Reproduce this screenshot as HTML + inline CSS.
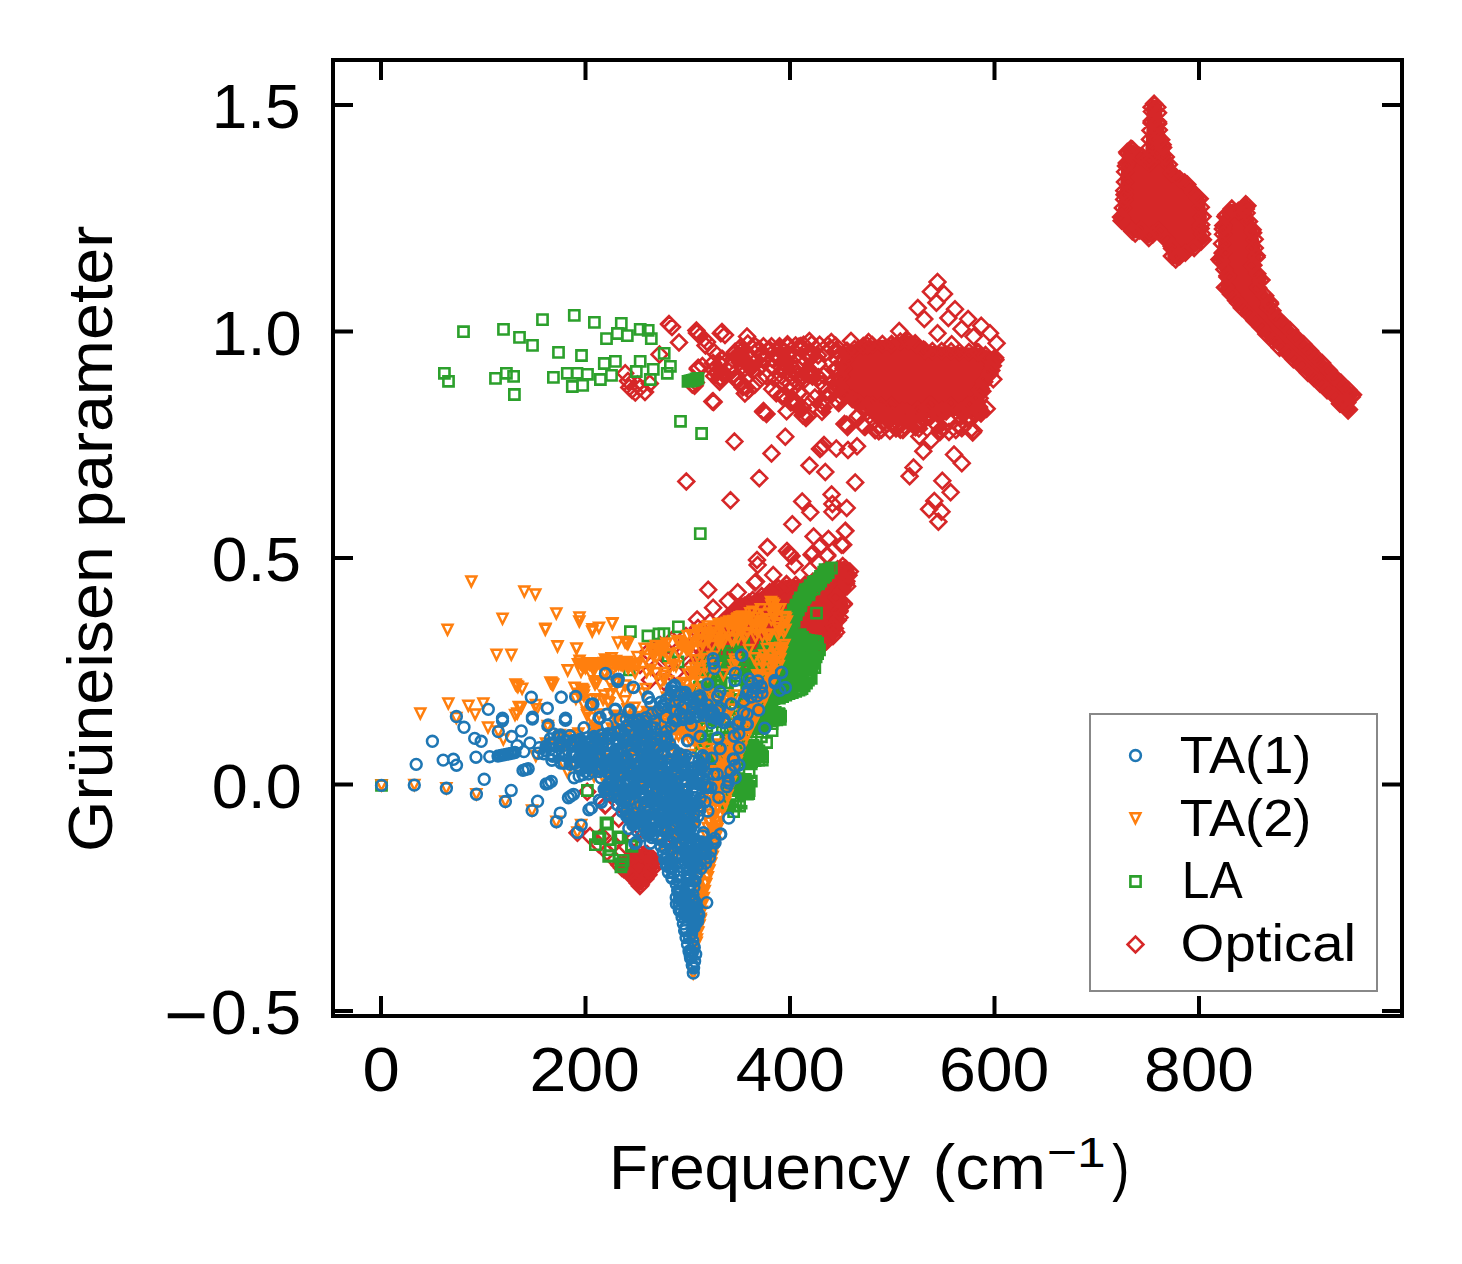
<!DOCTYPE html>
<html lang="en"><head><meta charset="utf-8"><title>Grüneisen parameter vs Frequency</title>
<style>html,body{margin:0;padding:0;background:#fff;width:1462px;height:1264px;overflow:hidden}svg text{font-family:"Liberation Sans",sans-serif}</style></head>
<body>
<svg width="1462" height="1264" viewBox="0 0 1462 1264" style="position:absolute;left:0;top:0;font-family:'Liberation Sans',sans-serif">
<rect width="1462" height="1264" fill="#fff"/>
<clipPath id="ax"><rect x="333" y="60" width="1069" height="956"/></clipPath>
<g clip-path="url(#ax)">
<polygon points="1157.9,101 1157.5,100.7 1157.2,100.4 1156.8,100.1 1156.4,99.9 1156,99.8 1155.5,99.6 1155.1,99.5 1154.6,99.5 1154.2,99.5 1153.7,99.5 1153.2,99.6 1152.8,99.8 1152.4,99.9 1152,100.1 1151.6,100.4 1151.2,100.7 1150.9,101 1148.1,103.9 1147.8,104.2 1147.6,104.6 1147.3,105 1147.1,105.4 1147,105.9 1146.9,106.3 1146.8,106.7 1146.8,107.2 1146.8,122.8 1145.1,153.7 1133.9,144.9 1133.5,144.7 1133.1,144.4 1132.7,144.2 1132.2,144.1 1131.8,144 1131.3,143.9 1130.8,143.9 1130.4,144 1129.9,144 1129.4,144.2 1129,144.3 1128.6,144.6 1128.2,144.8 1127.8,145.1 1124,148.4 1123.6,148.8 1123.3,149.1 1123.1,149.5 1122.8,149.9 1122.7,150.3 1122.5,150.8 1122.4,151.2 1122.3,151.7 1121.2,165.6 1121.2,165.8 1119.8,194.2 1116.9,216.7 1116.9,217.3 1116.9,220.7 1116.9,221.2 1117,221.7 1117.1,222.1 1117.3,222.6 1117.5,223 1117.8,223.4 1118.1,223.8 1118.4,224.2 1131.9,237.1 1132.3,237.4 1132.6,237.7 1133.1,237.9 1133.5,238.1 1134,238.2 1134.5,238.3 1134.9,238.4 1135.4,238.4 1135.9,238.3 1136.4,238.2 1136.8,238.1 1137.3,237.9 1137.7,237.7 1140.3,236.1 1145.3,241.3 1145.7,241.6 1146,241.9 1146.4,242.1 1146.9,242.4 1147.3,242.5 1147.8,242.6 1148.2,242.7 1148.7,242.8 1149.2,242.7 1149.6,242.7 1150.1,242.6 1150.6,242.4 1151,242.2 1151.4,242 1151.8,241.7 1157.5,237.2 1167.3,250 1167.3,256.2 1167.3,256.7 1167.4,257.2 1167.5,257.7 1167.7,258.1 1167.9,258.6 1168.2,259 1168.5,259.4 1168.9,259.7 1172.5,263 1172.8,263.3 1173.2,263.6 1173.6,263.8 1174,264 1174.5,264.1 1174.9,264.2 1175.4,264.3 1175.8,264.3 1176.3,264.3 1176.8,264.2 1177.2,264.1 1177.6,263.9 1178,263.7 1178.4,263.4 1178.8,263.2 1182.4,260.1 1196.3,251.8 1196.7,251.6 1197,251.3 1206.1,243.3 1206.4,242.9 1206.7,242.6 1207,242.2 1207.2,241.8 1207.4,241.4 1207.5,241 1207.6,240.5 1207.7,240.1 1207.7,239.6 1207.7,239.2 1207.6,238.7 1205.5,228.2 1206.9,217.4 1206.9,217 1206.9,216.6 1206.9,216.2 1204.4,198.1 1204.4,197.6 1204.2,197.2 1204,196.7 1203.8,196.3 1203.5,195.9 1203.2,195.5 1188.2,179.2 1187.9,178.9 1187.5,178.7 1176,169.9 1167.2,143.4 1162.8,123.1 1162,107.1 1162,106.6 1161.9,106.1 1161.7,105.7 1161.6,105.2 1161.3,104.8 1161,104.4 1160.7,104 1157.9,101" fill="#d62728"/><polygon points="1249.2,200.8 1248.8,200.6 1248.4,200.3 1248,200.1 1247.6,199.9 1247.2,199.8 1246.7,199.7 1246.3,199.6 1245.8,199.6 1245.4,199.7 1244.9,199.8 1244.5,199.9 1244,200 1243.6,200.3 1243.3,200.5 1242.9,200.8 1237.2,205.6 1233.5,204.1 1233.1,204 1232.6,203.9 1232.1,203.8 1231.6,203.8 1231.1,203.9 1230.6,203.9 1230.2,204.1 1229.7,204.3 1229.3,204.5 1228.9,204.8 1228.5,205.1 1228.1,205.4 1222.8,211.5 1222.5,211.9 1222.3,212.3 1222.1,212.7 1221.9,213.1 1221.8,213.5 1218.2,227.9 1218.1,228.4 1218.1,229 1218.1,251.5 1215.2,257.4 1215,257.8 1214.8,258.3 1214.7,258.8 1214.7,259.3 1214.7,259.8 1214.7,260.2 1214.8,260.7 1215,261.2 1215.2,261.6 1222.4,276.2 1220.2,286.4 1220.2,286.8 1220.1,287.3 1220.1,287.8 1220.2,288.3 1220.3,288.8 1220.5,289.2 1220.7,289.7 1221,290.1 1221.3,290.5 1234.5,306 1234.6,306.2 1265.6,340 1265.9,340.3 1339.8,408.6 1344.5,413.7 1344.8,414 1345.2,414.3 1345.6,414.6 1346.1,414.8 1346.5,415 1347,415.1 1347.4,415.2 1347.9,415.3 1348.4,415.2 1348.9,415.2 1349.4,415.1 1349.8,414.9 1350.3,414.7 1350.7,414.5 1351.1,414.2 1351.4,413.9 1352.3,413 1352.6,412.7 1352.8,412.3 1353.1,411.9 1353.3,411.5 1353.4,411.1 1353.6,410.7 1353.6,410.2 1353.7,409.8 1353.7,409.3 1353.6,408.9 1353.5,408.4 1352,402.6 1356.4,398.2 1356.7,397.8 1357,397.4 1357.2,397 1357.4,396.6 1357.6,396.2 1357.7,395.7 1357.7,395.3 1357.8,394.8 1357.8,394.3 1357.7,393.9 1357.6,393.4 1357.4,393 1357.2,392.5 1357,392.1 1356.7,391.8 1356.4,391.4 1287.4,321.2 1273.5,305.7 1274.2,303.8 1274.3,303.4 1274.4,302.9 1274.4,302.4 1274.4,301.9 1274.3,301.5 1274.2,301 1274.1,300.6 1273.9,300.1 1273.6,299.7 1273.4,299.3 1263.4,287 1265.8,282 1266,281.6 1266.2,281.1 1266.3,280.6 1266.3,280.1 1266.3,279.6 1266.2,279.1 1266.1,278.7 1266,278.2 1265.8,277.7 1265.5,277.3 1257.9,265.5 1261.1,257.5 1261.3,257.1 1261.4,256.7 1261.4,256.3 1261.5,255.8 1261.5,255.4 1261.4,255 1257.8,232 1257.7,231.3 1250.9,209.4 1251.7,207.8 1251.9,207.4 1252,206.9 1252.1,206.5 1252.2,206 1252.2,205.5 1252.1,205 1252.1,204.5 1251.9,204.1 1251.7,203.6 1251.5,203.2 1251.2,202.8 1250.9,202.4 1250.6,202.1 1249.2,200.8" fill="#d62728"/><polygon points="845.3,346.4 844.8,346.5 844.3,346.7 843.9,347 843.5,347.3 843.1,347.6 842.8,347.9 842.5,348.3 842.3,348.8 842.1,349.2 841.9,349.7 841.8,350.1 834.7,387.9 834.6,388.4 834.6,388.8 834.6,389.3 834.7,389.8 834.8,390.2 835,390.7 835.2,391.1 835.4,391.5 835.7,391.8 836,392.2 841.4,397.6 841.7,397.9 842.1,398.2 853.9,406 854.2,406.2 854.6,406.4 855,406.6 867.5,410.8 879.1,418.5 879.5,418.7 879.9,418.9 880.4,419.1 880.8,419.2 881.3,419.3 881.8,419.3 918.5,419.3 919,419.3 940.4,417.1 962.8,414.9 973.7,418 974.2,418.1 974.7,418.1 975.1,418.1 975.6,418.1 976.1,418 976.6,417.9 977,417.7 977.5,417.5 977.9,417.2 978.3,416.9 978.6,416.6 978.9,416.2 982.6,411.1 982.9,410.6 983.1,410.2 983.3,409.7 983.4,409.2 983.5,408.7 985.4,390.1 995.4,373 995.5,372.6 995.7,372.3 999.8,361.4 1000,361 1000.1,360.6 1000.1,360.1 1000.1,359.6 1000.1,359.2 999.9,357.1 999.8,356.7 999.7,356.2 999.5,355.8 999.3,355.4 999.1,355 998.8,354.6 998.5,354.3 998.2,354 997.8,353.7 997.4,353.5 997,353.3 996.6,353.1 980.2,347.9 979.7,347.8 979.3,347.7 978.9,347.7 926.7,345.7 918,339.3 917.5,339 917,338.7 909.3,335.5 908.9,335.3 908.4,335.2 908,335.1 907.6,335.1 907.1,335.1 906.7,335.2 906.2,335.3 890.8,339.3 866.9,340.7 866.4,340.7 866,340.8 845.3,346.4" fill="#d62728"/><polygon points="694.2,657.7 694,658.1 693.9,658.5 693.7,659 693.7,659.5 693.7,659.9 693.7,660.4 693.8,660.8 693.9,661.3 694.1,661.7 694.3,662.1 699.8,672.1 700.1,672.6 700.4,672.9 700.7,673.3 701.1,673.6 701.5,673.9 701.9,674.1 702.4,674.3 702.8,674.5 703.3,674.6 703.8,674.6 704.3,674.6 704.7,674.6 719.5,672.3 719.6,672.3 759.6,665.3 798.9,659.4 799.3,659.3 799.8,659.2 822.6,651 823.1,650.8 823.5,650.6 823.9,650.3 824.3,650 839.4,635.6 839.7,635.3 840,634.9 840.2,634.5 840.5,634.1 840.6,633.6 840.8,633.1 840.8,632.6 840.9,632.2 840.8,631.7 840.8,631.2 840.6,630.7 840.5,630.3 838.9,626.7 843.4,620.4 843.7,620 843.9,619.5 844.1,619.1 844.2,618.6 844.3,618.1 844.3,617.6 844.3,612.2 847.6,607.2 847.8,606.8 848.1,606.4 848.2,605.9 848.3,605.5 848.4,605 848.4,604.5 848.4,604 848.3,603.6 848.2,603.1 848,602.7 847.8,602.2 847.5,601.8 847.3,601.4 843.3,596.9 850.4,589.7 850.8,589.4 851.1,589 851.3,588.5 851.5,588.1 851.7,587.6 851.8,587.1 851.8,586.7 851.8,586.2 851.8,585.7 851.2,581.7 854.3,573.2 854.4,572.8 854.5,572.3 854.6,571.8 854.6,571.4 854.6,570.9 854.5,570.5 854.3,570 854.2,569.6 854,569.2 853.7,568.8 853.4,568.4 853.1,568.1 852.7,567.8 845.6,562.2 845.2,561.9 844.8,561.7 844.4,561.5 843.9,561.4 843.5,561.3 843,561.2 842.6,561.2 842.1,561.2 841.6,561.3 841.2,561.4 840.8,561.6 840.3,561.8 839.9,562 839.6,562.3 839.2,562.6 836.6,565.2 806.6,579.7 786.7,579.7 786.1,579.7 785.6,579.8 785.1,580 784.6,580.2 771.2,586.4 771.1,586.5 746.8,598.2 746.4,598.3 746,598.6 739.5,603.2 724.2,613.8 723.8,614.1 723.4,614.4 707.7,631 707.4,631.4 707.1,631.8 706.9,632.2 694.2,657.7" fill="#d62728"/><polygon points="617.5,861.3 617.1,861.6 616.8,861.9 616.5,862.2 616.2,862.6 615.9,863 615.7,863.4 615.6,863.9 615.4,864.3 615.4,864.8 615.3,865.2 615.3,865.7 615.4,866.2 615.5,866.6 615.7,867.1 615.9,867.5 616.1,867.9 616.4,868.3 616.7,868.6 636.4,889.3 636.7,889.6 637.1,889.9 637.5,890.1 637.9,890.3 638.3,890.5 638.8,890.6 639.2,890.7 639.7,890.7 640.1,890.7 640.6,890.7 641.1,890.6 641.5,890.4 641.9,890.2 642.3,890 642.7,889.8 643.1,889.5 643.4,889.1 643.7,888.8 656.4,871.4 656.6,871 656.8,870.6 657,870.2 657.1,869.8 657.2,869.4 657.3,869 658.1,859.7 658.1,859.2 658.1,858.8 658.1,858.3 657.9,857.9 657.8,857.4 657.6,857 657.4,856.6 657.1,856.3 656.8,855.9 656.5,855.6 656.1,855.3 648,849.6 647.6,849.3 647.2,849.1 646.7,849 646.3,848.8 645.8,848.7 645.3,848.7 644.9,848.7 644.4,848.8 634.8,850.4 634.3,850.5 633.8,850.7 633.4,850.9 633,851.1 617.5,861.3" fill="#d62728"/>
<path d="M661.4,324.5l7.9,-7.9l7.9,7.9l-7.9,7.9zM671.1,342.5l7.9,-7.9l7.9,7.9l-7.9,7.9zM688.5,330.4l7.9,-7.9l7.9,7.9l-7.9,7.9zM651.6,354.4l7.9,-7.9l7.9,7.9l-7.9,7.9zM617.3,373.3l7.9,-7.9l7.9,7.9l-7.9,7.9zM621.4,387.5l7.9,-7.9l7.9,7.9l-7.9,7.9zM627.4,392.6l7.9,-7.9l7.9,7.9l-7.9,7.9zM629.6,384.4l7.9,-7.9l7.9,7.9l-7.9,7.9zM641.9,383.4l7.9,-7.9l7.9,7.9l-7.9,7.9zM704.5,401.4l7.9,-7.9l7.9,7.9l-7.9,7.9zM624.1,390l7.9,-7.9l7.9,7.9l-7.9,7.9zM632.1,388l7.9,-7.9l7.9,7.9l-7.9,7.9zM637.1,392l7.9,-7.9l7.9,7.9l-7.9,7.9zM620.1,381l7.9,-7.9l7.9,7.9l-7.9,7.9zM705.7,402.1l7.9,-7.9l7.9,7.9l-7.9,7.9zM726.5,441.6l7.9,-7.9l7.9,7.9l-7.9,7.9zM678.4,481.4l7.9,-7.9l7.9,7.9l-7.9,7.9zM722.6,500.3l7.9,-7.9l7.9,7.9l-7.9,7.9zM751.4,478.2l7.9,-7.9l7.9,7.9l-7.9,7.9zM763.6,453.5l7.9,-7.9l7.9,7.9l-7.9,7.9zM777.4,436.7l7.9,-7.9l7.9,7.9l-7.9,7.9zM755.3,411.7l7.9,-7.9l7.9,7.9l-7.9,7.9zM801.6,465.5l7.9,-7.9l7.9,7.9l-7.9,7.9zM817.4,472l7.9,-7.9l7.9,7.9l-7.9,7.9zM814.1,447.3l7.9,-7.9l7.9,7.9l-7.9,7.9zM812.1,449l7.9,-7.9l7.9,7.9l-7.9,7.9zM816.1,445l7.9,-7.9l7.9,7.9l-7.9,7.9zM828.4,448.6l7.9,-7.9l7.9,7.9l-7.9,7.9zM840.1,449.9l7.9,-7.9l7.9,7.9l-7.9,7.9zM849.1,446.3l7.9,-7.9l7.9,7.9l-7.9,7.9zM847.3,482.4l7.9,-7.9l7.9,7.9l-7.9,7.9zM823.7,494.4l7.9,-7.9l7.9,7.9l-7.9,7.9zM824.5,504l7.9,-7.9l7.9,7.9l-7.9,7.9zM824.5,511.8l7.9,-7.9l7.9,7.9l-7.9,7.9zM838.8,507.9l7.9,-7.9l7.9,7.9l-7.9,7.9zM794.3,501.4l7.9,-7.9l7.9,7.9l-7.9,7.9zM802.4,512.3l7.9,-7.9l7.9,7.9l-7.9,7.9zM784.4,524.3l7.9,-7.9l7.9,7.9l-7.9,7.9zM837.5,530.8l7.9,-7.9l7.9,7.9l-7.9,7.9zM805.7,536.5l7.9,-7.9l7.9,7.9l-7.9,7.9zM820.6,539.1l7.9,-7.9l7.9,7.9l-7.9,7.9zM833.6,544.8l7.9,-7.9l7.9,7.9l-7.9,7.9zM811.5,546.9l7.9,-7.9l7.9,7.9l-7.9,7.9zM759.5,546.9l7.9,-7.9l7.9,7.9l-7.9,7.9zM781.6,553.4l7.9,-7.9l7.9,7.9l-7.9,7.9zM779.1,551l7.9,-7.9l7.9,7.9l-7.9,7.9zM803.7,554.7l7.9,-7.9l7.9,7.9l-7.9,7.9zM819.3,556l7.9,-7.9l7.9,7.9l-7.9,7.9zM749.1,559.9l7.9,-7.9l7.9,7.9l-7.9,7.9zM915.4,451.2l7.9,-7.9l7.9,7.9l-7.9,7.9zM911.5,436.4l7.9,-7.9l7.9,7.9l-7.9,7.9zM923.2,440.3l7.9,-7.9l7.9,7.9l-7.9,7.9zM905.6,467.6l7.9,-7.9l7.9,7.9l-7.9,7.9zM901.7,476.2l7.9,-7.9l7.9,7.9l-7.9,7.9zM946.1,454.6l7.9,-7.9l7.9,7.9l-7.9,7.9zM953.9,463.2l7.9,-7.9l7.9,7.9l-7.9,7.9zM934.4,480.8l7.9,-7.9l7.9,7.9l-7.9,7.9zM942.7,492.3l7.9,-7.9l7.9,7.9l-7.9,7.9zM926.4,500.9l7.9,-7.9l7.9,7.9l-7.9,7.9zM921.2,509.2l7.9,-7.9l7.9,7.9l-7.9,7.9zM933.6,511.8l7.9,-7.9l7.9,7.9l-7.9,7.9zM930.5,521.7l7.9,-7.9l7.9,7.9l-7.9,7.9zM964.8,432.5l7.9,-7.9l7.9,7.9l-7.9,7.9zM947.9,429.9l7.9,-7.9l7.9,7.9l-7.9,7.9zM934.9,428.6l7.9,-7.9l7.9,7.9l-7.9,7.9zM907.6,427.3l7.9,-7.9l7.9,7.9l-7.9,7.9zM888.1,428.6l7.9,-7.9l7.9,7.9l-7.9,7.9zM855.7,426l7.9,-7.9l7.9,7.9l-7.9,7.9zM838.8,424.7l7.9,-7.9l7.9,7.9l-7.9,7.9zM814.1,411.7l7.9,-7.9l7.9,7.9l-7.9,7.9zM795.9,415.6l7.9,-7.9l7.9,7.9l-7.9,7.9zM782.9,402.6l7.9,-7.9l7.9,7.9l-7.9,7.9zM929.6,281.9l7.9,-7.9l7.9,7.9l-7.9,7.9zM923,291.7l7.9,-7.9l7.9,7.9l-7.9,7.9zM936.1,293.9l7.9,-7.9l7.9,7.9l-7.9,7.9zM928.5,302.7l7.9,-7.9l7.9,7.9l-7.9,7.9zM909.9,308.1l7.9,-7.9l7.9,7.9l-7.9,7.9zM916.4,319.1l7.9,-7.9l7.9,7.9l-7.9,7.9zM947.1,309.2l7.9,-7.9l7.9,7.9l-7.9,7.9zM940.5,318l7.9,-7.9l7.9,7.9l-7.9,7.9zM929.6,333.3l7.9,-7.9l7.9,7.9l-7.9,7.9zM943.8,344.3l7.9,-7.9l7.9,7.9l-7.9,7.9zM960.2,319.1l7.9,-7.9l7.9,7.9l-7.9,7.9zM953.6,328.9l7.9,-7.9l7.9,7.9l-7.9,7.9zM973.3,325.7l7.9,-7.9l7.9,7.9l-7.9,7.9zM965.7,336.6l7.9,-7.9l7.9,7.9l-7.9,7.9zM982.1,333.3l7.9,-7.9l7.9,7.9l-7.9,7.9zM988.7,343.2l7.9,-7.9l7.9,7.9l-7.9,7.9zM891.3,331.1l7.9,-7.9l7.9,7.9l-7.9,7.9zM712.9,333.3l7.9,-7.9l7.9,7.9l-7.9,7.9zM739.1,336.6l7.9,-7.9l7.9,7.9l-7.9,7.9zM697.6,345.4l7.9,-7.9l7.9,7.9l-7.9,7.9zM705.2,362.9l7.9,-7.9l7.9,7.9l-7.9,7.9zM705.2,401.2l7.9,-7.9l7.9,7.9l-7.9,7.9zM737,393.5l7.9,-7.9l7.9,7.9l-7.9,7.9zM755.6,411l7.9,-7.9l7.9,7.9l-7.9,7.9zM784,401.2l7.9,-7.9l7.9,7.9l-7.9,7.9zM795,415.4l7.9,-7.9l7.9,7.9l-7.9,7.9zM812.5,404.5l7.9,-7.9l7.9,7.9l-7.9,7.9zM836.6,424.1l7.9,-7.9l7.9,7.9l-7.9,7.9zM764.3,389.1l7.9,-7.9l7.9,7.9l-7.9,7.9zM762.1,349.7l7.9,-7.9l7.9,7.9l-7.9,7.9zM779.6,344.3l7.9,-7.9l7.9,7.9l-7.9,7.9zM801.5,341l7.9,-7.9l7.9,7.9l-7.9,7.9zM823.4,342.1l7.9,-7.9l7.9,7.9l-7.9,7.9zM843.1,341l7.9,-7.9l7.9,7.9l-7.9,7.9zM860.6,342.1l7.9,-7.9l7.9,7.9l-7.9,7.9zM985.4,379.3l7.9,-7.9l7.9,7.9l-7.9,7.9zM974.4,391.3l7.9,-7.9l7.9,7.9l-7.9,7.9zM978.8,408.8l7.9,-7.9l7.9,7.9l-7.9,7.9zM965.7,430.7l7.9,-7.9l7.9,7.9l-7.9,7.9zM954.1,428l7.9,-7.9l7.9,7.9l-7.9,7.9zM932.1,432l7.9,-7.9l7.9,7.9l-7.9,7.9zM911,428.5l7.9,-7.9l7.9,7.9l-7.9,7.9zM886.9,426.3l7.9,-7.9l7.9,7.9l-7.9,7.9zM759.6,547.2l7.9,-7.9l7.9,7.9l-7.9,7.9zM749.7,565l7.9,-7.9l7.9,7.9l-7.9,7.9zM748.1,581.6l7.9,-7.9l7.9,7.9l-7.9,7.9zM782.5,554.9l7.9,-7.9l7.9,7.9l-7.9,7.9zM783.6,556l7.9,-7.9l7.9,7.9l-7.9,7.9zM781.1,553.5l7.9,-7.9l7.9,7.9l-7.9,7.9zM805.7,536.5l7.9,-7.9l7.9,7.9l-7.9,7.9zM820.5,538.9l7.9,-7.9l7.9,7.9l-7.9,7.9zM837.1,531.2l7.9,-7.9l7.9,7.9l-7.9,7.9zM835.3,544.8l7.9,-7.9l7.9,7.9l-7.9,7.9zM812.8,545.4l7.9,-7.9l7.9,7.9l-7.9,7.9zM819.3,554.9l7.9,-7.9l7.9,7.9l-7.9,7.9zM805.1,553.1l7.9,-7.9l7.9,7.9l-7.9,7.9zM809.8,562l7.9,-7.9l7.9,7.9l-7.9,7.9zM786.7,565.6l7.9,-7.9l7.9,7.9l-7.9,7.9zM802.1,570.3l7.9,-7.9l7.9,7.9l-7.9,7.9zM765.3,575.1l7.9,-7.9l7.9,7.9l-7.9,7.9zM700.3,589.8l7.9,-7.9l7.9,7.9l-7.9,7.9zM705.2,607.7l7.9,-7.9l7.9,7.9l-7.9,7.9zM689.2,619.4l7.9,-7.9l7.9,7.9l-7.9,7.9zM720,600.9l7.9,-7.9l7.9,7.9l-7.9,7.9zM729.8,592.3l7.9,-7.9l7.9,7.9l-7.9,7.9zM747.1,582.5l7.9,-7.9l7.9,7.9l-7.9,7.9zM597.5,804.9l7.9,-7.9l7.9,7.9l-7.9,7.9zM610.8,818.7l7.9,-7.9l7.9,7.9l-7.9,7.9zM569.8,832.6l7.9,-7.9l7.9,7.9l-7.9,7.9zM579.3,791.7l7.9,-7.9l7.9,7.9l-7.9,7.9zM597.2,805.4l7.9,-7.9l7.9,7.9l-7.9,7.9zM569.5,832.8l7.9,-7.9l7.9,7.9l-7.9,7.9zM1146.2,103.7l7.9,-7.9l7.9,7.9l-7.9,7.9zM1144,111.6l7.9,-7.9l7.9,7.9l-7.9,7.9zM1143.8,121.1l7.9,-7.9l7.9,7.9l-7.9,7.9zM1142.6,130.4l7.9,-7.9l7.9,7.9l-7.9,7.9zM1142.1,139.4l7.9,-7.9l7.9,7.9l-7.9,7.9zM1141.7,147.9l7.9,-7.9l7.9,7.9l-7.9,7.9zM1141.7,158.1l7.9,-7.9l7.9,7.9l-7.9,7.9zM1138.2,160.6l7.9,-7.9l7.9,7.9l-7.9,7.9zM1131.8,156.1l7.9,-7.9l7.9,7.9l-7.9,7.9zM1124.6,149.6l7.9,-7.9l7.9,7.9l-7.9,7.9zM1119.8,153.6l7.9,-7.9l7.9,7.9l-7.9,7.9zM1118.9,163l7.9,-7.9l7.9,7.9l-7.9,7.9zM1117.2,171.8l7.9,-7.9l7.9,7.9l-7.9,7.9zM1117.1,182l7.9,-7.9l7.9,7.9l-7.9,7.9zM1116.4,190.7l7.9,-7.9l7.9,7.9l-7.9,7.9zM1116.3,199.4l7.9,-7.9l7.9,7.9l-7.9,7.9zM1115,207.9l7.9,-7.9l7.9,7.9l-7.9,7.9zM1113.1,217.1l7.9,-7.9l7.9,7.9l-7.9,7.9zM1118.5,224.7l7.9,-7.9l7.9,7.9l-7.9,7.9zM1124.4,231.2l7.9,-7.9l7.9,7.9l-7.9,7.9zM1131.9,230.4l7.9,-7.9l7.9,7.9l-7.9,7.9zM1139,235.7l7.9,-7.9l7.9,7.9l-7.9,7.9zM1144.9,234.6l7.9,-7.9l7.9,7.9l-7.9,7.9zM1152,233l7.9,-7.9l7.9,7.9l-7.9,7.9zM1157.9,239.2l7.9,-7.9l7.9,7.9l-7.9,7.9zM1163.8,246.2l7.9,-7.9l7.9,7.9l-7.9,7.9zM1164.1,255.8l7.9,-7.9l7.9,7.9l-7.9,7.9zM1169.9,257.3l7.9,-7.9l7.9,7.9l-7.9,7.9zM1177.4,252.7l7.9,-7.9l7.9,7.9l-7.9,7.9zM1186.3,247.9l7.9,-7.9l7.9,7.9l-7.9,7.9zM1193.3,241.4l7.9,-7.9l7.9,7.9l-7.9,7.9zM1194.2,234l7.9,-7.9l7.9,7.9l-7.9,7.9zM1193.3,224.8l7.9,-7.9l7.9,7.9l-7.9,7.9zM1194.7,216.6l7.9,-7.9l7.9,7.9l-7.9,7.9zM1192.9,207.2l7.9,-7.9l7.9,7.9l-7.9,7.9zM1190.5,198.4l7.9,-7.9l7.9,7.9l-7.9,7.9zM1185.3,192.2l7.9,-7.9l7.9,7.9l-7.9,7.9zM1179.4,184.4l7.9,-7.9l7.9,7.9l-7.9,7.9zM1171.9,179.2l7.9,-7.9l7.9,7.9l-7.9,7.9zM1164,173.4l7.9,-7.9l7.9,7.9l-7.9,7.9zM1161,164.5l7.9,-7.9l7.9,7.9l-7.9,7.9zM1157.9,156.9l7.9,-7.9l7.9,7.9l-7.9,7.9zM1155.2,147.5l7.9,-7.9l7.9,7.9l-7.9,7.9zM1153.3,139.7l7.9,-7.9l7.9,7.9l-7.9,7.9zM1150.9,130.1l7.9,-7.9l7.9,7.9l-7.9,7.9zM1150.1,121.9l7.9,-7.9l7.9,7.9l-7.9,7.9zM1150.1,112.8l7.9,-7.9l7.9,7.9l-7.9,7.9zM1146.5,104.3l7.9,-7.9l7.9,7.9l-7.9,7.9zM1143.7,107.2l7.9,-7.9l7.9,7.9l-7.9,7.9zM1143.7,122.9l7.9,-7.9l7.9,7.9l-7.9,7.9zM1141.5,163.2l7.9,-7.9l7.9,7.9l-7.9,7.9zM1123.1,148.7l7.9,-7.9l7.9,7.9l-7.9,7.9zM1119.3,152.1l7.9,-7.9l7.9,7.9l-7.9,7.9zM1118.1,166l7.9,-7.9l7.9,7.9l-7.9,7.9zM1116.7,194.7l7.9,-7.9l7.9,7.9l-7.9,7.9zM1113.8,217.3l7.9,-7.9l7.9,7.9l-7.9,7.9zM1113.8,220.7l7.9,-7.9l7.9,7.9l-7.9,7.9zM1127.3,233.6l7.9,-7.9l7.9,7.9l-7.9,7.9zM1133.3,229.9l7.9,-7.9l7.9,7.9l-7.9,7.9zM1140.9,238l7.9,-7.9l7.9,7.9l-7.9,7.9zM1150.4,230.4l7.9,-7.9l7.9,7.9l-7.9,7.9zM1164.2,248.4l7.9,-7.9l7.9,7.9l-7.9,7.9zM1164.2,256.2l7.9,-7.9l7.9,7.9l-7.9,7.9zM1167.8,259.5l7.9,-7.9l7.9,7.9l-7.9,7.9zM1171.8,256.2l7.9,-7.9l7.9,7.9l-7.9,7.9zM1186,247.7l7.9,-7.9l7.9,7.9l-7.9,7.9zM1195,239.7l7.9,-7.9l7.9,7.9l-7.9,7.9zM1192.7,228.4l7.9,-7.9l7.9,7.9l-7.9,7.9zM1194.3,216.8l7.9,-7.9l7.9,7.9l-7.9,7.9zM1191.8,198.8l7.9,-7.9l7.9,7.9l-7.9,7.9zM1176.8,182.5l7.9,-7.9l7.9,7.9l-7.9,7.9zM1164.1,172.9l7.9,-7.9l7.9,7.9l-7.9,7.9zM1154.7,144.7l7.9,-7.9l7.9,7.9l-7.9,7.9zM1150.2,123.7l7.9,-7.9l7.9,7.9l-7.9,7.9zM1149.4,107.3l7.9,-7.9l7.9,7.9l-7.9,7.9zM1237.8,204.3l7.9,-7.9l7.9,7.9l-7.9,7.9zM1230.9,211l7.9,-7.9l7.9,7.9l-7.9,7.9zM1223.9,208.9l7.9,-7.9l7.9,7.9l-7.9,7.9zM1217.5,216.4l7.9,-7.9l7.9,7.9l-7.9,7.9zM1215.4,225.6l7.9,-7.9l7.9,7.9l-7.9,7.9zM1215.2,234.3l7.9,-7.9l7.9,7.9l-7.9,7.9zM1214.2,243.7l7.9,-7.9l7.9,7.9l-7.9,7.9zM1214.7,253.1l7.9,-7.9l7.9,7.9l-7.9,7.9zM1213.2,261.5l7.9,-7.9l7.9,7.9l-7.9,7.9zM1216.5,269.5l7.9,-7.9l7.9,7.9l-7.9,7.9zM1219.5,277l7.9,-7.9l7.9,7.9l-7.9,7.9zM1217.9,287.1l7.9,-7.9l7.9,7.9l-7.9,7.9zM1223.1,294.2l7.9,-7.9l7.9,7.9l-7.9,7.9zM1228.2,300.6l7.9,-7.9l7.9,7.9l-7.9,7.9zM1233.9,307.8l7.9,-7.9l7.9,7.9l-7.9,7.9zM1240,313.6l7.9,-7.9l7.9,7.9l-7.9,7.9zM1246.4,320.5l7.9,-7.9l7.9,7.9l-7.9,7.9zM1252.7,327.1l7.9,-7.9l7.9,7.9l-7.9,7.9zM1258.4,334l7.9,-7.9l7.9,7.9l-7.9,7.9zM1265.1,340.7l7.9,-7.9l7.9,7.9l-7.9,7.9zM1271.7,347.7l7.9,-7.9l7.9,7.9l-7.9,7.9zM1279.3,352.8l7.9,-7.9l7.9,7.9l-7.9,7.9zM1285.5,359.3l7.9,-7.9l7.9,7.9l-7.9,7.9zM1292.4,365.1l7.9,-7.9l7.9,7.9l-7.9,7.9zM1299.9,372.7l7.9,-7.9l7.9,7.9l-7.9,7.9zM1306,378.1l7.9,-7.9l7.9,7.9l-7.9,7.9zM1312.1,383.7l7.9,-7.9l7.9,7.9l-7.9,7.9zM1319.2,390.2l7.9,-7.9l7.9,7.9l-7.9,7.9zM1326.7,396.2l7.9,-7.9l7.9,7.9l-7.9,7.9zM1332.1,403.7l7.9,-7.9l7.9,7.9l-7.9,7.9zM1339.3,408.9l7.9,-7.9l7.9,7.9l-7.9,7.9zM1339.4,402.4l7.9,-7.9l7.9,7.9l-7.9,7.9zM1343.8,396.9l7.9,-7.9l7.9,7.9l-7.9,7.9zM1340.6,390l7.9,-7.9l7.9,7.9l-7.9,7.9zM1333.3,382.9l7.9,-7.9l7.9,7.9l-7.9,7.9zM1326.7,377l7.9,-7.9l7.9,7.9l-7.9,7.9zM1320.9,370.5l7.9,-7.9l7.9,7.9l-7.9,7.9zM1314.2,363.1l7.9,-7.9l7.9,7.9l-7.9,7.9zM1308.5,357.8l7.9,-7.9l7.9,7.9l-7.9,7.9zM1302.2,351l7.9,-7.9l7.9,7.9l-7.9,7.9zM1295.7,344.3l7.9,-7.9l7.9,7.9l-7.9,7.9zM1288.4,337.5l7.9,-7.9l7.9,7.9l-7.9,7.9zM1282.2,330.2l7.9,-7.9l7.9,7.9l-7.9,7.9zM1275.3,324l7.9,-7.9l7.9,7.9l-7.9,7.9zM1269.5,317.9l7.9,-7.9l7.9,7.9l-7.9,7.9zM1264.5,310.7l7.9,-7.9l7.9,7.9l-7.9,7.9zM1262.2,304l7.9,-7.9l7.9,7.9l-7.9,7.9zM1257.3,295.7l7.9,-7.9l7.9,7.9l-7.9,7.9zM1250.4,288.3l7.9,-7.9l7.9,7.9l-7.9,7.9zM1252.8,280.3l7.9,-7.9l7.9,7.9l-7.9,7.9zM1249.4,273.7l7.9,-7.9l7.9,7.9l-7.9,7.9zM1245.5,265.2l7.9,-7.9l7.9,7.9l-7.9,7.9zM1248.6,257.3l7.9,-7.9l7.9,7.9l-7.9,7.9zM1246.9,248.1l7.9,-7.9l7.9,7.9l-7.9,7.9zM1246.8,239.3l7.9,-7.9l7.9,7.9l-7.9,7.9zM1244.7,229.8l7.9,-7.9l7.9,7.9l-7.9,7.9zM1241.1,221.6l7.9,-7.9l7.9,7.9l-7.9,7.9zM1238.7,212.9l7.9,-7.9l7.9,7.9l-7.9,7.9zM1238.1,204.4l7.9,-7.9l7.9,7.9l-7.9,7.9zM1230.3,211.1l7.9,-7.9l7.9,7.9l-7.9,7.9zM1223.9,208.6l7.9,-7.9l7.9,7.9l-7.9,7.9zM1218.6,214.7l7.9,-7.9l7.9,7.9l-7.9,7.9zM1215,229l7.9,-7.9l7.9,7.9l-7.9,7.9zM1215,252.7l7.9,-7.9l7.9,7.9l-7.9,7.9zM1211.6,259.5l7.9,-7.9l7.9,7.9l-7.9,7.9zM1219.6,275.6l7.9,-7.9l7.9,7.9l-7.9,7.9zM1217.1,287.4l7.9,-7.9l7.9,7.9l-7.9,7.9zM1230.3,302.9l7.9,-7.9l7.9,7.9l-7.9,7.9zM1261.3,336.8l7.9,-7.9l7.9,7.9l-7.9,7.9zM1335.4,405.2l7.9,-7.9l7.9,7.9l-7.9,7.9zM1340.2,410.5l7.9,-7.9l7.9,7.9l-7.9,7.9zM1341,409.6l7.9,-7.9l7.9,7.9l-7.9,7.9zM1338.8,401.2l7.9,-7.9l7.9,7.9l-7.9,7.9zM1345.1,394.8l7.9,-7.9l7.9,7.9l-7.9,7.9zM1276.1,324.4l7.9,-7.9l7.9,7.9l-7.9,7.9zM1260.3,306.9l7.9,-7.9l7.9,7.9l-7.9,7.9zM1261.8,302.3l7.9,-7.9l7.9,7.9l-7.9,7.9zM1249.9,287.6l7.9,-7.9l7.9,7.9l-7.9,7.9zM1253.6,279.9l7.9,-7.9l7.9,7.9l-7.9,7.9zM1244.6,266l7.9,-7.9l7.9,7.9l-7.9,7.9zM1248.8,255.7l7.9,-7.9l7.9,7.9l-7.9,7.9zM1245.2,232.7l7.9,-7.9l7.9,7.9l-7.9,7.9zM1237.9,208.9l7.9,-7.9l7.9,7.9l-7.9,7.9zM1239.5,205.7l7.9,-7.9l7.9,7.9l-7.9,7.9zM839.4,350.9l7.9,-7.9l7.9,7.9l-7.9,7.9zM836.8,360.6l7.9,-7.9l7.9,7.9l-7.9,7.9zM835.7,368.2l7.9,-7.9l7.9,7.9l-7.9,7.9zM833,377.1l7.9,-7.9l7.9,7.9l-7.9,7.9zM832.6,387l7.9,-7.9l7.9,7.9l-7.9,7.9zM835.7,394l7.9,-7.9l7.9,7.9l-7.9,7.9zM844.4,398.9l7.9,-7.9l7.9,7.9l-7.9,7.9zM851.3,403l7.9,-7.9l7.9,7.9l-7.9,7.9zM859.5,405l7.9,-7.9l7.9,7.9l-7.9,7.9zM868.5,410.6l7.9,-7.9l7.9,7.9l-7.9,7.9zM875.6,415.2l7.9,-7.9l7.9,7.9l-7.9,7.9zM884.5,415.1l7.9,-7.9l7.9,7.9l-7.9,7.9zM894.1,414l7.9,-7.9l7.9,7.9l-7.9,7.9zM902.2,414.2l7.9,-7.9l7.9,7.9l-7.9,7.9zM911.2,414.5l7.9,-7.9l7.9,7.9l-7.9,7.9zM920.2,413.4l7.9,-7.9l7.9,7.9l-7.9,7.9zM929,413.2l7.9,-7.9l7.9,7.9l-7.9,7.9zM938.3,411.6l7.9,-7.9l7.9,7.9l-7.9,7.9zM947.7,411.4l7.9,-7.9l7.9,7.9l-7.9,7.9zM956.3,411l7.9,-7.9l7.9,7.9l-7.9,7.9zM965.1,412.8l7.9,-7.9l7.9,7.9l-7.9,7.9zM971,406.9l7.9,-7.9l7.9,7.9l-7.9,7.9zM971.7,398.2l7.9,-7.9l7.9,7.9l-7.9,7.9zM971.9,390.2l7.9,-7.9l7.9,7.9l-7.9,7.9zM976.3,381.7l7.9,-7.9l7.9,7.9l-7.9,7.9zM981.7,374.1l7.9,-7.9l7.9,7.9l-7.9,7.9zM984.9,365.8l7.9,-7.9l7.9,7.9l-7.9,7.9zM986.9,358l7.9,-7.9l7.9,7.9l-7.9,7.9zM977.6,354.9l7.9,-7.9l7.9,7.9l-7.9,7.9zM969.2,352.1l7.9,-7.9l7.9,7.9l-7.9,7.9zM961,352.1l7.9,-7.9l7.9,7.9l-7.9,7.9zM951.6,352.1l7.9,-7.9l7.9,7.9l-7.9,7.9zM943.2,351.3l7.9,-7.9l7.9,7.9l-7.9,7.9zM933.7,351l7.9,-7.9l7.9,7.9l-7.9,7.9zM924.5,351l7.9,-7.9l7.9,7.9l-7.9,7.9zM915.7,349.5l7.9,-7.9l7.9,7.9l-7.9,7.9zM908.5,344.8l7.9,-7.9l7.9,7.9l-7.9,7.9zM900.7,340.9l7.9,-7.9l7.9,7.9l-7.9,7.9zM892.4,341.6l7.9,-7.9l7.9,7.9l-7.9,7.9zM883.1,344.8l7.9,-7.9l7.9,7.9l-7.9,7.9zM874.5,344l7.9,-7.9l7.9,7.9l-7.9,7.9zM864.4,345l7.9,-7.9l7.9,7.9l-7.9,7.9zM855.4,345.9l7.9,-7.9l7.9,7.9l-7.9,7.9zM846.7,348.9l7.9,-7.9l7.9,7.9l-7.9,7.9zM838.6,351l7.9,-7.9l7.9,7.9l-7.9,7.9zM831.5,388.8l7.9,-7.9l7.9,7.9l-7.9,7.9zM836.9,394.2l7.9,-7.9l7.9,7.9l-7.9,7.9zM848.7,402l7.9,-7.9l7.9,7.9l-7.9,7.9zM861.8,406.4l7.9,-7.9l7.9,7.9l-7.9,7.9zM873.9,414.5l7.9,-7.9l7.9,7.9l-7.9,7.9zM910.7,414.5l7.9,-7.9l7.9,7.9l-7.9,7.9zM932.1,412.3l7.9,-7.9l7.9,7.9l-7.9,7.9zM955.4,410l7.9,-7.9l7.9,7.9l-7.9,7.9zM967.2,413.3l7.9,-7.9l7.9,7.9l-7.9,7.9zM970.9,408.2l7.9,-7.9l7.9,7.9l-7.9,7.9zM972.8,388.6l7.9,-7.9l7.9,7.9l-7.9,7.9zM983.4,370.6l7.9,-7.9l7.9,7.9l-7.9,7.9zM987.5,359.7l7.9,-7.9l7.9,7.9l-7.9,7.9zM987.2,357.7l7.9,-7.9l7.9,7.9l-7.9,7.9zM970.8,352.5l7.9,-7.9l7.9,7.9l-7.9,7.9zM917.2,350.4l7.9,-7.9l7.9,7.9l-7.9,7.9zM907.3,343.2l7.9,-7.9l7.9,7.9l-7.9,7.9zM899.6,339.9l7.9,-7.9l7.9,7.9l-7.9,7.9zM883.7,344l7.9,-7.9l7.9,7.9l-7.9,7.9zM859.3,345.4l7.9,-7.9l7.9,7.9l-7.9,7.9zM738.7,377.7l7.9,-7.9l7.9,7.9l-7.9,7.9zM793.1,349.8l7.9,-7.9l7.9,7.9l-7.9,7.9zM765,366.5l7.9,-7.9l7.9,7.9l-7.9,7.9zM828.6,383.3l7.9,-7.9l7.9,7.9l-7.9,7.9zM739.5,363.8l7.9,-7.9l7.9,7.9l-7.9,7.9zM777.6,359.3l7.9,-7.9l7.9,7.9l-7.9,7.9zM743.2,358.3l7.9,-7.9l7.9,7.9l-7.9,7.9zM781.7,364.3l7.9,-7.9l7.9,7.9l-7.9,7.9zM789.2,367.8l7.9,-7.9l7.9,7.9l-7.9,7.9zM733.4,355.8l7.9,-7.9l7.9,7.9l-7.9,7.9zM751.2,349.2l7.9,-7.9l7.9,7.9l-7.9,7.9zM810.2,355.4l7.9,-7.9l7.9,7.9l-7.9,7.9zM738.2,387.5l7.9,-7.9l7.9,7.9l-7.9,7.9zM783.5,376.9l7.9,-7.9l7.9,7.9l-7.9,7.9zM796.1,363.5l7.9,-7.9l7.9,7.9l-7.9,7.9zM770.9,359.3l7.9,-7.9l7.9,7.9l-7.9,7.9zM750.9,349.1l7.9,-7.9l7.9,7.9l-7.9,7.9zM778.8,354.4l7.9,-7.9l7.9,7.9l-7.9,7.9zM733.9,350.7l7.9,-7.9l7.9,7.9l-7.9,7.9zM727.6,352.7l7.9,-7.9l7.9,7.9l-7.9,7.9zM755.7,357.7l7.9,-7.9l7.9,7.9l-7.9,7.9zM803.8,356.9l7.9,-7.9l7.9,7.9l-7.9,7.9zM775.9,351.5l7.9,-7.9l7.9,7.9l-7.9,7.9zM800.9,369.6l7.9,-7.9l7.9,7.9l-7.9,7.9zM742.5,365.9l7.9,-7.9l7.9,7.9l-7.9,7.9zM822.6,348l7.9,-7.9l7.9,7.9l-7.9,7.9zM810.2,363.9l7.9,-7.9l7.9,7.9l-7.9,7.9zM764.4,367.5l7.9,-7.9l7.9,7.9l-7.9,7.9zM798.1,373.8l7.9,-7.9l7.9,7.9l-7.9,7.9zM765.6,359.7l7.9,-7.9l7.9,7.9l-7.9,7.9zM729.7,378.9l7.9,-7.9l7.9,7.9l-7.9,7.9zM749.6,350.8l7.9,-7.9l7.9,7.9l-7.9,7.9zM815.7,375.4l7.9,-7.9l7.9,7.9l-7.9,7.9zM752.5,354.6l7.9,-7.9l7.9,7.9l-7.9,7.9zM753.6,365.2l7.9,-7.9l7.9,7.9l-7.9,7.9zM739.1,364.5l7.9,-7.9l7.9,7.9l-7.9,7.9zM826.7,369.4l7.9,-7.9l7.9,7.9l-7.9,7.9zM755.4,360.2l7.9,-7.9l7.9,7.9l-7.9,7.9zM773.2,367.3l7.9,-7.9l7.9,7.9l-7.9,7.9zM743.7,367.4l7.9,-7.9l7.9,7.9l-7.9,7.9zM731.8,362.3l7.9,-7.9l7.9,7.9l-7.9,7.9zM754.8,354.2l7.9,-7.9l7.9,7.9l-7.9,7.9zM785.1,368.6l7.9,-7.9l7.9,7.9l-7.9,7.9zM802.8,374.8l7.9,-7.9l7.9,7.9l-7.9,7.9zM764,358.7l7.9,-7.9l7.9,7.9l-7.9,7.9zM828,350.1l7.9,-7.9l7.9,7.9l-7.9,7.9zM800,374.1l7.9,-7.9l7.9,7.9l-7.9,7.9zM818,373.3l7.9,-7.9l7.9,7.9l-7.9,7.9zM737.1,368.3l7.9,-7.9l7.9,7.9l-7.9,7.9zM795.6,376.6l7.9,-7.9l7.9,7.9l-7.9,7.9zM736.5,360.4l7.9,-7.9l7.9,7.9l-7.9,7.9zM733.4,383.5l7.9,-7.9l7.9,7.9l-7.9,7.9zM782.2,373.4l7.9,-7.9l7.9,7.9l-7.9,7.9zM789.5,375.9l7.9,-7.9l7.9,7.9l-7.9,7.9zM776.2,368.9l7.9,-7.9l7.9,7.9l-7.9,7.9zM793,346.1l7.9,-7.9l7.9,7.9l-7.9,7.9zM801.3,355.1l7.9,-7.9l7.9,7.9l-7.9,7.9zM730.1,355.8l7.9,-7.9l7.9,7.9l-7.9,7.9zM800.5,352.8l7.9,-7.9l7.9,7.9l-7.9,7.9zM775.2,361.4l7.9,-7.9l7.9,7.9l-7.9,7.9zM773.6,376.1l7.9,-7.9l7.9,7.9l-7.9,7.9zM804.6,372.8l7.9,-7.9l7.9,7.9l-7.9,7.9zM791.2,346.6l7.9,-7.9l7.9,7.9l-7.9,7.9zM738,355.2l7.9,-7.9l7.9,7.9l-7.9,7.9zM802,357.7l7.9,-7.9l7.9,7.9l-7.9,7.9zM728.7,355.9l7.9,-7.9l7.9,7.9l-7.9,7.9zM794.4,376.5l7.9,-7.9l7.9,7.9l-7.9,7.9zM794.8,357l7.9,-7.9l7.9,7.9l-7.9,7.9zM777.7,365.4l7.9,-7.9l7.9,7.9l-7.9,7.9zM772.3,348.6l7.9,-7.9l7.9,7.9l-7.9,7.9zM818.2,352.5l7.9,-7.9l7.9,7.9l-7.9,7.9zM827.3,388.4l7.9,-7.9l7.9,7.9l-7.9,7.9zM724,365.2l7.9,-7.9l7.9,7.9l-7.9,7.9zM770.5,355.9l7.9,-7.9l7.9,7.9l-7.9,7.9zM744.8,371.1l7.9,-7.9l7.9,7.9l-7.9,7.9zM727.2,351.8l7.9,-7.9l7.9,7.9l-7.9,7.9zM724.9,359.5l7.9,-7.9l7.9,7.9l-7.9,7.9zM722.5,367.2l7.9,-7.9l7.9,7.9l-7.9,7.9zM725.4,374.3l7.9,-7.9l7.9,7.9l-7.9,7.9zM729.5,381.2l7.9,-7.9l7.9,7.9l-7.9,7.9zM734.8,387.3l7.9,-7.9l7.9,7.9l-7.9,7.9zM740.9,390l7.9,-7.9l7.9,7.9l-7.9,7.9zM746.9,384.7l7.9,-7.9l7.9,7.9l-7.9,7.9zM752.4,378.9l7.9,-7.9l7.9,7.9l-7.9,7.9zM758.8,376.5l7.9,-7.9l7.9,7.9l-7.9,7.9zM766.5,378.8l7.9,-7.9l7.9,7.9l-7.9,7.9zM774.2,381.1l7.9,-7.9l7.9,7.9l-7.9,7.9zM781.9,383.5l7.9,-7.9l7.9,7.9l-7.9,7.9zM789.5,382l7.9,-7.9l7.9,7.9l-7.9,7.9zM797.1,379.3l7.9,-7.9l7.9,7.9l-7.9,7.9zM804.6,376.5l7.9,-7.9l7.9,7.9l-7.9,7.9zM810.8,377.3l7.9,-7.9l7.9,7.9l-7.9,7.9zM814.7,384.4l7.9,-7.9l7.9,7.9l-7.9,7.9zM818.6,391.4l7.9,-7.9l7.9,7.9l-7.9,7.9zM826.4,389.7l7.9,-7.9l7.9,7.9l-7.9,7.9zM829.6,384.2l7.9,-7.9l7.9,7.9l-7.9,7.9zM829.6,376.2l7.9,-7.9l7.9,7.9l-7.9,7.9zM829.6,368.2l7.9,-7.9l7.9,7.9l-7.9,7.9zM829.6,360.1l7.9,-7.9l7.9,7.9l-7.9,7.9zM829.6,352.1l7.9,-7.9l7.9,7.9l-7.9,7.9zM827.8,345.7l7.9,-7.9l7.9,7.9l-7.9,7.9zM819.8,345.2l7.9,-7.9l7.9,7.9l-7.9,7.9zM811.7,344.7l7.9,-7.9l7.9,7.9l-7.9,7.9zM803.7,344.2l7.9,-7.9l7.9,7.9l-7.9,7.9zM795.7,344.7l7.9,-7.9l7.9,7.9l-7.9,7.9zM787.7,345.5l7.9,-7.9l7.9,7.9l-7.9,7.9zM779.7,346.3l7.9,-7.9l7.9,7.9l-7.9,7.9zM771.6,346.3l7.9,-7.9l7.9,7.9l-7.9,7.9zM763.6,346.3l7.9,-7.9l7.9,7.9l-7.9,7.9zM755.5,346.3l7.9,-7.9l7.9,7.9l-7.9,7.9zM747.5,346.2l7.9,-7.9l7.9,7.9l-7.9,7.9zM739.9,343.6l7.9,-7.9l7.9,7.9l-7.9,7.9zM733.3,346.5l7.9,-7.9l7.9,7.9l-7.9,7.9zM755.6,411l7.9,-7.9l7.9,7.9l-7.9,7.9zM757.1,412.5l7.9,-7.9l7.9,7.9l-7.9,7.9zM758.6,414l7.9,-7.9l7.9,7.9l-7.9,7.9zM784.1,401l7.9,-7.9l7.9,7.9l-7.9,7.9zM785.6,402.5l7.9,-7.9l7.9,7.9l-7.9,7.9zM787.1,404l7.9,-7.9l7.9,7.9l-7.9,7.9zM795.1,415l7.9,-7.9l7.9,7.9l-7.9,7.9zM796.6,416.5l7.9,-7.9l7.9,7.9l-7.9,7.9zM798.1,418l7.9,-7.9l7.9,7.9l-7.9,7.9zM812.5,404.5l7.9,-7.9l7.9,7.9l-7.9,7.9zM814,406l7.9,-7.9l7.9,7.9l-7.9,7.9zM815.5,407.5l7.9,-7.9l7.9,7.9l-7.9,7.9zM827.8,400l7.9,-7.9l7.9,7.9l-7.9,7.9zM829.3,401.5l7.9,-7.9l7.9,7.9l-7.9,7.9zM830.8,403l7.9,-7.9l7.9,7.9l-7.9,7.9zM836.6,424l7.9,-7.9l7.9,7.9l-7.9,7.9zM838.1,425.5l7.9,-7.9l7.9,7.9l-7.9,7.9zM839.6,427l7.9,-7.9l7.9,7.9l-7.9,7.9zM854.1,424l7.9,-7.9l7.9,7.9l-7.9,7.9zM855.6,425.5l7.9,-7.9l7.9,7.9l-7.9,7.9zM857.1,427l7.9,-7.9l7.9,7.9l-7.9,7.9zM714.6,359.1l7.9,-7.9l7.9,7.9l-7.9,7.9zM709,371.6l7.9,-7.9l7.9,7.9l-7.9,7.9zM711.8,378.1l7.9,-7.9l7.9,7.9l-7.9,7.9zM684.4,384.5l7.9,-7.9l7.9,7.9l-7.9,7.9zM688,382.6l7.9,-7.9l7.9,7.9l-7.9,7.9zM713.5,378.4l7.9,-7.9l7.9,7.9l-7.9,7.9zM712.4,364.3l7.9,-7.9l7.9,7.9l-7.9,7.9zM690.3,367.7l7.9,-7.9l7.9,7.9l-7.9,7.9zM716.5,374.3l7.9,-7.9l7.9,7.9l-7.9,7.9zM689.8,368.9l7.9,-7.9l7.9,7.9l-7.9,7.9zM686.7,385.8l7.9,-7.9l7.9,7.9l-7.9,7.9zM711.7,381.7l7.9,-7.9l7.9,7.9l-7.9,7.9zM714.1,372.9l7.9,-7.9l7.9,7.9l-7.9,7.9zM705.4,369.7l7.9,-7.9l7.9,7.9l-7.9,7.9zM706.2,376.1l7.9,-7.9l7.9,7.9l-7.9,7.9zM713.5,358.9l7.9,-7.9l7.9,7.9l-7.9,7.9zM694.5,366.1l7.9,-7.9l7.9,7.9l-7.9,7.9zM778.7,411.3l7.9,-7.9l7.9,7.9l-7.9,7.9zM832.3,396.3l7.9,-7.9l7.9,7.9l-7.9,7.9zM807,397.5l7.9,-7.9l7.9,7.9l-7.9,7.9zM799.2,400.5l7.9,-7.9l7.9,7.9l-7.9,7.9zM768.4,393.2l7.9,-7.9l7.9,7.9l-7.9,7.9zM794.4,395l7.9,-7.9l7.9,7.9l-7.9,7.9zM790.7,392.5l7.9,-7.9l7.9,7.9l-7.9,7.9zM782.2,391l7.9,-7.9l7.9,7.9l-7.9,7.9zM774.1,396.2l7.9,-7.9l7.9,7.9l-7.9,7.9zM800.2,415.9l7.9,-7.9l7.9,7.9l-7.9,7.9zM814.4,401.1l7.9,-7.9l7.9,7.9l-7.9,7.9zM787.9,404.5l7.9,-7.9l7.9,7.9l-7.9,7.9zM784.9,398.7l7.9,-7.9l7.9,7.9l-7.9,7.9zM794.9,407.9l7.9,-7.9l7.9,7.9l-7.9,7.9zM823.3,394.9l7.9,-7.9l7.9,7.9l-7.9,7.9zM776.6,395.9l7.9,-7.9l7.9,7.9l-7.9,7.9zM661.1,324l7.9,-7.9l7.9,7.9l-7.9,7.9zM664.1,327l7.9,-7.9l7.9,7.9l-7.9,7.9zM689.1,333l7.9,-7.9l7.9,7.9l-7.9,7.9zM692.1,336l7.9,-7.9l7.9,7.9l-7.9,7.9zM696.1,339l7.9,-7.9l7.9,7.9l-7.9,7.9zM699.1,342l7.9,-7.9l7.9,7.9l-7.9,7.9zM714.1,332l7.9,-7.9l7.9,7.9l-7.9,7.9zM717.1,335l7.9,-7.9l7.9,7.9l-7.9,7.9zM706.1,352l7.9,-7.9l7.9,7.9l-7.9,7.9zM709.1,355l7.9,-7.9l7.9,7.9l-7.9,7.9zM896.1,417l7.9,-7.9l7.9,7.9l-7.9,7.9zM960,405.6l7.9,-7.9l7.9,7.9l-7.9,7.9zM963.1,417.8l7.9,-7.9l7.9,7.9l-7.9,7.9zM921.4,405l7.9,-7.9l7.9,7.9l-7.9,7.9zM895,430l7.9,-7.9l7.9,7.9l-7.9,7.9zM953.6,428.1l7.9,-7.9l7.9,7.9l-7.9,7.9zM973.4,411.7l7.9,-7.9l7.9,7.9l-7.9,7.9zM856.9,409.2l7.9,-7.9l7.9,7.9l-7.9,7.9zM912.7,423.4l7.9,-7.9l7.9,7.9l-7.9,7.9zM929.5,425.6l7.9,-7.9l7.9,7.9l-7.9,7.9zM903.9,419.9l7.9,-7.9l7.9,7.9l-7.9,7.9zM873.5,429.8l7.9,-7.9l7.9,7.9l-7.9,7.9zM929.3,413.2l7.9,-7.9l7.9,7.9l-7.9,7.9zM859.4,411.8l7.9,-7.9l7.9,7.9l-7.9,7.9zM928,423.9l7.9,-7.9l7.9,7.9l-7.9,7.9zM857.3,406.9l7.9,-7.9l7.9,7.9l-7.9,7.9zM912.9,420.7l7.9,-7.9l7.9,7.9l-7.9,7.9zM894.5,411l7.9,-7.9l7.9,7.9l-7.9,7.9zM923.3,405.3l7.9,-7.9l7.9,7.9l-7.9,7.9zM882.8,417.4l7.9,-7.9l7.9,7.9l-7.9,7.9zM961.4,417.8l7.9,-7.9l7.9,7.9l-7.9,7.9zM873.8,411.7l7.9,-7.9l7.9,7.9l-7.9,7.9zM883.6,405.6l7.9,-7.9l7.9,7.9l-7.9,7.9zM909.4,423.2l7.9,-7.9l7.9,7.9l-7.9,7.9zM898.8,411.9l7.9,-7.9l7.9,7.9l-7.9,7.9zM932.2,430l7.9,-7.9l7.9,7.9l-7.9,7.9zM872.8,405.9l7.9,-7.9l7.9,7.9l-7.9,7.9zM887.8,416.4l7.9,-7.9l7.9,7.9l-7.9,7.9zM934.3,410.3l7.9,-7.9l7.9,7.9l-7.9,7.9zM949.7,425l7.9,-7.9l7.9,7.9l-7.9,7.9zM910.3,410.5l7.9,-7.9l7.9,7.9l-7.9,7.9zM973.1,413.4l7.9,-7.9l7.9,7.9l-7.9,7.9zM952.8,411.2l7.9,-7.9l7.9,7.9l-7.9,7.9zM872,425.5l7.9,-7.9l7.9,7.9l-7.9,7.9zM882,430.7l7.9,-7.9l7.9,7.9l-7.9,7.9zM909.1,410.1l7.9,-7.9l7.9,7.9l-7.9,7.9zM872.3,416.3l7.9,-7.9l7.9,7.9l-7.9,7.9zM932,430.6l7.9,-7.9l7.9,7.9l-7.9,7.9zM861.9,415.6l7.9,-7.9l7.9,7.9l-7.9,7.9zM870.9,431.3l7.9,-7.9l7.9,7.9l-7.9,7.9zM861.3,406.4l7.9,-7.9l7.9,7.9l-7.9,7.9zM850.3,415.6l7.9,-7.9l7.9,7.9l-7.9,7.9zM963.4,428.9l7.9,-7.9l7.9,7.9l-7.9,7.9zM941.1,431.9l7.9,-7.9l7.9,7.9l-7.9,7.9zM967.9,413.9l7.9,-7.9l7.9,7.9l-7.9,7.9zM867.2,430.3l7.9,-7.9l7.9,7.9l-7.9,7.9zM942.9,405.9l7.9,-7.9l7.9,7.9l-7.9,7.9zM931.8,415.2l7.9,-7.9l7.9,7.9l-7.9,7.9zM892.6,414l7.9,-7.9l7.9,7.9l-7.9,7.9zM865,405.1l7.9,-7.9l7.9,7.9l-7.9,7.9zM879.9,414.5l7.9,-7.9l7.9,7.9l-7.9,7.9zM971.1,408.3l7.9,-7.9l7.9,7.9l-7.9,7.9zM972.3,410.6l7.9,-7.9l7.9,7.9l-7.9,7.9zM890.3,427.2l7.9,-7.9l7.9,7.9l-7.9,7.9zM953.1,416.7l7.9,-7.9l7.9,7.9l-7.9,7.9zM848.8,417.8l7.9,-7.9l7.9,7.9l-7.9,7.9zM892.5,429.8l7.9,-7.9l7.9,7.9l-7.9,7.9zM868.2,414.8l7.9,-7.9l7.9,7.9l-7.9,7.9zM963.2,405.8l7.9,-7.9l7.9,7.9l-7.9,7.9zM897.6,426.9l7.9,-7.9l7.9,7.9l-7.9,7.9zM640.1,652l7.9,-7.9l7.9,7.9l-7.9,7.9zM652.1,645l7.9,-7.9l7.9,7.9l-7.9,7.9zM647.1,668l7.9,-7.9l7.9,7.9l-7.9,7.9zM660.1,660l7.9,-7.9l7.9,7.9l-7.9,7.9zM668.1,672l7.9,-7.9l7.9,7.9l-7.9,7.9zM676.1,652l7.9,-7.9l7.9,7.9l-7.9,7.9zM682.1,668l7.9,-7.9l7.9,7.9l-7.9,7.9zM656.1,682l7.9,-7.9l7.9,7.9l-7.9,7.9zM642.1,680l7.9,-7.9l7.9,7.9l-7.9,7.9zM632.1,665l7.9,-7.9l7.9,7.9l-7.9,7.9zM664.1,640l7.9,-7.9l7.9,7.9l-7.9,7.9zM678.1,636l7.9,-7.9l7.9,7.9l-7.9,7.9zM690.1,628l7.9,-7.9l7.9,7.9l-7.9,7.9zM692.1,648l7.9,-7.9l7.9,7.9l-7.9,7.9zM702.1,622l7.9,-7.9l7.9,7.9l-7.9,7.9zM691,659.1l7.9,-7.9l7.9,7.9l-7.9,7.9zM694.3,667.1l7.9,-7.9l7.9,7.9l-7.9,7.9zM703.7,668.4l7.9,-7.9l7.9,7.9l-7.9,7.9zM712.5,668l7.9,-7.9l7.9,7.9l-7.9,7.9zM720.9,665.4l7.9,-7.9l7.9,7.9l-7.9,7.9zM730.9,664.4l7.9,-7.9l7.9,7.9l-7.9,7.9zM738.9,663l7.9,-7.9l7.9,7.9l-7.9,7.9zM748,660.7l7.9,-7.9l7.9,7.9l-7.9,7.9zM756.6,660l7.9,-7.9l7.9,7.9l-7.9,7.9zM767.1,658.5l7.9,-7.9l7.9,7.9l-7.9,7.9zM776.3,656.1l7.9,-7.9l7.9,7.9l-7.9,7.9zM784.2,655.5l7.9,-7.9l7.9,7.9l-7.9,7.9zM794.3,654.2l7.9,-7.9l7.9,7.9l-7.9,7.9zM802,650l7.9,-7.9l7.9,7.9l-7.9,7.9zM810.7,647.3l7.9,-7.9l7.9,7.9l-7.9,7.9zM818.7,641.3l7.9,-7.9l7.9,7.9l-7.9,7.9zM825.2,635.9l7.9,-7.9l7.9,7.9l-7.9,7.9zM827,628.6l7.9,-7.9l7.9,7.9l-7.9,7.9zM829.8,620.2l7.9,-7.9l7.9,7.9l-7.9,7.9zM831.4,611.7l7.9,-7.9l7.9,7.9l-7.9,7.9zM835.8,603.4l7.9,-7.9l7.9,7.9l-7.9,7.9zM828.9,597.5l7.9,-7.9l7.9,7.9l-7.9,7.9zM834.5,589.9l7.9,-7.9l7.9,7.9l-7.9,7.9zM838,583.3l7.9,-7.9l7.9,7.9l-7.9,7.9zM840.6,575.3l7.9,-7.9l7.9,7.9l-7.9,7.9zM837.7,568.6l7.9,-7.9l7.9,7.9l-7.9,7.9zM829.7,569.2l7.9,-7.9l7.9,7.9l-7.9,7.9zM821.2,573.9l7.9,-7.9l7.9,7.9l-7.9,7.9zM813.9,577.8l7.9,-7.9l7.9,7.9l-7.9,7.9zM804.8,581.8l7.9,-7.9l7.9,7.9l-7.9,7.9zM796.9,584.8l7.9,-7.9l7.9,7.9l-7.9,7.9zM787.9,585.1l7.9,-7.9l7.9,7.9l-7.9,7.9zM778.6,584.1l7.9,-7.9l7.9,7.9l-7.9,7.9zM770.6,588.3l7.9,-7.9l7.9,7.9l-7.9,7.9zM761.8,592.3l7.9,-7.9l7.9,7.9l-7.9,7.9zM753.8,596l7.9,-7.9l7.9,7.9l-7.9,7.9zM744.7,600.1l7.9,-7.9l7.9,7.9l-7.9,7.9zM736.7,605.7l7.9,-7.9l7.9,7.9l-7.9,7.9zM729.9,610.1l7.9,-7.9l7.9,7.9l-7.9,7.9zM722,616.4l7.9,-7.9l7.9,7.9l-7.9,7.9zM715.3,621.2l7.9,-7.9l7.9,7.9l-7.9,7.9zM709.5,628.6l7.9,-7.9l7.9,7.9l-7.9,7.9zM703.7,634.5l7.9,-7.9l7.9,7.9l-7.9,7.9zM698.8,643.9l7.9,-7.9l7.9,7.9l-7.9,7.9zM695.3,652.3l7.9,-7.9l7.9,7.9l-7.9,7.9zM690.6,659.8l7.9,-7.9l7.9,7.9l-7.9,7.9zM696.2,669.8l7.9,-7.9l7.9,7.9l-7.9,7.9zM710.9,667.6l7.9,-7.9l7.9,7.9l-7.9,7.9zM750.9,660.6l7.9,-7.9l7.9,7.9l-7.9,7.9zM790.3,654.7l7.9,-7.9l7.9,7.9l-7.9,7.9zM813.1,646.5l7.9,-7.9l7.9,7.9l-7.9,7.9zM828.2,632.2l7.9,-7.9l7.9,7.9l-7.9,7.9zM825.6,626.1l7.9,-7.9l7.9,7.9l-7.9,7.9zM831.6,617.6l7.9,-7.9l7.9,7.9l-7.9,7.9zM831.6,610.7l7.9,-7.9l7.9,7.9l-7.9,7.9zM835.7,604.6l7.9,-7.9l7.9,7.9l-7.9,7.9zM828.9,596.6l7.9,-7.9l7.9,7.9l-7.9,7.9zM839.2,586.3l7.9,-7.9l7.9,7.9l-7.9,7.9zM838.5,581.2l7.9,-7.9l7.9,7.9l-7.9,7.9zM841.9,571.6l7.9,-7.9l7.9,7.9l-7.9,7.9zM834.8,566l7.9,-7.9l7.9,7.9l-7.9,7.9zM831.5,569.2l7.9,-7.9l7.9,7.9l-7.9,7.9zM799.9,584.5l7.9,-7.9l7.9,7.9l-7.9,7.9zM778.8,584.5l7.9,-7.9l7.9,7.9l-7.9,7.9zM765.3,590.8l7.9,-7.9l7.9,7.9l-7.9,7.9zM741,602.5l7.9,-7.9l7.9,7.9l-7.9,7.9zM734.4,607.1l7.9,-7.9l7.9,7.9l-7.9,7.9zM719,617.7l7.9,-7.9l7.9,7.9l-7.9,7.9zM703.4,634.3l7.9,-7.9l7.9,7.9l-7.9,7.9zM611.5,865l7.9,-7.9l7.9,7.9l-7.9,7.9zM615.9,869.2l7.9,-7.9l7.9,7.9l-7.9,7.9zM621.5,874.3l7.9,-7.9l7.9,7.9l-7.9,7.9zM625.6,878.3l7.9,-7.9l7.9,7.9l-7.9,7.9zM629.7,882.9l7.9,-7.9l7.9,7.9l-7.9,7.9zM632.8,884.8l7.9,-7.9l7.9,7.9l-7.9,7.9zM637.5,878.8l7.9,-7.9l7.9,7.9l-7.9,7.9zM640.5,874.7l7.9,-7.9l7.9,7.9l-7.9,7.9zM643.5,869.3l7.9,-7.9l7.9,7.9l-7.9,7.9zM644.5,863.2l7.9,-7.9l7.9,7.9l-7.9,7.9zM643.8,858.5l7.9,-7.9l7.9,7.9l-7.9,7.9zM639.4,854.3l7.9,-7.9l7.9,7.9l-7.9,7.9zM632.8,853.9l7.9,-7.9l7.9,7.9l-7.9,7.9zM627.8,854.8l7.9,-7.9l7.9,7.9l-7.9,7.9zM622.2,858.1l7.9,-7.9l7.9,7.9l-7.9,7.9zM617.8,862l7.9,-7.9l7.9,7.9l-7.9,7.9zM612.3,865.3l7.9,-7.9l7.9,7.9l-7.9,7.9zM632,885.9l7.9,-7.9l7.9,7.9l-7.9,7.9zM644.7,868.6l7.9,-7.9l7.9,7.9l-7.9,7.9zM645.5,859.2l7.9,-7.9l7.9,7.9l-7.9,7.9zM637.3,853.5l7.9,-7.9l7.9,7.9l-7.9,7.9zM627.7,855.1l7.9,-7.9l7.9,7.9l-7.9,7.9zM582.1,836l7.9,-7.9l7.9,7.9l-7.9,7.9zM590.6,844l7.9,-7.9l7.9,7.9l-7.9,7.9zM599.1,852l7.9,-7.9l7.9,7.9l-7.9,7.9zM607.1,860l7.9,-7.9l7.9,7.9l-7.9,7.9zM614.1,868l7.9,-7.9l7.9,7.9l-7.9,7.9zM594.1,836l7.9,-7.9l7.9,7.9l-7.9,7.9zM606.1,844l7.9,-7.9l7.9,7.9l-7.9,7.9zM618.1,846l7.9,-7.9l7.9,7.9l-7.9,7.9zM626.1,838l7.9,-7.9l7.9,7.9l-7.9,7.9zM664.1,836l7.9,-7.9l7.9,7.9l-7.9,7.9zM662.1,842l7.9,-7.9l7.9,7.9l-7.9,7.9z" fill="none" stroke="#d62728" stroke-width="2.6" stroke-linejoin="miter"/>
<polygon points="817.4,573.6 817.4,573.6 808.9,581.6 808.8,581.7 808.6,581.9 808.5,582 808.3,582.2 808.3,582.3 800.3,592.8 800.2,592.8 800.2,593 800.1,593 792.6,604 792.6,604.1 792.4,604.3 792.3,604.5 792.2,604.7 792.2,604.8 786.2,617.8 786.1,617.9 786.1,618.1 786,618.2 785.9,618.5 785.9,618.5 782,632.3 776,648.1 776,648.4 775.9,648.6 775.9,648.9 775.9,649.1 775.9,649.3 775.9,649.6 776,649.8 776.1,650.1 776.2,650.3 776.3,650.5 776.5,650.7 776.7,650.8 776.9,651 777.1,651.1 777.3,651.3 777.5,651.4 782.7,653.3 783,653.4 783.2,653.5 783.5,653.5 783.7,653.5 784,653.5 784.2,653.4 784.4,653.3 784.7,653.3 784.9,653.1 785.1,653 785.3,652.9 785.4,652.7 785.6,652.5 785.7,652.3 785.9,652.1 786,651.9 792,635.9 792,635.8 792.1,635.6 792.1,635.5 796,621.8 801.6,609.6 808.8,599.1 816.5,589.1 824.6,581.4 832.6,573.9 832.8,573.7 832.9,573.5 833.1,573.3 833.2,573.1 833.3,572.8 833.3,572.6 833.4,572.4 833.4,572.1 833.4,571.9 833.4,571.6 833.3,571.4 833.3,571.2 833.2,570.9 833,570.7 832.9,570.5 832.7,570.3 828.9,566.2 828.7,566.1 828.5,565.9 828.3,565.8 828.1,565.7 827.9,565.6 827.7,565.5 827.4,565.5 827.2,565.5 826.9,565.5 826.7,565.5 826.4,565.5 826.2,565.6 826,565.7 825.8,565.8 825.6,566 825.4,566.1 817.4,573.6" fill="#2ca02c"/><polygon points="800.4,634.2 781.8,635.9 766.5,644.3 757.5,662.3 751,681 751,694 760,694 760.7,694 761.5,694.2 779.3,698.6 787.3,694.6 788.1,694.3 801.5,689.9 808.5,681.2 812.2,666.5 812.3,666 812.6,665.5 818,653.7 818,641.3 807.3,640 806.7,639.9 806.2,639.7 805.6,639.5 805.1,639.3 804.6,639 804.2,638.6 803.8,638.3 803.4,637.8 800.4,634.2" fill="#2ca02c"/><polygon points="759.6,701.7 753.5,702.9 753.5,731.5 760.6,731.5 767.5,724.5 767.8,724.3 768,724.1 768.3,723.9 768.6,723.8 768.9,723.7 769.3,723.6 769.6,723.5 783.5,721.9 783.5,713.2 773.5,708.2 759.6,701.7" fill="#2ca02c"/><polygon points="746,741.7 743.3,742.6 741.7,765.2 747.6,766.4 753.6,763.8 754,763.6 754.4,763.6 754.8,763.5 765.5,762.7 765.5,753.4 758.1,746 746,741.7" fill="#2ca02c"/><polygon points="738.2,776.4 733.9,789.4 738,794.9 745.4,796.5 752,796.5 752,785.4 746.1,779 738.2,776.4" fill="#2ca02c"/><polygon points="736.5,803.9 736.5,809.5 747.5,809.5 747.5,805.1 736.5,803.9" fill="#2ca02c"/>
<path d="M458.4,326.6h10.2v10.2h-10.2zM498.4,324.3h10.2v10.2h-10.2zM514.4,332.3h10.2v10.2h-10.2zM527.4,340.3h10.2v10.2h-10.2zM537.4,314.5h10.2v10.2h-10.2zM569.2,310.3h10.2v10.2h-10.2zM589.3,317.3h10.2v10.2h-10.2zM616.2,318.3h10.2v10.2h-10.2zM612.3,328.4h10.2v10.2h-10.2zM601.4,333.5h10.2v10.2h-10.2zM622.2,330.5h10.2v10.2h-10.2zM635.1,324.3h10.2v10.2h-10.2zM643.1,325.3h10.2v10.2h-10.2zM646.2,333.5h10.2v10.2h-10.2zM553.4,347.3h10.2v10.2h-10.2zM576.4,350.4h10.2v10.2h-10.2zM599.2,358.4h10.2v10.2h-10.2zM610.3,356.3h10.2v10.2h-10.2zM635.1,356.3h10.2v10.2h-10.2zM659.1,348.3h10.2v10.2h-10.2zM665.3,361.2h10.2v10.2h-10.2zM662.2,368.2h10.2v10.2h-10.2zM648.2,364.3h10.2v10.2h-10.2zM631.2,366.4h10.2v10.2h-10.2zM645.2,374.4h10.2v10.2h-10.2zM439.3,368.2h10.2v10.2h-10.2zM443.4,376.2h10.2v10.2h-10.2zM490.4,373.3h10.2v10.2h-10.2zM501.3,368.2h10.2v10.2h-10.2zM508.5,371.3h10.2v10.2h-10.2zM509.3,389.4h10.2v10.2h-10.2zM548.3,372.3h10.2v10.2h-10.2zM562.2,368.2h10.2v10.2h-10.2zM571.9,368.2h10.2v10.2h-10.2zM582.4,369.2h10.2v10.2h-10.2zM567.2,381.4h10.2v10.2h-10.2zM577.6,380.3h10.2v10.2h-10.2zM595.3,374.4h10.2v10.2h-10.2zM606.4,370.3h10.2v10.2h-10.2zM682.9,376.2h10.2v10.2h-10.2zM684.9,375.9h10.2v10.2h-10.2zM686.9,375.4h10.2v10.2h-10.2zM688.9,374.9h10.2v10.2h-10.2zM690.9,373.9h10.2v10.2h-10.2zM692.9,373.3h10.2v10.2h-10.2zM675.4,416.2h10.2v10.2h-10.2zM696.5,428.4h10.2v10.2h-10.2zM695.2,528.5h10.2v10.2h-10.2zM625.3,626.6h10.2v10.2h-10.2zM642.8,630.9h10.2v10.2h-10.2zM653.9,628.9h10.2v10.2h-10.2zM658.8,628.5h10.2v10.2h-10.2zM673.3,621.7h10.2v10.2h-10.2zM663.1,651.2h10.2v10.2h-10.2zM672.9,656.8h10.2v10.2h-10.2zM624.3,664.8h10.2v10.2h-10.2zM811.4,608h10.2v10.2h-10.2zM826.3,562.9h10.2v10.2h-10.2zM814.4,644.8h10.2v10.2h-10.2zM809.7,662.6h10.2v10.2h-10.2zM806.1,673.2h10.2v10.2h-10.2zM805.9,662.3h10.2v10.2h-10.2zM802.5,673.2h10.2v10.2h-10.2zM791.5,684.2h10.2v10.2h-10.2zM582.3,785.4h10.2v10.2h-10.2zM601.7,818.4h10.2v10.2h-10.2zM602.4,819.1h10.2v10.2h-10.2zM600.9,817.7h10.2v10.2h-10.2zM615.2,831.9h10.2v10.2h-10.2zM615.9,832.7h10.2v10.2h-10.2zM593.3,831.9h10.2v10.2h-10.2zM590.3,839.6h10.2v10.2h-10.2zM626.3,840.2h10.2v10.2h-10.2zM605.3,844.6h10.2v10.2h-10.2zM603.6,851.3h10.2v10.2h-10.2zM618,855.2h10.2v10.2h-10.2zM615.8,861.8h10.2v10.2h-10.2zM376.4,780.3h10.2v10.2h-10.2zM601.9,818.5h10.2v10.2h-10.2zM626.9,841.2h10.2v10.2h-10.2zM604.2,850.5h10.2v10.2h-10.2zM616.9,858.9h10.2v10.2h-10.2zM594.9,833.4h10.2v10.2h-10.2zM612.9,831.9h10.2v10.2h-10.2zM819.9,564.6h10.2v10.2h-10.2zM823.1,565.5h10.2v10.2h-10.2zM818.6,567h10.2v10.2h-10.2zM820.1,568.2h10.2v10.2h-10.2zM823.1,567.4h10.2v10.2h-10.2zM815.4,571.3h10.2v10.2h-10.2zM817.9,570.5h10.2v10.2h-10.2zM820.5,570.2h10.2v10.2h-10.2zM814,573.9h10.2v10.2h-10.2zM815.5,572.3h10.2v10.2h-10.2zM818.7,572.3h10.2v10.2h-10.2zM809.8,576.2h10.2v10.2h-10.2zM813.1,576h10.2v10.2h-10.2zM815.6,576.1h10.2v10.2h-10.2zM808.2,577.2h10.2v10.2h-10.2zM809.8,578h10.2v10.2h-10.2zM813.6,578.7h10.2v10.2h-10.2zM805,580.6h10.2v10.2h-10.2zM808,580.4h10.2v10.2h-10.2zM810.1,579.9h10.2v10.2h-10.2zM803.3,583.7h10.2v10.2h-10.2zM805,582.8h10.2v10.2h-10.2zM808.9,583.8h10.2v10.2h-10.2zM800.2,584.6h10.2v10.2h-10.2zM804.2,586.3h10.2v10.2h-10.2zM805.7,584.5h10.2v10.2h-10.2zM799.1,587.6h10.2v10.2h-10.2zM801.6,588.1h10.2v10.2h-10.2zM803.9,587.2h10.2v10.2h-10.2zM798.8,589.8h10.2v10.2h-10.2zM800.6,591h10.2v10.2h-10.2zM803.9,589.7h10.2v10.2h-10.2zM795.2,592.7h10.2v10.2h-10.2zM798.3,592.6h10.2v10.2h-10.2zM800,592.4h10.2v10.2h-10.2zM793.7,596.2h10.2v10.2h-10.2zM794.9,595.5h10.2v10.2h-10.2zM798.8,594.4h10.2v10.2h-10.2zM794,597.1h10.2v10.2h-10.2zM796,598h10.2v10.2h-10.2zM791,600h10.2v10.2h-10.2zM793.1,600.5h10.2v10.2h-10.2zM795.6,600.7h10.2v10.2h-10.2zM790.7,602.7h10.2v10.2h-10.2zM792.3,603.1h10.2v10.2h-10.2zM788.3,604.8h10.2v10.2h-10.2zM791.3,605.9h10.2v10.2h-10.2zM793.2,604.7h10.2v10.2h-10.2zM788.2,607.1h10.2v10.2h-10.2zM790,607.7h10.2v10.2h-10.2zM785,610.2h10.2v10.2h-10.2zM788.3,609.4h10.2v10.2h-10.2zM791.1,609.5h10.2v10.2h-10.2zM786.2,613.4h10.2v10.2h-10.2zM788.3,612h10.2v10.2h-10.2zM783.3,615.1h10.2v10.2h-10.2zM786.7,614.6h10.2v10.2h-10.2zM789,616.3h10.2v10.2h-10.2zM783.7,618.5h10.2v10.2h-10.2zM785.2,618.8h10.2v10.2h-10.2zM783.3,621.3h10.2v10.2h-10.2zM786.6,619.7h10.2v10.2h-10.2zM781.4,623.7h10.2v10.2h-10.2zM782.4,622.6h10.2v10.2h-10.2zM786.3,622.2h10.2v10.2h-10.2zM781.6,624.9h10.2v10.2h-10.2zM783.9,624.6h10.2v10.2h-10.2zM785.8,626.2h10.2v10.2h-10.2zM780.2,627.4h10.2v10.2h-10.2zM783.3,627.5h10.2v10.2h-10.2zM779.9,629.7h10.2v10.2h-10.2zM782.6,631.2h10.2v10.2h-10.2zM778.6,633.6h10.2v10.2h-10.2zM780.1,633.4h10.2v10.2h-10.2zM782.5,632.9h10.2v10.2h-10.2zM778.6,635.1h10.2v10.2h-10.2zM781.5,635.5h10.2v10.2h-10.2zM775.9,638.6h10.2v10.2h-10.2zM777.5,638.8h10.2v10.2h-10.2zM781,637.6h10.2v10.2h-10.2zM776.4,639.9h10.2v10.2h-10.2zM779.3,640.5h10.2v10.2h-10.2zM775.5,643.4h10.2v10.2h-10.2zM778.2,642.2h10.2v10.2h-10.2zM778.8,644.5h10.2v10.2h-10.2zM795.1,629.6h10.2v10.2h-10.2zM791.6,629.9h10.2v10.2h-10.2zM788.1,630.2h10.2v10.2h-10.2zM784.6,630.5h10.2v10.2h-10.2zM781.1,630.8h10.2v10.2h-10.2zM777.5,631.1h10.2v10.2h-10.2zM774.4,632.5h10.2v10.2h-10.2zM771.3,634.2h10.2v10.2h-10.2zM768.2,635.9h10.2v10.2h-10.2zM765.1,637.7h10.2v10.2h-10.2zM762,639.4h10.2v10.2h-10.2zM760.3,642.4h10.2v10.2h-10.2zM758.7,645.5h10.2v10.2h-10.2zM757.2,648.7h10.2v10.2h-10.2zM755.6,651.9h10.2v10.2h-10.2zM754,655h10.2v10.2h-10.2zM752.5,658.2h10.2v10.2h-10.2zM751.4,661.5h10.2v10.2h-10.2zM750.2,664.9h10.2v10.2h-10.2zM749,668.2h10.2v10.2h-10.2zM747.9,671.5h10.2v10.2h-10.2zM746.7,674.9h10.2v10.2h-10.2zM746.3,678.3h10.2v10.2h-10.2zM746.3,681.8h10.2v10.2h-10.2zM746.3,685.4h10.2v10.2h-10.2zM746.7,688.5h10.2v10.2h-10.2zM750.2,688.5h10.2v10.2h-10.2zM753.8,688.5h10.2v10.2h-10.2zM757.2,688.9h10.2v10.2h-10.2zM760.7,689.7h10.2v10.2h-10.2zM764.1,690.6h10.2v10.2h-10.2zM767.5,691.5h10.2v10.2h-10.2zM770.9,692.3h10.2v10.2h-10.2zM774.3,693h10.2v10.2h-10.2zM777.5,691.4h10.2v10.2h-10.2zM780.7,689.9h10.2v10.2h-10.2zM783.9,688.5h10.2v10.2h-10.2zM787.2,687.4h10.2v10.2h-10.2zM790.6,686.3h10.2v10.2h-10.2zM793.9,685.1h10.2v10.2h-10.2zM796.9,683.5h10.2v10.2h-10.2zM799.1,680.7h10.2v10.2h-10.2zM801.4,678h10.2v10.2h-10.2zM803.3,675.1h10.2v10.2h-10.2zM804.1,671.7h10.2v10.2h-10.2zM805,668.3h10.2v10.2h-10.2zM805.8,664.8h10.2v10.2h-10.2zM806.7,661.4h10.2v10.2h-10.2zM808,658.2h10.2v10.2h-10.2zM809.5,655h10.2v10.2h-10.2zM811,651.8h10.2v10.2h-10.2zM812.5,648.5h10.2v10.2h-10.2zM812.5,645h10.2v10.2h-10.2zM812.5,641.5h10.2v10.2h-10.2zM812.5,638h10.2v10.2h-10.2zM810.4,636.3h10.2v10.2h-10.2zM806.9,635.9h10.2v10.2h-10.2zM803.4,635.4h10.2v10.2h-10.2zM800,634.6h10.2v10.2h-10.2zM797.4,632.3h10.2v10.2h-10.2zM795,629.8h10.2v10.2h-10.2zM776,633.9h10.2v10.2h-10.2zM781.4,634.8h10.2v10.2h-10.2zM783.8,635.3h10.2v10.2h-10.2zM787.7,634.2h10.2v10.2h-10.2zM793.3,633.3h10.2v10.2h-10.2zM796.7,634.9h10.2v10.2h-10.2zM765.1,639.2h10.2v10.2h-10.2zM767.3,639.6h10.2v10.2h-10.2zM774,638.5h10.2v10.2h-10.2zM778.5,638.4h10.2v10.2h-10.2zM781.5,637.4h10.2v10.2h-10.2zM786,637.2h10.2v10.2h-10.2zM790.8,639.3h10.2v10.2h-10.2zM796.4,639.6h10.2v10.2h-10.2zM800.9,637.9h10.2v10.2h-10.2zM805,638.4h10.2v10.2h-10.2zM810.2,638.6h10.2v10.2h-10.2zM761.3,642.3h10.2v10.2h-10.2zM767.3,644.4h10.2v10.2h-10.2zM771.8,642.5h10.2v10.2h-10.2zM776.7,642.6h10.2v10.2h-10.2zM779.3,644.3h10.2v10.2h-10.2zM784.9,643.6h10.2v10.2h-10.2zM789.5,644.5h10.2v10.2h-10.2zM793.5,644.1h10.2v10.2h-10.2zM798.6,644.1h10.2v10.2h-10.2zM802.4,643.7h10.2v10.2h-10.2zM807.3,642.5h10.2v10.2h-10.2zM810.7,643.4h10.2v10.2h-10.2zM759.3,646.5h10.2v10.2h-10.2zM762.9,646.2h10.2v10.2h-10.2zM769.4,648h10.2v10.2h-10.2zM773.9,648.3h10.2v10.2h-10.2zM776.5,647.8h10.2v10.2h-10.2zM781.9,648.5h10.2v10.2h-10.2zM787.8,648.7h10.2v10.2h-10.2zM790,648.7h10.2v10.2h-10.2zM797,648.9h10.2v10.2h-10.2zM799.1,646.7h10.2v10.2h-10.2zM803.6,646.2h10.2v10.2h-10.2zM810.3,648.5h10.2v10.2h-10.2zM756.3,650.9h10.2v10.2h-10.2zM762.8,651.2h10.2v10.2h-10.2zM766,651.8h10.2v10.2h-10.2zM769.6,651.3h10.2v10.2h-10.2zM774.9,652.7h10.2v10.2h-10.2zM779.7,651.5h10.2v10.2h-10.2zM785.9,652.1h10.2v10.2h-10.2zM790.1,652.4h10.2v10.2h-10.2zM792.1,651.8h10.2v10.2h-10.2zM797.9,652.9h10.2v10.2h-10.2zM802.1,652.7h10.2v10.2h-10.2zM807.2,651.2h10.2v10.2h-10.2zM756.1,658h10.2v10.2h-10.2zM758.3,656.5h10.2v10.2h-10.2zM764.3,657.5h10.2v10.2h-10.2zM767.9,656.5h10.2v10.2h-10.2zM772.8,657.6h10.2v10.2h-10.2zM777.1,657.9h10.2v10.2h-10.2zM781.7,655.7h10.2v10.2h-10.2zM787.4,656.6h10.2v10.2h-10.2zM790.1,657h10.2v10.2h-10.2zM794.5,657.4h10.2v10.2h-10.2zM800.9,657.4h10.2v10.2h-10.2zM805.2,656.1h10.2v10.2h-10.2zM754.2,659.6h10.2v10.2h-10.2zM756.7,660.4h10.2v10.2h-10.2zM763.3,661.1h10.2v10.2h-10.2zM766.2,662.2h10.2v10.2h-10.2zM770.3,660.9h10.2v10.2h-10.2zM775.6,661.8h10.2v10.2h-10.2zM780.8,661.5h10.2v10.2h-10.2zM784.1,660.5h10.2v10.2h-10.2zM788,662.1h10.2v10.2h-10.2zM794,661.8h10.2v10.2h-10.2zM797.1,660.9h10.2v10.2h-10.2zM803.4,661.3h10.2v10.2h-10.2zM805.9,661h10.2v10.2h-10.2zM751.4,666.6h10.2v10.2h-10.2zM754.3,664.5h10.2v10.2h-10.2zM759,665h10.2v10.2h-10.2zM764.4,664.5h10.2v10.2h-10.2zM768.3,664.6h10.2v10.2h-10.2zM774.7,666.3h10.2v10.2h-10.2zM776.6,667h10.2v10.2h-10.2zM781.1,665.2h10.2v10.2h-10.2zM788.3,666.5h10.2v10.2h-10.2zM792,665.4h10.2v10.2h-10.2zM794.9,666h10.2v10.2h-10.2zM799.1,664.7h10.2v10.2h-10.2zM804.5,664.2h10.2v10.2h-10.2zM749.1,670.1h10.2v10.2h-10.2zM753.4,670h10.2v10.2h-10.2zM756.5,670.4h10.2v10.2h-10.2zM761.8,670.8h10.2v10.2h-10.2zM767.8,669.9h10.2v10.2h-10.2zM771.3,670.8h10.2v10.2h-10.2zM775.3,669.3h10.2v10.2h-10.2zM780.7,671.2h10.2v10.2h-10.2zM785.4,670.7h10.2v10.2h-10.2zM790.1,670.6h10.2v10.2h-10.2zM794,669.9h10.2v10.2h-10.2zM797.5,670.5h10.2v10.2h-10.2zM801.3,669.8h10.2v10.2h-10.2zM751.2,674.3h10.2v10.2h-10.2zM755.8,675.9h10.2v10.2h-10.2zM758.8,675h10.2v10.2h-10.2zM765.1,674.2h10.2v10.2h-10.2zM768.8,676h10.2v10.2h-10.2zM771.9,674.7h10.2v10.2h-10.2zM776.8,675.4h10.2v10.2h-10.2zM783.6,674.6h10.2v10.2h-10.2zM785.6,674.8h10.2v10.2h-10.2zM791.4,675.2h10.2v10.2h-10.2zM795.8,675h10.2v10.2h-10.2zM801.3,674.6h10.2v10.2h-10.2zM748.2,679.9h10.2v10.2h-10.2zM751.9,680.5h10.2v10.2h-10.2zM757.1,677.7h10.2v10.2h-10.2zM761.4,678.8h10.2v10.2h-10.2zM765.1,678.8h10.2v10.2h-10.2zM770.8,679.7h10.2v10.2h-10.2zM775.1,678.4h10.2v10.2h-10.2zM779.2,679.8h10.2v10.2h-10.2zM785.9,679.1h10.2v10.2h-10.2zM788.2,680h10.2v10.2h-10.2zM793.2,678.2h10.2v10.2h-10.2zM796.9,679.9h10.2v10.2h-10.2zM751.8,684.5h10.2v10.2h-10.2zM755.2,682.9h10.2v10.2h-10.2zM759.9,682.4h10.2v10.2h-10.2zM765.3,683.1h10.2v10.2h-10.2zM769.9,682.9h10.2v10.2h-10.2zM772.9,682.8h10.2v10.2h-10.2zM777.6,682.6h10.2v10.2h-10.2zM780.8,684.2h10.2v10.2h-10.2zM786.1,682.8h10.2v10.2h-10.2zM790.7,683.5h10.2v10.2h-10.2zM795.6,684h10.2v10.2h-10.2zM757.9,686.6h10.2v10.2h-10.2zM760.6,689.4h10.2v10.2h-10.2zM767,687.3h10.2v10.2h-10.2zM769.9,687h10.2v10.2h-10.2zM774.8,688.9h10.2v10.2h-10.2zM779.6,687h10.2v10.2h-10.2zM754.1,699.6h10.2v10.2h-10.2zM751.3,700.8h10.2v10.2h-10.2zM751.3,704.4h10.2v10.2h-10.2zM751.3,707.9h10.2v10.2h-10.2zM751.3,711.5h10.2v10.2h-10.2zM751.3,715h10.2v10.2h-10.2zM751.3,718.6h10.2v10.2h-10.2zM751.3,722.1h10.2v10.2h-10.2zM753.5,723.5h10.2v10.2h-10.2zM756.2,721.5h10.2v10.2h-10.2zM758.7,719h10.2v10.2h-10.2zM761.3,716.6h10.2v10.2h-10.2zM764.6,715.5h10.2v10.2h-10.2zM768.2,715.1h10.2v10.2h-10.2zM771.7,714.7h10.2v10.2h-10.2zM775.2,714.2h10.2v10.2h-10.2zM775.5,711h10.2v10.2h-10.2zM773.3,708.8h10.2v10.2h-10.2zM770.1,707.2h10.2v10.2h-10.2zM767,705.6h10.2v10.2h-10.2zM763.7,704.1h10.2v10.2h-10.2zM760.5,702.6h10.2v10.2h-10.2zM757.3,701.1h10.2v10.2h-10.2zM753.6,704.9h10.2v10.2h-10.2zM757.2,703.9h10.2v10.2h-10.2zM762.3,704.2h10.2v10.2h-10.2zM751.3,707.9h10.2v10.2h-10.2zM755.8,710h10.2v10.2h-10.2zM760.8,709.5h10.2v10.2h-10.2zM764.3,708h10.2v10.2h-10.2zM768.7,708.8h10.2v10.2h-10.2zM774.2,709.4h10.2v10.2h-10.2zM752.2,713.8h10.2v10.2h-10.2zM759.2,713.2h10.2v10.2h-10.2zM761.2,712.5h10.2v10.2h-10.2zM765.6,712.2h10.2v10.2h-10.2zM772.8,713.4h10.2v10.2h-10.2zM751.8,718.5h10.2v10.2h-10.2zM757,717.9h10.2v10.2h-10.2zM754.3,720.9h10.2v10.2h-10.2zM741,739.7h10.2v10.2h-10.2zM740.7,743.3h10.2v10.2h-10.2zM740.5,746.9h10.2v10.2h-10.2zM740.2,750.6h10.2v10.2h-10.2zM739.9,754.2h10.2v10.2h-10.2zM739.7,757.7h10.2v10.2h-10.2zM743.2,757.8h10.2v10.2h-10.2zM746.5,756.4h10.2v10.2h-10.2zM750,755.5h10.2v10.2h-10.2zM753.6,755.2h10.2v10.2h-10.2zM757.2,755h10.2v10.2h-10.2zM757.5,751.6h10.2v10.2h-10.2zM756.4,748.4h10.2v10.2h-10.2zM753.8,745.9h10.2v10.2h-10.2zM751.2,743.4h10.2v10.2h-10.2zM747.8,742.2h10.2v10.2h-10.2zM744.4,740.9h10.2v10.2h-10.2zM745.1,743.1h10.2v10.2h-10.2zM751.9,744.4h10.2v10.2h-10.2zM744.5,750h10.2v10.2h-10.2zM750.1,748.6h10.2v10.2h-10.2zM752.9,747.5h10.2v10.2h-10.2zM742.4,752.4h10.2v10.2h-10.2zM745.4,751.8h10.2v10.2h-10.2zM749.4,753.8h10.2v10.2h-10.2zM754.3,754.6h10.2v10.2h-10.2zM743.1,756.3h10.2v10.2h-10.2zM734.9,775h10.2v10.2h-10.2zM733.8,778.6h10.2v10.2h-10.2zM732.6,782.2h10.2v10.2h-10.2zM733.3,785.4h10.2v10.2h-10.2zM736.2,787.5h10.2v10.2h-10.2zM739.9,788.3h10.2v10.2h-10.2zM743.6,788.5h10.2v10.2h-10.2zM744,785.1h10.2v10.2h-10.2zM743.9,781.4h10.2v10.2h-10.2zM741.3,778.6h10.2v10.2h-10.2zM738.5,776.2h10.2v10.2h-10.2zM737.2,776.1h10.2v10.2h-10.2zM734.7,780.1h10.2v10.2h-10.2zM738.7,780.8h10.2v10.2h-10.2zM742.5,780.9h10.2v10.2h-10.2zM732.7,782.5h10.2v10.2h-10.2zM735.1,784.4h10.2v10.2h-10.2zM742,782.7h10.2v10.2h-10.2zM743.2,787.2h10.2v10.2h-10.2zM721.7,735.5h10.2v10.2h-10.2zM728.8,753.4h10.2v10.2h-10.2zM721.2,747.8h10.2v10.2h-10.2zM747.9,708h10.2v10.2h-10.2zM723.5,772.5h10.2v10.2h-10.2zM741.6,686.1h10.2v10.2h-10.2zM718.1,740.9h10.2v10.2h-10.2zM745,688.9h10.2v10.2h-10.2zM727.8,790.3h10.2v10.2h-10.2zM722.6,754.7h10.2v10.2h-10.2zM765.6,684.5h10.2v10.2h-10.2zM727.2,737.6h10.2v10.2h-10.2zM742.1,682.8h10.2v10.2h-10.2zM719.6,649.8h10.2v10.2h-10.2zM740.3,774.4h10.2v10.2h-10.2zM704.9,766.2h10.2v10.2h-10.2zM745.6,753.5h10.2v10.2h-10.2zM731.4,671.1h10.2v10.2h-10.2zM710.4,766.3h10.2v10.2h-10.2zM764.1,715.4h10.2v10.2h-10.2zM762.1,675.7h10.2v10.2h-10.2zM732.6,738h10.2v10.2h-10.2zM703.8,668.6h10.2v10.2h-10.2zM703,757.6h10.2v10.2h-10.2zM721.2,733.7h10.2v10.2h-10.2zM725.1,725.4h10.2v10.2h-10.2zM695.5,745.6h10.2v10.2h-10.2zM763.6,662.2h10.2v10.2h-10.2zM744.6,695.3h10.2v10.2h-10.2zM736.8,638.5h10.2v10.2h-10.2zM741.6,680.7h10.2v10.2h-10.2zM762.8,709.4h10.2v10.2h-10.2zM705,666.5h10.2v10.2h-10.2zM740.6,787.3h10.2v10.2h-10.2zM730.7,800.7h10.2v10.2h-10.2zM744.7,704.4h10.2v10.2h-10.2zM710.6,733.7h10.2v10.2h-10.2zM751.9,703.7h10.2v10.2h-10.2zM729.7,662.9h10.2v10.2h-10.2zM710.5,696.5h10.2v10.2h-10.2zM752.6,687.2h10.2v10.2h-10.2zM744,767.5h10.2v10.2h-10.2zM695.4,691.6h10.2v10.2h-10.2zM710.6,656.6h10.2v10.2h-10.2zM733,664.4h10.2v10.2h-10.2zM708.7,660h10.2v10.2h-10.2zM756.6,669h10.2v10.2h-10.2zM698.9,713.2h10.2v10.2h-10.2zM730.1,694.4h10.2v10.2h-10.2zM767.2,718.5h10.2v10.2h-10.2zM747.7,659.9h10.2v10.2h-10.2zM756.3,731.7h10.2v10.2h-10.2zM711.5,707h10.2v10.2h-10.2zM700.5,682.3h10.2v10.2h-10.2zM768.9,693.4h10.2v10.2h-10.2zM701.7,720.8h10.2v10.2h-10.2zM716.7,793h10.2v10.2h-10.2zM751.7,671.9h10.2v10.2h-10.2zM732.6,685h10.2v10.2h-10.2zM710.7,670.2h10.2v10.2h-10.2zM694.7,685.6h10.2v10.2h-10.2zM757.5,686.3h10.2v10.2h-10.2zM765.6,694.6h10.2v10.2h-10.2zM703.5,711.1h10.2v10.2h-10.2zM742,659.1h10.2v10.2h-10.2zM702.9,769.7h10.2v10.2h-10.2zM756.1,669.3h10.2v10.2h-10.2zM745.8,721.6h10.2v10.2h-10.2zM712.3,671h10.2v10.2h-10.2zM746.1,758.8h10.2v10.2h-10.2zM758.2,706.3h10.2v10.2h-10.2zM766,693.6h10.2v10.2h-10.2zM734.2,637.6h10.2v10.2h-10.2zM772.1,681.5h10.2v10.2h-10.2zM721.6,663.5h10.2v10.2h-10.2zM722,739h10.2v10.2h-10.2zM729.5,725.1h10.2v10.2h-10.2zM697,760h10.2v10.2h-10.2zM717,759.4h10.2v10.2h-10.2zM723,766.4h10.2v10.2h-10.2zM736.2,727.7h10.2v10.2h-10.2zM738.6,638.5h10.2v10.2h-10.2zM703.1,652.9h10.2v10.2h-10.2zM709.9,777.9h10.2v10.2h-10.2zM754.8,669h10.2v10.2h-10.2zM742.5,726.4h10.2v10.2h-10.2zM755.2,652.9h10.2v10.2h-10.2zM734.3,722.5h10.2v10.2h-10.2zM712.9,656.3h10.2v10.2h-10.2zM725.5,658.9h10.2v10.2h-10.2zM744.1,785.6h10.2v10.2h-10.2zM699.6,735.1h10.2v10.2h-10.2zM759.6,663.7h10.2v10.2h-10.2zM723.8,708.5h10.2v10.2h-10.2zM724.5,799.6h10.2v10.2h-10.2zM762.6,694.1h10.2v10.2h-10.2zM708.9,693.5h10.2v10.2h-10.2zM728.5,806.6h10.2v10.2h-10.2zM709.8,708.8h10.2v10.2h-10.2zM748.2,698.7h10.2v10.2h-10.2zM738,647h10.2v10.2h-10.2zM728.2,723.2h10.2v10.2h-10.2zM749.1,681.4h10.2v10.2h-10.2zM752.7,682.8h10.2v10.2h-10.2zM747,678.8h10.2v10.2h-10.2zM736.9,710.8h10.2v10.2h-10.2zM780,685.2h10.2v10.2h-10.2zM715.4,748.2h10.2v10.2h-10.2zM696.9,738.9h10.2v10.2h-10.2zM711.7,716.5h10.2v10.2h-10.2zM738.3,660.9h10.2v10.2h-10.2zM697.3,657.9h10.2v10.2h-10.2zM714.3,706h10.2v10.2h-10.2zM713.7,677.5h10.2v10.2h-10.2zM693.7,730.5h10.2v10.2h-10.2zM741.9,748.7h10.2v10.2h-10.2zM705,759.2h10.2v10.2h-10.2zM731,730.8h10.2v10.2h-10.2zM746.2,717h10.2v10.2h-10.2zM716,677.3h10.2v10.2h-10.2zM707.1,724.6h10.2v10.2h-10.2zM723.2,737.4h10.2v10.2h-10.2zM771.1,676.6h10.2v10.2h-10.2zM740.6,720.9h10.2v10.2h-10.2zM714.5,770h10.2v10.2h-10.2zM772,711.9h10.2v10.2h-10.2zM691.1,702.8h10.2v10.2h-10.2zM728.9,763.6h10.2v10.2h-10.2zM695.8,674.3h10.2v10.2h-10.2zM700.4,693.9h10.2v10.2h-10.2zM720.1,753.1h10.2v10.2h-10.2zM767,725.5h10.2v10.2h-10.2zM760.9,718.1h10.2v10.2h-10.2zM761.5,737.4h10.2v10.2h-10.2zM742.1,708h10.2v10.2h-10.2zM745.6,701.3h10.2v10.2h-10.2zM730.1,715h10.2v10.2h-10.2zM757.2,686.2h10.2v10.2h-10.2zM724,732.1h10.2v10.2h-10.2zM723.4,691.2h10.2v10.2h-10.2zM734.9,712.6h10.2v10.2h-10.2zM703.3,688.1h10.2v10.2h-10.2zM699.4,735.6h10.2v10.2h-10.2zM743.1,650.3h10.2v10.2h-10.2zM776.9,691.6h10.2v10.2h-10.2zM727.5,794.3h10.2v10.2h-10.2zM741.4,721.9h10.2v10.2h-10.2zM736.6,725.4h10.2v10.2h-10.2zM753.4,703.1h10.2v10.2h-10.2zM720.7,739h10.2v10.2h-10.2zM720,800.8h10.2v10.2h-10.2zM752.5,726.8h10.2v10.2h-10.2zM694.8,700.4h10.2v10.2h-10.2zM725,733.1h10.2v10.2h-10.2zM742.3,788.9h10.2v10.2h-10.2zM728.9,744.2h10.2v10.2h-10.2zM737.9,777.7h10.2v10.2h-10.2zM702,690.6h10.2v10.2h-10.2zM736.2,654.2h10.2v10.2h-10.2zM773.7,708.6h10.2v10.2h-10.2zM700.5,685.6h10.2v10.2h-10.2zM736.1,723.3h10.2v10.2h-10.2zM703.7,666.8h10.2v10.2h-10.2zM747.9,740.4h10.2v10.2h-10.2zM726,772.7h10.2v10.2h-10.2zM715.6,755.8h10.2v10.2h-10.2zM751.7,669.3h10.2v10.2h-10.2zM734.7,731.7h10.2v10.2h-10.2zM711.5,748.1h10.2v10.2h-10.2zM742.3,706.8h10.2v10.2h-10.2zM697.1,662.3h10.2v10.2h-10.2zM694.9,664.7h10.2v10.2h-10.2zM737.1,778.9h10.2v10.2h-10.2zM746.2,776.1h10.2v10.2h-10.2zM762,691.4h10.2v10.2h-10.2zM756.4,696.8h10.2v10.2h-10.2zM701.8,681.6h10.2v10.2h-10.2zM743.1,696h10.2v10.2h-10.2zM729.9,702.4h10.2v10.2h-10.2zM728.9,743.4h10.2v10.2h-10.2zM716.4,792.2h10.2v10.2h-10.2zM766.5,688h10.2v10.2h-10.2zM734.5,801.1h10.2v10.2h-10.2zM709.2,703.1h10.2v10.2h-10.2zM756.7,673.6h10.2v10.2h-10.2zM715.8,788.1h10.2v10.2h-10.2zM733.3,773.6h10.2v10.2h-10.2zM709.2,665.3h10.2v10.2h-10.2zM720.7,667.5h10.2v10.2h-10.2zM782.1,685.8h10.2v10.2h-10.2zM741.1,655h10.2v10.2h-10.2zM738.3,702.4h10.2v10.2h-10.2zM725.2,646.4h10.2v10.2h-10.2zM720,677.8h10.2v10.2h-10.2zM704,684.5h10.2v10.2h-10.2zM751.3,694.6h10.2v10.2h-10.2zM700.5,758.4h10.2v10.2h-10.2zM694.2,682.1h10.2v10.2h-10.2zM729.2,781.3h10.2v10.2h-10.2zM720.2,761.3h10.2v10.2h-10.2zM722.6,802.6h10.2v10.2h-10.2zM735.4,674.7h10.2v10.2h-10.2zM730.2,657.8h10.2v10.2h-10.2zM755.5,680.5h10.2v10.2h-10.2zM721.7,678h10.2v10.2h-10.2zM745.7,672.1h10.2v10.2h-10.2zM736.2,729.9h10.2v10.2h-10.2zM711.9,770h10.2v10.2h-10.2zM723.4,750h10.2v10.2h-10.2zM741.7,689.3h10.2v10.2h-10.2zM723.9,650h10.2v10.2h-10.2zM717,750.9h10.2v10.2h-10.2zM695.8,733.2h10.2v10.2h-10.2zM721,722.5h10.2v10.2h-10.2zM714.6,646.4h10.2v10.2h-10.2zM716,674.5h10.2v10.2h-10.2zM697.5,760.3h10.2v10.2h-10.2zM713.1,705.5h10.2v10.2h-10.2zM698.1,683.3h10.2v10.2h-10.2zM751.3,696.4h10.2v10.2h-10.2z" fill="none" stroke="#2ca02c" stroke-width="2.6" stroke-linejoin="miter"/>

<path d="M466.4,576.5h9.9l-5,9.9zM519.4,586.6h9.9l-5,9.9zM530.4,589.4h9.9l-5,9.9zM551.4,608.5h9.9l-5,9.9zM574.5,612.5h9.9l-5,9.9zM497.6,613.8h9.9l-5,9.9zM442.6,624.8h9.9l-5,9.9zM540.4,624.8h9.9l-5,9.9zM587.3,626.5h9.9l-5,9.9zM594.1,622.8h9.9l-5,9.9zM607.5,618.8h9.9l-5,9.9zM552.6,641.5h9.9l-5,9.9zM571.4,643.6h9.9l-5,9.9zM491.6,649.8h9.9l-5,9.9zM506.4,649.8h9.9l-5,9.9zM562.8,665.5h9.9l-5,9.9zM578.8,661.9h9.9l-5,9.9zM577,660.5h9.9l-5,9.9zM580.5,663h9.9l-5,9.9zM589,665.8h9.9l-5,9.9zM591.6,676.9h9.9l-5,9.9zM601,659h9.9l-5,9.9zM599,658h9.9l-5,9.9zM603,660h9.9l-5,9.9zM611.2,659.8h9.9l-5,9.9zM511.8,680.9h9.9l-5,9.9zM510.6,679.5h9.9l-5,9.9zM513,682h9.9l-5,9.9zM517.2,683.8h9.9l-5,9.9zM546.8,678.8h9.9l-5,9.9zM545.5,677.5h9.9l-5,9.9zM548,680h9.9l-5,9.9zM577.9,686h9.9l-5,9.9zM576.5,685h9.9l-5,9.9zM579,687h9.9l-5,9.9zM573.6,688.9h9.9l-5,9.9zM443.4,698.6h9.9l-5,9.9zM463.4,700.8h9.9l-5,9.9zM478.4,698.6h9.9l-5,9.9zM470.2,709.4h9.9l-5,9.9zM415.4,708.6h9.9l-5,9.9zM516.3,702.6h9.9l-5,9.9zM512.4,708.6h9.9l-5,9.9zM531.8,704.3h9.9l-5,9.9zM587.3,694.9h9.9l-5,9.9zM604.4,698.3h9.9l-5,9.9zM582.2,710.3h9.9l-5,9.9zM613,637.6h9.9l-5,9.9zM451.4,713h9.9l-5,9.9zM562.5,767h9.9l-5,9.9zM376.6,780.4h9.9l-5,9.9zM409.4,780.1h9.9l-5,9.9zM441.4,783.3h9.9l-5,9.9zM471.4,789.3h9.9l-5,9.9zM500.4,796.5h9.9l-5,9.9zM527.1,805.6h9.9l-5,9.9zM551.4,816.8h9.9l-5,9.9zM572.4,827.4h9.9l-5,9.9zM576.2,820.1h9.9l-5,9.9zM493.4,726.6h9.9l-5,9.9zM542.8,720.9h9.9l-5,9.9zM767.6,598.6h9.9l-5,9.9zM766,597h9.9l-5,9.9zM769,600h9.9l-5,9.9zM781.9,616.4h9.9l-5,9.9zM765.3,629.4h9.9l-5,9.9zM779.5,640.1h9.9l-5,9.9zM749.2,653.2h9.9l-5,9.9zM693.6,636.4h9.9l-5,9.9zM736.5,613.1h9.9l-5,9.9zM758.5,619h9.9l-5,9.9zM649.1,650.8h9.9l-5,9.9zM757.5,631.4h9.9l-5,9.9zM739.1,613.5h9.9l-5,9.9zM696.9,637.8h9.9l-5,9.9zM648.5,643.9h9.9l-5,9.9zM735.8,621.4h9.9l-5,9.9zM773.4,623.1h9.9l-5,9.9zM725.8,624.7h9.9l-5,9.9zM696,628.1h9.9l-5,9.9zM770.7,606.3h9.9l-5,9.9zM709,624.3h9.9l-5,9.9zM771.9,619h9.9l-5,9.9zM681.8,645.2h9.9l-5,9.9zM721.4,625.2h9.9l-5,9.9zM661.4,638.8h9.9l-5,9.9zM757.5,615.8h9.9l-5,9.9zM657.1,643.5h9.9l-5,9.9zM755.3,617.2h9.9l-5,9.9zM687,630.3h9.9l-5,9.9zM716.7,634.6h9.9l-5,9.9zM705.8,627.4h9.9l-5,9.9zM749.6,623.2h9.9l-5,9.9zM674.3,636.5h9.9l-5,9.9zM708.9,622.9h9.9l-5,9.9zM767.1,608.4h9.9l-5,9.9zM716.2,618.8h9.9l-5,9.9zM733.1,633.6h9.9l-5,9.9zM774.4,626.3h9.9l-5,9.9zM728.7,616h9.9l-5,9.9zM733.4,624.4h9.9l-5,9.9zM687.5,632h9.9l-5,9.9zM694.2,629.1h9.9l-5,9.9zM716.4,621.5h9.9l-5,9.9zM765,630.1h9.9l-5,9.9zM648.7,647.9h9.9l-5,9.9zM705.1,630.4h9.9l-5,9.9zM714.2,639.5h9.9l-5,9.9zM647.2,646.1h9.9l-5,9.9zM747.8,606.8h9.9l-5,9.9zM737.7,623.2h9.9l-5,9.9zM762.3,631h9.9l-5,9.9zM657,641.3h9.9l-5,9.9zM683,642.3h9.9l-5,9.9zM648.8,651.5h9.9l-5,9.9zM732.9,613.5h9.9l-5,9.9zM648.4,644.4h9.9l-5,9.9zM675.3,638h9.9l-5,9.9zM762.8,629.6h9.9l-5,9.9zM659.2,645.4h9.9l-5,9.9zM733.5,621.3h9.9l-5,9.9zM758.3,621.3h9.9l-5,9.9zM664.2,649.7h9.9l-5,9.9zM701.9,631.7h9.9l-5,9.9zM732.2,614.5h9.9l-5,9.9zM726.6,635h9.9l-5,9.9zM677.4,642.3h9.9l-5,9.9zM742.5,627.9h9.9l-5,9.9zM726.9,618.9h9.9l-5,9.9zM714.3,622.1h9.9l-5,9.9zM699.7,624.3h9.9l-5,9.9zM740.6,630.3h9.9l-5,9.9zM772.1,618.3h9.9l-5,9.9zM685.3,642.9h9.9l-5,9.9zM766.4,614.7h9.9l-5,9.9zM737.2,611.4h9.9l-5,9.9zM769.9,611.1h9.9l-5,9.9zM680.8,641.5h9.9l-5,9.9zM729,622h9.9l-5,9.9zM733.4,618.2h9.9l-5,9.9zM753.6,623h9.9l-5,9.9zM712.5,632.4h9.9l-5,9.9zM714.9,636.3h9.9l-5,9.9zM721.9,617.8h9.9l-5,9.9zM742.7,613.7h9.9l-5,9.9zM748,616.6h9.9l-5,9.9zM703.1,636.2h9.9l-5,9.9zM747.7,619.6h9.9l-5,9.9zM779.9,612h9.9l-5,9.9zM772.5,619.8h9.9l-5,9.9zM748.3,612.8h9.9l-5,9.9zM778.8,627.3h9.9l-5,9.9zM727,618.6h9.9l-5,9.9zM751.6,625.1h9.9l-5,9.9zM655.3,648h9.9l-5,9.9zM761.9,614.2h9.9l-5,9.9zM721.3,624.7h9.9l-5,9.9zM663.3,649.1h9.9l-5,9.9zM685.8,643.2h9.9l-5,9.9zM761,609.4h9.9l-5,9.9zM632.4,651.9h9.9l-5,9.9zM640.7,654h9.9l-5,9.9zM651.9,652.4h9.9l-5,9.9zM662.9,650.3h9.9l-5,9.9zM673.9,648.1h9.9l-5,9.9zM684.9,645.9h9.9l-5,9.9zM695.9,643.6h9.9l-5,9.9zM706.8,640.9h9.9l-5,9.9zM717.7,638.2h9.9l-5,9.9zM728.5,635.5h9.9l-5,9.9zM739.6,633.4h9.9l-5,9.9zM750.7,632h9.9l-5,9.9zM761.8,630.6h9.9l-5,9.9zM773,629.4h9.9l-5,9.9zM780.5,624.8h9.9l-5,9.9zM780.9,613.6h9.9l-5,9.9zM775.2,604.2h9.9l-5,9.9zM766.4,600.5h9.9l-5,9.9zM755.9,604.3h9.9l-5,9.9zM745.3,608.2h9.9l-5,9.9zM734.9,612.3h9.9l-5,9.9zM724.5,616.5h9.9l-5,9.9zM713.6,619.2h9.9l-5,9.9zM702.6,621.5h9.9l-5,9.9zM692.3,625.6h9.9l-5,9.9zM682.4,630.9h9.9l-5,9.9zM672.4,635.9h9.9l-5,9.9zM661.5,638.5h9.9l-5,9.9zM650.6,641.1h9.9l-5,9.9zM639.7,643.7h9.9l-5,9.9zM692,914.6h9.9l-5,9.9zM704.4,862.2h9.9l-5,9.9zM706.9,847h9.9l-5,9.9zM704.2,862.8h9.9l-5,9.9zM722.2,790.5h9.9l-5,9.9zM726.2,737.3h9.9l-5,9.9zM725.1,757.3h9.9l-5,9.9zM770.7,656.9h9.9l-5,9.9zM711.7,830.3h9.9l-5,9.9zM710.8,825.2h9.9l-5,9.9zM767.2,655.1h9.9l-5,9.9zM762.8,678.9h9.9l-5,9.9zM757.6,686.9h9.9l-5,9.9zM736.8,713.2h9.9l-5,9.9zM723.7,743.8h9.9l-5,9.9zM708.8,812.7h9.9l-5,9.9zM764.2,669.4h9.9l-5,9.9zM729.9,751.9h9.9l-5,9.9zM698,886.5h9.9l-5,9.9zM720.5,797h9.9l-5,9.9zM691.7,937.7h9.9l-5,9.9zM766.7,663.6h9.9l-5,9.9zM743.4,696h9.9l-5,9.9zM751.2,688.4h9.9l-5,9.9zM694.9,892.1h9.9l-5,9.9zM710.8,805.3h9.9l-5,9.9zM750.6,676.3h9.9l-5,9.9zM763.7,678.6h9.9l-5,9.9zM772.1,651.8h9.9l-5,9.9zM720.4,776.5h9.9l-5,9.9zM722.1,754.1h9.9l-5,9.9zM749.2,691.1h9.9l-5,9.9zM692.5,924.1h9.9l-5,9.9zM736.6,729.4h9.9l-5,9.9zM769.1,667.3h9.9l-5,9.9zM741.8,712.1h9.9l-5,9.9zM712.7,821.2h9.9l-5,9.9zM771.8,645.3h9.9l-5,9.9zM750.6,687.3h9.9l-5,9.9zM708.6,829h9.9l-5,9.9zM699.3,856.6h9.9l-5,9.9zM756.5,682.5h9.9l-5,9.9zM701.8,846.3h9.9l-5,9.9zM694.8,888.1h9.9l-5,9.9zM696.2,891.7h9.9l-5,9.9zM703.9,817.8h9.9l-5,9.9zM755.8,693.1h9.9l-5,9.9zM719.3,773.2h9.9l-5,9.9zM725.7,757.4h9.9l-5,9.9zM737.5,728.3h9.9l-5,9.9zM746.4,719.8h9.9l-5,9.9zM758.7,654.5h9.9l-5,9.9zM721.1,759.5h9.9l-5,9.9zM704.4,842.9h9.9l-5,9.9zM702.7,852.6h9.9l-5,9.9zM694.7,889.5h9.9l-5,9.9zM692.4,900.3h9.9l-5,9.9zM705.5,831.1h9.9l-5,9.9zM693.1,913.8h9.9l-5,9.9zM709.9,817.1h9.9l-5,9.9zM757.5,673.2h9.9l-5,9.9zM700.5,877.4h9.9l-5,9.9zM739,729.1h9.9l-5,9.9zM748.1,704h9.9l-5,9.9zM765.5,672.4h9.9l-5,9.9zM757.9,686.3h9.9l-5,9.9zM717.7,764.4h9.9l-5,9.9zM755,670.5h9.9l-5,9.9zM764,651.3h9.9l-5,9.9zM749.1,696.1h9.9l-5,9.9zM692.5,897h9.9l-5,9.9zM724.8,751.3h9.9l-5,9.9zM767.3,657.2h9.9l-5,9.9zM722.8,782.4h9.9l-5,9.9zM766.3,675h9.9l-5,9.9zM755.2,664.4h9.9l-5,9.9zM730.9,737.1h9.9l-5,9.9zM709.2,840.3h9.9l-5,9.9zM711.7,791.3h9.9l-5,9.9zM711.1,820.9h9.9l-5,9.9zM770.1,666.6h9.9l-5,9.9zM692.3,925.6h9.9l-5,9.9zM711.6,784.7h9.9l-5,9.9zM745.6,706.8h9.9l-5,9.9zM719.4,763.8h9.9l-5,9.9zM713.8,777.9h9.9l-5,9.9zM768.8,659.1h9.9l-5,9.9zM695.7,915.6h9.9l-5,9.9zM697.6,863.7h9.9l-5,9.9zM747.9,696h9.9l-5,9.9zM726.8,767.9h9.9l-5,9.9zM750.4,690.2h9.9l-5,9.9zM742.7,701.4h9.9l-5,9.9zM706.4,850.2h9.9l-5,9.9zM719.2,766.9h9.9l-5,9.9zM733.1,719.4h9.9l-5,9.9zM746.7,714.1h9.9l-5,9.9zM759.1,673.9h9.9l-5,9.9zM749.7,708.5h9.9l-5,9.9zM719.1,784.7h9.9l-5,9.9zM723.7,775.7h9.9l-5,9.9zM697.2,866.5h9.9l-5,9.9zM758.4,682.5h9.9l-5,9.9zM728.5,743.2h9.9l-5,9.9zM755.4,680.9h9.9l-5,9.9zM713.5,782.4h9.9l-5,9.9zM724,747.6h9.9l-5,9.9zM764.7,682.1h9.9l-5,9.9zM695.4,902.3h9.9l-5,9.9zM756.1,701.4h9.9l-5,9.9zM749.5,704.3h9.9l-5,9.9zM722.9,750.7h9.9l-5,9.9zM692,934.4h9.9l-5,9.9zM693.4,927.5h9.9l-5,9.9zM694.6,920.6h9.9l-5,9.9zM695.7,913.7h9.9l-5,9.9zM696.7,906.7h9.9l-5,9.9zM697.8,899.8h9.9l-5,9.9zM698.8,892.9h9.9l-5,9.9zM699.8,885.9h9.9l-5,9.9zM701.3,879.1h9.9l-5,9.9zM702.9,872.3h9.9l-5,9.9zM704.5,865.4h9.9l-5,9.9zM706.2,858.6h9.9l-5,9.9zM707.8,851.8h9.9l-5,9.9zM709.3,845h9.9l-5,9.9zM710.7,838.1h9.9l-5,9.9zM711.6,831.1h9.9l-5,9.9zM712.4,824.2h9.9l-5,9.9zM713.3,817.2h9.9l-5,9.9zM715.2,810.5h9.9l-5,9.9zM717.7,804h9.9l-5,9.9zM720.1,797.4h9.9l-5,9.9zM722.5,790.8h9.9l-5,9.9zM724.3,784.1h9.9l-5,9.9zM726,777.3h9.9l-5,9.9zM727.7,770.5h9.9l-5,9.9zM729.6,763.7h9.9l-5,9.9zM731.8,757.1h9.9l-5,9.9zM734.1,750.4h9.9l-5,9.9zM736.3,743.8h9.9l-5,9.9zM738.7,737.2h9.9l-5,9.9zM741.8,730.9h9.9l-5,9.9zM744.9,724.6h9.9l-5,9.9zM748.1,718.4h9.9l-5,9.9zM751,712h9.9l-5,9.9zM754,705.7h9.9l-5,9.9zM756.9,699.3h9.9l-5,9.9zM759.9,692.9h9.9l-5,9.9zM762.8,686.6h9.9l-5,9.9zM765.7,680.2h9.9l-5,9.9zM768.6,673.8h9.9l-5,9.9zM771.4,667.4h9.9l-5,9.9zM773.8,660.9h9.9l-5,9.9zM775.4,654h9.9l-5,9.9zM777,647.2h9.9l-5,9.9zM775.7,642.8h9.9l-5,9.9zM768.8,643.3h9.9l-5,9.9zM761.9,643.9h9.9l-5,9.9zM759.3,650.5h9.9l-5,9.9zM756.8,657h9.9l-5,9.9zM754.6,663.6h9.9l-5,9.9zM752.4,670.3h9.9l-5,9.9zM750.1,676.9h9.9l-5,9.9zM747.9,683.6h9.9l-5,9.9zM745.5,690.2h9.9l-5,9.9zM742.9,696.7h9.9l-5,9.9zM740.3,703.1h9.9l-5,9.9zM737.6,709.6h9.9l-5,9.9zM735,716.1h9.9l-5,9.9zM732.3,722.6h9.9l-5,9.9zM729.5,729h9.9l-5,9.9zM726.7,735.5h9.9l-5,9.9zM723.9,741.9h9.9l-5,9.9zM721.5,748.5h9.9l-5,9.9zM719.1,755h9.9l-5,9.9zM716.7,761.6h9.9l-5,9.9zM714.6,768.3h9.9l-5,9.9zM713.5,775.2h9.9l-5,9.9zM712.3,782.1h9.9l-5,9.9zM711.1,789h9.9l-5,9.9zM710,796h9.9l-5,9.9zM708.2,802.7h9.9l-5,9.9zM706.4,809.5h9.9l-5,9.9zM704.6,816.3h9.9l-5,9.9zM702.8,823.1h9.9l-5,9.9zM701.3,829.9h9.9l-5,9.9zM700.2,836.8h9.9l-5,9.9zM699,843.7h9.9l-5,9.9zM697.9,850.6h9.9l-5,9.9zM696.8,857.6h9.9l-5,9.9zM695.9,864.5h9.9l-5,9.9zM695.1,871.5h9.9l-5,9.9zM694.2,878.4h9.9l-5,9.9zM693.3,885.4h9.9l-5,9.9zM692.4,892.3h9.9l-5,9.9zM692,899.3h9.9l-5,9.9zM692,906.3h9.9l-5,9.9zM692,913.3h9.9l-5,9.9zM692,920.3h9.9l-5,9.9zM692,927.3h9.9l-5,9.9zM690.1,693.5h9.9l-5,9.9zM700.1,701h9.9l-5,9.9zM729.1,667.2h9.9l-5,9.9zM730.5,657.2h9.9l-5,9.9zM690.2,668.9h9.9l-5,9.9zM720.5,708.9h9.9l-5,9.9zM664.9,663.2h9.9l-5,9.9zM697.5,689.9h9.9l-5,9.9zM729.8,654.6h9.9l-5,9.9zM725.9,704.5h9.9l-5,9.9zM697.8,706.7h9.9l-5,9.9zM698.7,709.1h9.9l-5,9.9zM711.8,699.7h9.9l-5,9.9zM689.2,685.1h9.9l-5,9.9zM671.1,661.3h9.9l-5,9.9zM688.8,678.6h9.9l-5,9.9zM721.2,695.7h9.9l-5,9.9zM668.7,659.8h9.9l-5,9.9zM699.3,654h9.9l-5,9.9zM708.8,707.1h9.9l-5,9.9zM721.7,695.8h9.9l-5,9.9zM720.7,693h9.9l-5,9.9zM744,645h9.9l-5,9.9zM730,690.6h9.9l-5,9.9zM712.7,713.9h9.9l-5,9.9zM660.4,671.1h9.9l-5,9.9zM710.4,663.3h9.9l-5,9.9zM677.3,678h9.9l-5,9.9zM662.9,676.2h9.9l-5,9.9zM696,710h9.9l-5,9.9zM694.4,655.6h9.9l-5,9.9zM707.6,651.8h9.9l-5,9.9zM719.5,711.6h9.9l-5,9.9zM686.9,667h9.9l-5,9.9zM689.3,666.9h9.9l-5,9.9zM718.4,669.8h9.9l-5,9.9zM681.6,687.1h9.9l-5,9.9zM690.1,662.9h9.9l-5,9.9zM703.4,689.5h9.9l-5,9.9zM723.2,710.4h9.9l-5,9.9zM658.7,667.9h9.9l-5,9.9zM707.3,690.5h9.9l-5,9.9zM702.9,670.5h9.9l-5,9.9zM645.7,664.8h9.9l-5,9.9zM695.3,677.3h9.9l-5,9.9zM681.1,680h9.9l-5,9.9zM695,665.4h9.9l-5,9.9zM685.1,685.6h9.9l-5,9.9zM728.8,660.2h9.9l-5,9.9zM683.3,669.5h9.9l-5,9.9zM701.8,661.3h9.9l-5,9.9zM723,693.7h9.9l-5,9.9zM703.1,708.4h9.9l-5,9.9zM690.3,655.3h9.9l-5,9.9zM681.3,831.3h9.9l-5,9.9zM629.8,702.7h9.9l-5,9.9zM675.6,792.9h9.9l-5,9.9zM670.5,849.9h9.9l-5,9.9zM636.7,752.7h9.9l-5,9.9zM611,726.1h9.9l-5,9.9zM675.3,716.5h9.9l-5,9.9zM624.9,810.9h9.9l-5,9.9zM671.7,692.7h9.9l-5,9.9zM637.5,819.9h9.9l-5,9.9zM656.8,762.9h9.9l-5,9.9zM700.2,788h9.9l-5,9.9zM622.9,753.6h9.9l-5,9.9zM705,781.3h9.9l-5,9.9zM629.5,803.1h9.9l-5,9.9zM686.7,773.5h9.9l-5,9.9zM633.9,799.5h9.9l-5,9.9zM656,809.4h9.9l-5,9.9zM662.4,740.2h9.9l-5,9.9zM628.5,732.2h9.9l-5,9.9zM687,825h9.9l-5,9.9zM612.3,789.7h9.9l-5,9.9zM644.5,733.3h9.9l-5,9.9zM656.5,839.5h9.9l-5,9.9zM658.3,758.8h9.9l-5,9.9zM685.4,704.3h9.9l-5,9.9zM698.8,761.3h9.9l-5,9.9zM678.2,730.2h9.9l-5,9.9zM678.8,796h9.9l-5,9.9zM588.9,770h9.9l-5,9.9zM677.5,723.1h9.9l-5,9.9zM668,733.7h9.9l-5,9.9zM635.6,783.1h9.9l-5,9.9zM689.9,814.5h9.9l-5,9.9zM642.2,707h9.9l-5,9.9zM681.4,711.4h9.9l-5,9.9zM671.5,696h9.9l-5,9.9zM680.2,709.1h9.9l-5,9.9zM665.5,750.3h9.9l-5,9.9zM641,765.8h9.9l-5,9.9zM677.1,809.5h9.9l-5,9.9zM601.5,771.1h9.9l-5,9.9zM622.8,714.6h9.9l-5,9.9zM707.1,766.7h9.9l-5,9.9zM686.6,729.1h9.9l-5,9.9zM703.8,790h9.9l-5,9.9zM664.6,776.6h9.9l-5,9.9zM696.4,761.6h9.9l-5,9.9zM689.4,801.6h9.9l-5,9.9zM680.8,726h9.9l-5,9.9zM640.8,825.3h9.9l-5,9.9zM653.7,755.1h9.9l-5,9.9zM641.8,769.9h9.9l-5,9.9zM613.1,748.8h9.9l-5,9.9zM653.7,815h9.9l-5,9.9zM658.7,714.3h9.9l-5,9.9zM700.9,748.8h9.9l-5,9.9zM712.3,751.7h9.9l-5,9.9zM652.8,739.8h9.9l-5,9.9zM592.7,734.8h9.9l-5,9.9zM664.4,781.6h9.9l-5,9.9zM665.1,778.3h9.9l-5,9.9zM697.5,799.6h9.9l-5,9.9zM626.2,788.7h9.9l-5,9.9zM653.6,721.6h9.9l-5,9.9zM647.1,706.9h9.9l-5,9.9zM693.9,799.5h9.9l-5,9.9zM672.2,842.7h9.9l-5,9.9zM582,758.7h9.9l-5,9.9zM712.7,739.6h9.9l-5,9.9zM658.8,825.5h9.9l-5,9.9zM648.3,741.4h9.9l-5,9.9zM674.1,698.4h9.9l-5,9.9zM613.4,711.9h9.9l-5,9.9zM626.8,798.2h9.9l-5,9.9zM667.8,714.1h9.9l-5,9.9zM678.2,779.7h9.9l-5,9.9zM611.3,710.8h9.9l-5,9.9zM658.6,821.6h9.9l-5,9.9zM597.8,771.5h9.9l-5,9.9zM656.6,781.2h9.9l-5,9.9zM633.7,778.4h9.9l-5,9.9zM635.1,726.8h9.9l-5,9.9zM682.5,727.7h9.9l-5,9.9zM692.1,727.6h9.9l-5,9.9zM588.2,767.3h9.9l-5,9.9zM630.1,743.4h9.9l-5,9.9zM683.7,724.4h9.9l-5,9.9zM670.2,827.3h9.9l-5,9.9zM639.3,771.6h9.9l-5,9.9zM586.7,742.8h9.9l-5,9.9zM635.2,738.9h9.9l-5,9.9zM609.8,713h9.9l-5,9.9zM618.4,741.5h9.9l-5,9.9zM635.9,714.9h9.9l-5,9.9zM695.4,795.9h9.9l-5,9.9zM622.7,704.3h9.9l-5,9.9zM680.5,807.5h9.9l-5,9.9zM647.6,715.3h9.9l-5,9.9zM670.1,759.8h9.9l-5,9.9zM668.9,702.4h9.9l-5,9.9zM606.7,754h9.9l-5,9.9zM672.7,854h9.9l-5,9.9zM622.6,731.8h9.9l-5,9.9zM670.3,724.4h9.9l-5,9.9zM632,802.7h9.9l-5,9.9zM636.2,713.2h9.9l-5,9.9zM589.2,771.4h9.9l-5,9.9zM644.4,719.6h9.9l-5,9.9zM670.2,770.3h9.9l-5,9.9zM689.9,736.1h9.9l-5,9.9zM642.3,710.8h9.9l-5,9.9zM643.7,708.4h9.9l-5,9.9zM672.4,804.2h9.9l-5,9.9zM657.8,808.5h9.9l-5,9.9zM624.5,803.9h9.9l-5,9.9zM627.1,806.7h9.9l-5,9.9zM697.8,794h9.9l-5,9.9zM676.8,706.4h9.9l-5,9.9zM629.1,799.9h9.9l-5,9.9zM716.5,740.5h9.9l-5,9.9zM697.9,785.9h9.9l-5,9.9zM603,774.2h9.9l-5,9.9zM643.6,743.7h9.9l-5,9.9zM628.1,772.8h9.9l-5,9.9zM658.6,724.4h9.9l-5,9.9zM614.4,771.5h9.9l-5,9.9zM646.6,757.4h9.9l-5,9.9zM669.4,718.2h9.9l-5,9.9zM650.6,733.4h9.9l-5,9.9zM684.4,805.3h9.9l-5,9.9zM686,774h9.9l-5,9.9zM647.6,750.1h9.9l-5,9.9zM616.3,754.6h9.9l-5,9.9zM675.7,824.6h9.9l-5,9.9zM643.6,809.9h9.9l-5,9.9zM605.3,763h9.9l-5,9.9zM625.9,738.5h9.9l-5,9.9zM626.1,813.8h9.9l-5,9.9zM679.2,721.9h9.9l-5,9.9zM668,800.6h9.9l-5,9.9zM665.3,803.6h9.9l-5,9.9zM670.2,849.4h9.9l-5,9.9zM689.3,725.6h9.9l-5,9.9zM622.9,705.3h9.9l-5,9.9zM688,810.9h9.9l-5,9.9zM644.3,749.1h9.9l-5,9.9zM613.4,768.9h9.9l-5,9.9zM676.2,837.5h9.9l-5,9.9zM637.4,757.8h9.9l-5,9.9zM696.1,742.7h9.9l-5,9.9zM635.7,719.4h9.9l-5,9.9zM684.8,750h9.9l-5,9.9zM637.5,753.8h9.9l-5,9.9zM659.6,729.9h9.9l-5,9.9zM577.9,752.6h9.9l-5,9.9zM627.8,814.9h9.9l-5,9.9zM622.3,801.2h9.9l-5,9.9zM663.7,718.7h9.9l-5,9.9zM661.8,736.4h9.9l-5,9.9zM658.3,783.6h9.9l-5,9.9zM621.2,795.3h9.9l-5,9.9zM660.5,772.7h9.9l-5,9.9zM592.4,722.8h9.9l-5,9.9zM619.3,757h9.9l-5,9.9zM609.6,785.7h9.9l-5,9.9zM688.1,823.2h9.9l-5,9.9zM582.8,750.9h9.9l-5,9.9zM607.4,792h9.9l-5,9.9zM685.5,828.5h9.9l-5,9.9zM652.9,752.1h9.9l-5,9.9zM588,764.6h9.9l-5,9.9zM627.4,759.7h9.9l-5,9.9zM647.2,735.7h9.9l-5,9.9zM674.7,773.8h9.9l-5,9.9zM647.6,770h9.9l-5,9.9zM625.9,743.4h9.9l-5,9.9zM662.4,781.7h9.9l-5,9.9zM710.7,749.1h9.9l-5,9.9zM650.6,742.1h9.9l-5,9.9zM623.1,757.2h9.9l-5,9.9zM710.9,747.7h9.9l-5,9.9zM632.1,714.3h9.9l-5,9.9zM669.1,798.7h9.9l-5,9.9zM638.4,755.2h9.9l-5,9.9zM640,826.8h9.9l-5,9.9zM628.3,810.3h9.9l-5,9.9zM671,770.5h9.9l-5,9.9zM642.1,720.2h9.9l-5,9.9zM673.6,730.5h9.9l-5,9.9zM666.6,709.9h9.9l-5,9.9zM662.1,715.9h9.9l-5,9.9zM647.4,739.8h9.9l-5,9.9zM653.2,709.6h9.9l-5,9.9zM643.7,790.6h9.9l-5,9.9zM594.2,738.9h9.9l-5,9.9zM671.4,778.8h9.9l-5,9.9zM662.6,818.1h9.9l-5,9.9zM656.2,724.4h9.9l-5,9.9zM637.9,826.5h9.9l-5,9.9zM655.5,813.6h9.9l-5,9.9zM626.7,762.4h9.9l-5,9.9zM667.8,704.9h9.9l-5,9.9zM661.9,692.6h9.9l-5,9.9zM678.4,732h9.9l-5,9.9zM692.6,774.5h9.9l-5,9.9zM637.5,826.5h9.9l-5,9.9zM672.8,776.5h9.9l-5,9.9zM697.5,721.2h9.9l-5,9.9zM702.6,744h9.9l-5,9.9zM578.7,743.6h9.9l-5,9.9zM663.7,707.3h9.9l-5,9.9zM597.7,736.2h9.9l-5,9.9zM688.1,734.2h9.9l-5,9.9zM679,725.3h9.9l-5,9.9zM653.5,789.9h9.9l-5,9.9zM674.4,765h9.9l-5,9.9zM686.7,763.6h9.9l-5,9.9zM693.1,728.7h9.9l-5,9.9zM673.7,753.6h9.9l-5,9.9zM606.9,723.6h9.9l-5,9.9zM710.5,748.9h9.9l-5,9.9zM647.4,771.3h9.9l-5,9.9zM680.9,834.2h9.9l-5,9.9zM625.7,722.3h9.9l-5,9.9zM624.4,810.1h9.9l-5,9.9zM668.5,755.3h9.9l-5,9.9zM649.6,712.9h9.9l-5,9.9zM705.5,766.3h9.9l-5,9.9zM647,819.3h9.9l-5,9.9zM588.4,733.4h9.9l-5,9.9zM665.3,768.1h9.9l-5,9.9zM628.6,784.3h9.9l-5,9.9zM606,760.5h9.9l-5,9.9zM653.5,788.1h9.9l-5,9.9zM663.9,708.1h9.9l-5,9.9zM685.4,736.1h9.9l-5,9.9zM671.3,824h9.9l-5,9.9zM637.1,800.2h9.9l-5,9.9zM589.4,756.3h9.9l-5,9.9zM647.4,712.1h9.9l-5,9.9zM630.1,712.1h9.9l-5,9.9zM601,784.1h9.9l-5,9.9zM542.1,742.2h9.9l-5,9.9zM573.4,740.4h9.9l-5,9.9zM570.4,761.4h9.9l-5,9.9zM594.1,747.3h9.9l-5,9.9zM573.5,728.6h9.9l-5,9.9zM595.3,733.3h9.9l-5,9.9zM590.5,729.1h9.9l-5,9.9zM576.6,751.4h9.9l-5,9.9zM558.5,742.5h9.9l-5,9.9zM530.9,751.1h9.9l-5,9.9zM587.3,725.2h9.9l-5,9.9zM574.6,755.9h9.9l-5,9.9zM569.1,730.3h9.9l-5,9.9zM552.1,741.5h9.9l-5,9.9zM558.5,758.8h9.9l-5,9.9zM590.1,723.1h9.9l-5,9.9zM587.8,758.4h9.9l-5,9.9zM560.4,733.6h9.9l-5,9.9zM571.1,740.4h9.9l-5,9.9zM564.4,757.8h9.9l-5,9.9zM599.8,742.3h9.9l-5,9.9zM541.1,738.6h9.9l-5,9.9zM659.1,674.6h9.9l-5,9.9zM641,684.1h9.9l-5,9.9zM625.4,685h9.9l-5,9.9zM608.4,683.9h9.9l-5,9.9zM638.4,688.6h9.9l-5,9.9zM655.4,678.5h9.9l-5,9.9zM599.4,667.9h9.9l-5,9.9zM605.2,689.2h9.9l-5,9.9zM614.7,686.4h9.9l-5,9.9zM615.6,657.2h9.9l-5,9.9zM641.8,667.1h9.9l-5,9.9zM651.2,668.3h9.9l-5,9.9zM598.2,694.7h9.9l-5,9.9zM591.1,694.3h9.9l-5,9.9zM618.1,660.5h9.9l-5,9.9zM620.2,680.5h9.9l-5,9.9zM621.7,656.9h9.9l-5,9.9zM630.2,667.9h9.9l-5,9.9zM623.3,663.5h9.9l-5,9.9zM620,696.2h9.9l-5,9.9zM611,656.1h9.9l-5,9.9zM592.5,677.2h9.9l-5,9.9zM608.5,664.1h9.9l-5,9.9zM586,702.7h9.9l-5,9.9zM577.4,660.6h9.9l-5,9.9zM590.1,679.4h9.9l-5,9.9zM611.9,712h9.9l-5,9.9zM575.4,688.7h9.9l-5,9.9zM586.2,713.2h9.9l-5,9.9zM578.8,690.5h9.9l-5,9.9zM600,654.4h9.9l-5,9.9zM611.1,657.6h9.9l-5,9.9zM578.7,699.4h9.9l-5,9.9zM569.6,682.7h9.9l-5,9.9zM574.6,655.7h9.9l-5,9.9zM590,659.5h9.9l-5,9.9zM605.7,678.8h9.9l-5,9.9zM576.1,666.7h9.9l-5,9.9zM606.7,653.3h9.9l-5,9.9zM601.6,656.8h9.9l-5,9.9zM612.2,678.2h9.9l-5,9.9zM594.1,709.6h9.9l-5,9.9zM599.1,690.6h9.9l-5,9.9zM600.5,669.2h9.9l-5,9.9zM588.9,662.9h9.9l-5,9.9zM585.8,669.5h9.9l-5,9.9zM483.1,722.6h9.9l-5,9.9zM498.4,734.6h9.9l-5,9.9zM513.8,702h9.9l-5,9.9zM510.1,710h9.9l-5,9.9zM531,700h9.9l-5,9.9zM543,723h9.9l-5,9.9zM555,730h9.9l-5,9.9zM540.5,623.8h9.9l-5,9.9zM587.5,624.3h9.9l-5,9.9zM594,622.8h9.9l-5,9.9zM607.2,618.3h9.9l-5,9.9zM574.4,616.6h9.9l-5,9.9zM552.5,641.3h9.9l-5,9.9zM571.8,643.5h9.9l-5,9.9zM621.5,638h9.9l-5,9.9zM620,637h9.9l-5,9.9zM623,639h9.9l-5,9.9zM562.9,665.3h9.9l-5,9.9zM547,678.5h9.9l-5,9.9zM546,677.5h9.9l-5,9.9zM548,679.5h9.9l-5,9.9zM590.8,676.3h9.9l-5,9.9zM610.5,677.4h9.9l-5,9.9zM577.8,685h9.9l-5,9.9zM576.8,684h9.9l-5,9.9zM571,693.8h9.9l-5,9.9zM582,708h9.9l-5,9.9zM586.4,694.9h9.9l-5,9.9zM604,698.2h9.9l-5,9.9zM603,697.2h9.9l-5,9.9zM573,659.2h9.9l-5,9.9zM575.4,658.6h9.9l-5,9.9zM577.8,658.6h9.9l-5,9.9zM580.2,659.3h9.9l-5,9.9zM582.6,658.2h9.9l-5,9.9zM585,659.7h9.9l-5,9.9zM587.4,659h9.9l-5,9.9zM589.8,658.5h9.9l-5,9.9zM592.2,658.3h9.9l-5,9.9zM594.6,659.1h9.9l-5,9.9zM597,659.1h9.9l-5,9.9zM599.4,659.5h9.9l-5,9.9zM601.8,658.8h9.9l-5,9.9zM604.2,658.9h9.9l-5,9.9zM606.6,659.8h9.9l-5,9.9zM609,658.6h9.9l-5,9.9zM611.4,660h9.9l-5,9.9zM613.8,659.8h9.9l-5,9.9zM616.2,660h9.9l-5,9.9zM618.6,659.9h9.9l-5,9.9zM621,658.6h9.9l-5,9.9zM623.4,659.7h9.9l-5,9.9zM625.8,659.3h9.9l-5,9.9zM628.2,658.5h9.9l-5,9.9zM630.6,660h9.9l-5,9.9zM633,659.3h9.9l-5,9.9zM688.3,968.5h9.9l-5,9.9z" fill="none" stroke="#ff7f0e" stroke-width="2.5" stroke-linejoin="miter"/>

<path d="M376.1,785.4a5.4,5.4 0 1,0 10.8,0a5.4,5.4 0 1,0 -10.8,0zM408.9,785.1a5.4,5.4 0 1,0 10.8,0a5.4,5.4 0 1,0 -10.8,0zM441,788.3a5.4,5.4 0 1,0 10.8,0a5.4,5.4 0 1,0 -10.8,0zM471,794.3a5.4,5.4 0 1,0 10.8,0a5.4,5.4 0 1,0 -10.8,0zM500,801.5a5.4,5.4 0 1,0 10.8,0a5.4,5.4 0 1,0 -10.8,0zM526.7,810.6a5.4,5.4 0 1,0 10.8,0a5.4,5.4 0 1,0 -10.8,0zM551,821.7a5.4,5.4 0 1,0 10.8,0a5.4,5.4 0 1,0 -10.8,0zM572,832.4a5.4,5.4 0 1,0 10.8,0a5.4,5.4 0 1,0 -10.8,0zM575.8,825.1a5.4,5.4 0 1,0 10.8,0a5.4,5.4 0 1,0 -10.8,0zM451,716.5a5.4,5.4 0 1,0 10.8,0a5.4,5.4 0 1,0 -10.8,0zM482.9,709.3a5.4,5.4 0 1,0 10.8,0a5.4,5.4 0 1,0 -10.8,0zM497.1,718.2a5.4,5.4 0 1,0 10.8,0a5.4,5.4 0 1,0 -10.8,0zM525.9,697.3a5.4,5.4 0 1,0 10.8,0a5.4,5.4 0 1,0 -10.8,0zM527,717.3a5.4,5.4 0 1,0 10.8,0a5.4,5.4 0 1,0 -10.8,0zM541.9,708.4a5.4,5.4 0 1,0 10.8,0a5.4,5.4 0 1,0 -10.8,0zM555.8,697.3a5.4,5.4 0 1,0 10.8,0a5.4,5.4 0 1,0 -10.8,0zM560.1,718.2a5.4,5.4 0 1,0 10.8,0a5.4,5.4 0 1,0 -10.8,0zM570.3,696.5a5.4,5.4 0 1,0 10.8,0a5.4,5.4 0 1,0 -10.8,0zM586,704.5a5.4,5.4 0 1,0 10.8,0a5.4,5.4 0 1,0 -10.8,0zM600.1,673.4a5.4,5.4 0 1,0 10.8,0a5.4,5.4 0 1,0 -10.8,0zM611.7,679.7a5.4,5.4 0 1,0 10.8,0a5.4,5.4 0 1,0 -10.8,0zM594.6,717.3a5.4,5.4 0 1,0 10.8,0a5.4,5.4 0 1,0 -10.8,0zM610,709.6a5.4,5.4 0 1,0 10.8,0a5.4,5.4 0 1,0 -10.8,0zM427,741.3a5.4,5.4 0 1,0 10.8,0a5.4,5.4 0 1,0 -10.8,0zM410.8,764.4a5.4,5.4 0 1,0 10.8,0a5.4,5.4 0 1,0 -10.8,0zM437.8,760.1a5.4,5.4 0 1,0 10.8,0a5.4,5.4 0 1,0 -10.8,0zM448,759.3a5.4,5.4 0 1,0 10.8,0a5.4,5.4 0 1,0 -10.8,0zM451.1,765.2a5.4,5.4 0 1,0 10.8,0a5.4,5.4 0 1,0 -10.8,0zM458.6,727.3a5.4,5.4 0 1,0 10.8,0a5.4,5.4 0 1,0 -10.8,0zM469.3,738.4a5.4,5.4 0 1,0 10.8,0a5.4,5.4 0 1,0 -10.8,0zM475.8,741.3a5.4,5.4 0 1,0 10.8,0a5.4,5.4 0 1,0 -10.8,0zM470.6,757.2a5.4,5.4 0 1,0 10.8,0a5.4,5.4 0 1,0 -10.8,0zM484.3,756.7a5.4,5.4 0 1,0 10.8,0a5.4,5.4 0 1,0 -10.8,0zM478.8,779.3a5.4,5.4 0 1,0 10.8,0a5.4,5.4 0 1,0 -10.8,0zM505.8,790.4a5.4,5.4 0 1,0 10.8,0a5.4,5.4 0 1,0 -10.8,0zM532.2,801.2a5.4,5.4 0 1,0 10.8,0a5.4,5.4 0 1,0 -10.8,0zM554.8,813.1a5.4,5.4 0 1,0 10.8,0a5.4,5.4 0 1,0 -10.8,0zM497.1,720.8a5.4,5.4 0 1,0 10.8,0a5.4,5.4 0 1,0 -10.8,0zM492.9,731.6a5.4,5.4 0 1,0 10.8,0a5.4,5.4 0 1,0 -10.8,0zM506.2,736.5a5.4,5.4 0 1,0 10.8,0a5.4,5.4 0 1,0 -10.8,0zM515.9,731a5.4,5.4 0 1,0 10.8,0a5.4,5.4 0 1,0 -10.8,0zM511.7,745.6a5.4,5.4 0 1,0 10.8,0a5.4,5.4 0 1,0 -10.8,0zM518.5,751.6a5.4,5.4 0 1,0 10.8,0a5.4,5.4 0 1,0 -10.8,0zM524.5,743a5.4,5.4 0 1,0 10.8,0a5.4,5.4 0 1,0 -10.8,0zM492.6,756a5.4,5.4 0 1,0 10.8,0a5.4,5.4 0 1,0 -10.8,0zM495.1,755.5a5.4,5.4 0 1,0 10.8,0a5.4,5.4 0 1,0 -10.8,0zM497.6,755a5.4,5.4 0 1,0 10.8,0a5.4,5.4 0 1,0 -10.8,0zM500.1,754.5a5.4,5.4 0 1,0 10.8,0a5.4,5.4 0 1,0 -10.8,0zM502.6,754a5.4,5.4 0 1,0 10.8,0a5.4,5.4 0 1,0 -10.8,0zM505.1,753.5a5.4,5.4 0 1,0 10.8,0a5.4,5.4 0 1,0 -10.8,0zM507.6,753a5.4,5.4 0 1,0 10.8,0a5.4,5.4 0 1,0 -10.8,0zM509.6,752.5a5.4,5.4 0 1,0 10.8,0a5.4,5.4 0 1,0 -10.8,0zM517.6,770.4a5.4,5.4 0 1,0 10.8,0a5.4,5.4 0 1,0 -10.8,0zM520.2,769.5a5.4,5.4 0 1,0 10.8,0a5.4,5.4 0 1,0 -10.8,0zM522.8,768.7a5.4,5.4 0 1,0 10.8,0a5.4,5.4 0 1,0 -10.8,0zM540.7,784a5.4,5.4 0 1,0 10.8,0a5.4,5.4 0 1,0 -10.8,0zM543.3,783.2a5.4,5.4 0 1,0 10.8,0a5.4,5.4 0 1,0 -10.8,0zM545.9,781.5a5.4,5.4 0 1,0 10.8,0a5.4,5.4 0 1,0 -10.8,0zM563,797.7a5.4,5.4 0 1,0 10.8,0a5.4,5.4 0 1,0 -10.8,0zM565.5,796a5.4,5.4 0 1,0 10.8,0a5.4,5.4 0 1,0 -10.8,0zM568.1,794.3a5.4,5.4 0 1,0 10.8,0a5.4,5.4 0 1,0 -10.8,0zM583.5,809.7a5.4,5.4 0 1,0 10.8,0a5.4,5.4 0 1,0 -10.8,0zM586,808a5.4,5.4 0 1,0 10.8,0a5.4,5.4 0 1,0 -10.8,0zM527,719.1a5.4,5.4 0 1,0 10.8,0a5.4,5.4 0 1,0 -10.8,0zM542.4,725.9a5.4,5.4 0 1,0 10.8,0a5.4,5.4 0 1,0 -10.8,0zM560.1,720.4a5.4,5.4 0 1,0 10.8,0a5.4,5.4 0 1,0 -10.8,0zM594.6,718.2a5.4,5.4 0 1,0 10.8,0a5.4,5.4 0 1,0 -10.8,0zM600,673.6a5.4,5.4 0 1,0 10.8,0a5.4,5.4 0 1,0 -10.8,0zM612.9,679.1a5.4,5.4 0 1,0 10.8,0a5.4,5.4 0 1,0 -10.8,0zM627.7,687.1a5.4,5.4 0 1,0 10.8,0a5.4,5.4 0 1,0 -10.8,0zM642.5,697a5.4,5.4 0 1,0 10.8,0a5.4,5.4 0 1,0 -10.8,0zM707.7,658.8a5.4,5.4 0 1,0 10.8,0a5.4,5.4 0 1,0 -10.8,0zM709,668.6a5.4,5.4 0 1,0 10.8,0a5.4,5.4 0 1,0 -10.8,0zM708.1,663a5.4,5.4 0 1,0 10.8,0a5.4,5.4 0 1,0 -10.8,0zM736,655.1a5.4,5.4 0 1,0 10.8,0a5.4,5.4 0 1,0 -10.8,0zM702.2,684a5.4,5.4 0 1,0 10.8,0a5.4,5.4 0 1,0 -10.8,0zM729.9,673.6a5.4,5.4 0 1,0 10.8,0a5.4,5.4 0 1,0 -10.8,0zM665.9,690.8a5.4,5.4 0 1,0 10.8,0a5.4,5.4 0 1,0 -10.8,0zM675.6,693.3a5.4,5.4 0 1,0 10.8,0a5.4,5.4 0 1,0 -10.8,0zM712.6,695.7a5.4,5.4 0 1,0 10.8,0a5.4,5.4 0 1,0 -10.8,0zM736.4,655.2a5.4,5.4 0 1,0 10.8,0a5.4,5.4 0 1,0 -10.8,0zM776.1,672.4a5.4,5.4 0 1,0 10.8,0a5.4,5.4 0 1,0 -10.8,0zM715.4,834a5.4,5.4 0 1,0 10.8,0a5.4,5.4 0 1,0 -10.8,0zM701.4,902.6a5.4,5.4 0 1,0 10.8,0a5.4,5.4 0 1,0 -10.8,0zM690.3,712.2a5.4,5.4 0 1,0 10.8,0a5.4,5.4 0 1,0 -10.8,0zM627.9,721.7a5.4,5.4 0 1,0 10.8,0a5.4,5.4 0 1,0 -10.8,0zM673.8,700.8a5.4,5.4 0 1,0 10.8,0a5.4,5.4 0 1,0 -10.8,0zM660.6,717a5.4,5.4 0 1,0 10.8,0a5.4,5.4 0 1,0 -10.8,0zM676.6,716.2a5.4,5.4 0 1,0 10.8,0a5.4,5.4 0 1,0 -10.8,0zM657.4,706.4a5.4,5.4 0 1,0 10.8,0a5.4,5.4 0 1,0 -10.8,0zM680.6,717.9a5.4,5.4 0 1,0 10.8,0a5.4,5.4 0 1,0 -10.8,0zM676.7,707.3a5.4,5.4 0 1,0 10.8,0a5.4,5.4 0 1,0 -10.8,0zM669.8,710.8a5.4,5.4 0 1,0 10.8,0a5.4,5.4 0 1,0 -10.8,0zM637.2,724.4a5.4,5.4 0 1,0 10.8,0a5.4,5.4 0 1,0 -10.8,0zM684.6,717.1a5.4,5.4 0 1,0 10.8,0a5.4,5.4 0 1,0 -10.8,0zM688.4,709.6a5.4,5.4 0 1,0 10.8,0a5.4,5.4 0 1,0 -10.8,0zM693.3,715.7a5.4,5.4 0 1,0 10.8,0a5.4,5.4 0 1,0 -10.8,0zM669.6,701.3a5.4,5.4 0 1,0 10.8,0a5.4,5.4 0 1,0 -10.8,0zM640.2,721.2a5.4,5.4 0 1,0 10.8,0a5.4,5.4 0 1,0 -10.8,0zM649.2,721.3a5.4,5.4 0 1,0 10.8,0a5.4,5.4 0 1,0 -10.8,0zM658.3,706.6a5.4,5.4 0 1,0 10.8,0a5.4,5.4 0 1,0 -10.8,0zM670.8,710.5a5.4,5.4 0 1,0 10.8,0a5.4,5.4 0 1,0 -10.8,0zM631.8,721.2a5.4,5.4 0 1,0 10.8,0a5.4,5.4 0 1,0 -10.8,0zM690.3,716.5a5.4,5.4 0 1,0 10.8,0a5.4,5.4 0 1,0 -10.8,0zM668.1,720.1a5.4,5.4 0 1,0 10.8,0a5.4,5.4 0 1,0 -10.8,0zM670.1,719.1a5.4,5.4 0 1,0 10.8,0a5.4,5.4 0 1,0 -10.8,0zM674.8,713.5a5.4,5.4 0 1,0 10.8,0a5.4,5.4 0 1,0 -10.8,0zM566.8,753.7a5.4,5.4 0 1,0 10.8,0a5.4,5.4 0 1,0 -10.8,0zM554.1,745.6a5.4,5.4 0 1,0 10.8,0a5.4,5.4 0 1,0 -10.8,0zM567,746.3a5.4,5.4 0 1,0 10.8,0a5.4,5.4 0 1,0 -10.8,0zM559.1,755.6a5.4,5.4 0 1,0 10.8,0a5.4,5.4 0 1,0 -10.8,0zM556.9,751.2a5.4,5.4 0 1,0 10.8,0a5.4,5.4 0 1,0 -10.8,0zM567.3,753.1a5.4,5.4 0 1,0 10.8,0a5.4,5.4 0 1,0 -10.8,0zM628.4,781a5.4,5.4 0 1,0 10.8,0a5.4,5.4 0 1,0 -10.8,0zM669.9,763.8a5.4,5.4 0 1,0 10.8,0a5.4,5.4 0 1,0 -10.8,0zM676.4,755.5a5.4,5.4 0 1,0 10.8,0a5.4,5.4 0 1,0 -10.8,0zM659.8,832.2a5.4,5.4 0 1,0 10.8,0a5.4,5.4 0 1,0 -10.8,0zM586.4,742.2a5.4,5.4 0 1,0 10.8,0a5.4,5.4 0 1,0 -10.8,0zM634.7,765.8a5.4,5.4 0 1,0 10.8,0a5.4,5.4 0 1,0 -10.8,0zM694.9,844.6a5.4,5.4 0 1,0 10.8,0a5.4,5.4 0 1,0 -10.8,0zM628.4,820.4a5.4,5.4 0 1,0 10.8,0a5.4,5.4 0 1,0 -10.8,0zM653,746.6a5.4,5.4 0 1,0 10.8,0a5.4,5.4 0 1,0 -10.8,0zM672.5,795.8a5.4,5.4 0 1,0 10.8,0a5.4,5.4 0 1,0 -10.8,0zM601,762.3a5.4,5.4 0 1,0 10.8,0a5.4,5.4 0 1,0 -10.8,0zM634.5,773a5.4,5.4 0 1,0 10.8,0a5.4,5.4 0 1,0 -10.8,0zM654.8,786.1a5.4,5.4 0 1,0 10.8,0a5.4,5.4 0 1,0 -10.8,0zM661.7,841a5.4,5.4 0 1,0 10.8,0a5.4,5.4 0 1,0 -10.8,0zM680.1,795.7a5.4,5.4 0 1,0 10.8,0a5.4,5.4 0 1,0 -10.8,0zM646.2,727.5a5.4,5.4 0 1,0 10.8,0a5.4,5.4 0 1,0 -10.8,0zM620.2,757.1a5.4,5.4 0 1,0 10.8,0a5.4,5.4 0 1,0 -10.8,0zM651.5,733.8a5.4,5.4 0 1,0 10.8,0a5.4,5.4 0 1,0 -10.8,0zM641.2,770.7a5.4,5.4 0 1,0 10.8,0a5.4,5.4 0 1,0 -10.8,0zM634.5,774.1a5.4,5.4 0 1,0 10.8,0a5.4,5.4 0 1,0 -10.8,0zM675.2,797.2a5.4,5.4 0 1,0 10.8,0a5.4,5.4 0 1,0 -10.8,0zM684.6,843.4a5.4,5.4 0 1,0 10.8,0a5.4,5.4 0 1,0 -10.8,0zM685.5,805.1a5.4,5.4 0 1,0 10.8,0a5.4,5.4 0 1,0 -10.8,0zM678.6,832.5a5.4,5.4 0 1,0 10.8,0a5.4,5.4 0 1,0 -10.8,0zM619.6,761.2a5.4,5.4 0 1,0 10.8,0a5.4,5.4 0 1,0 -10.8,0zM670.1,799.4a5.4,5.4 0 1,0 10.8,0a5.4,5.4 0 1,0 -10.8,0zM613.4,790.6a5.4,5.4 0 1,0 10.8,0a5.4,5.4 0 1,0 -10.8,0zM690.2,793.4a5.4,5.4 0 1,0 10.8,0a5.4,5.4 0 1,0 -10.8,0zM630.3,791.7a5.4,5.4 0 1,0 10.8,0a5.4,5.4 0 1,0 -10.8,0zM665.5,841.3a5.4,5.4 0 1,0 10.8,0a5.4,5.4 0 1,0 -10.8,0zM651.9,782.9a5.4,5.4 0 1,0 10.8,0a5.4,5.4 0 1,0 -10.8,0zM653.3,789.5a5.4,5.4 0 1,0 10.8,0a5.4,5.4 0 1,0 -10.8,0zM662.6,838.7a5.4,5.4 0 1,0 10.8,0a5.4,5.4 0 1,0 -10.8,0zM655.1,821.2a5.4,5.4 0 1,0 10.8,0a5.4,5.4 0 1,0 -10.8,0zM601,771.4a5.4,5.4 0 1,0 10.8,0a5.4,5.4 0 1,0 -10.8,0zM639.4,798.1a5.4,5.4 0 1,0 10.8,0a5.4,5.4 0 1,0 -10.8,0zM612.5,795.8a5.4,5.4 0 1,0 10.8,0a5.4,5.4 0 1,0 -10.8,0zM637.7,771.9a5.4,5.4 0 1,0 10.8,0a5.4,5.4 0 1,0 -10.8,0zM671.8,837.3a5.4,5.4 0 1,0 10.8,0a5.4,5.4 0 1,0 -10.8,0zM622,791.2a5.4,5.4 0 1,0 10.8,0a5.4,5.4 0 1,0 -10.8,0zM613.1,744.5a5.4,5.4 0 1,0 10.8,0a5.4,5.4 0 1,0 -10.8,0zM587.2,762.1a5.4,5.4 0 1,0 10.8,0a5.4,5.4 0 1,0 -10.8,0zM662.1,795.1a5.4,5.4 0 1,0 10.8,0a5.4,5.4 0 1,0 -10.8,0zM636.5,743a5.4,5.4 0 1,0 10.8,0a5.4,5.4 0 1,0 -10.8,0zM677.9,823.7a5.4,5.4 0 1,0 10.8,0a5.4,5.4 0 1,0 -10.8,0zM670.8,818a5.4,5.4 0 1,0 10.8,0a5.4,5.4 0 1,0 -10.8,0zM653.2,825.1a5.4,5.4 0 1,0 10.8,0a5.4,5.4 0 1,0 -10.8,0zM679.7,835.6a5.4,5.4 0 1,0 10.8,0a5.4,5.4 0 1,0 -10.8,0zM659.9,827a5.4,5.4 0 1,0 10.8,0a5.4,5.4 0 1,0 -10.8,0zM644.4,758.8a5.4,5.4 0 1,0 10.8,0a5.4,5.4 0 1,0 -10.8,0zM602.8,790.6a5.4,5.4 0 1,0 10.8,0a5.4,5.4 0 1,0 -10.8,0zM661.6,806.1a5.4,5.4 0 1,0 10.8,0a5.4,5.4 0 1,0 -10.8,0zM670.7,762.5a5.4,5.4 0 1,0 10.8,0a5.4,5.4 0 1,0 -10.8,0zM582.5,759.5a5.4,5.4 0 1,0 10.8,0a5.4,5.4 0 1,0 -10.8,0zM671.4,781.5a5.4,5.4 0 1,0 10.8,0a5.4,5.4 0 1,0 -10.8,0zM583.6,767.5a5.4,5.4 0 1,0 10.8,0a5.4,5.4 0 1,0 -10.8,0zM580.6,755.4a5.4,5.4 0 1,0 10.8,0a5.4,5.4 0 1,0 -10.8,0zM657.2,830a5.4,5.4 0 1,0 10.8,0a5.4,5.4 0 1,0 -10.8,0zM623.6,779.5a5.4,5.4 0 1,0 10.8,0a5.4,5.4 0 1,0 -10.8,0zM663.9,819.3a5.4,5.4 0 1,0 10.8,0a5.4,5.4 0 1,0 -10.8,0zM639.8,809.2a5.4,5.4 0 1,0 10.8,0a5.4,5.4 0 1,0 -10.8,0zM608.2,759.6a5.4,5.4 0 1,0 10.8,0a5.4,5.4 0 1,0 -10.8,0zM667.2,751.5a5.4,5.4 0 1,0 10.8,0a5.4,5.4 0 1,0 -10.8,0zM612.5,759.6a5.4,5.4 0 1,0 10.8,0a5.4,5.4 0 1,0 -10.8,0zM683.6,802a5.4,5.4 0 1,0 10.8,0a5.4,5.4 0 1,0 -10.8,0zM633,771.2a5.4,5.4 0 1,0 10.8,0a5.4,5.4 0 1,0 -10.8,0zM628.9,793.5a5.4,5.4 0 1,0 10.8,0a5.4,5.4 0 1,0 -10.8,0zM603.7,738.3a5.4,5.4 0 1,0 10.8,0a5.4,5.4 0 1,0 -10.8,0zM635.8,817.4a5.4,5.4 0 1,0 10.8,0a5.4,5.4 0 1,0 -10.8,0zM687.3,770.8a5.4,5.4 0 1,0 10.8,0a5.4,5.4 0 1,0 -10.8,0zM667.3,835.9a5.4,5.4 0 1,0 10.8,0a5.4,5.4 0 1,0 -10.8,0zM656.7,762.6a5.4,5.4 0 1,0 10.8,0a5.4,5.4 0 1,0 -10.8,0zM637.6,760.2a5.4,5.4 0 1,0 10.8,0a5.4,5.4 0 1,0 -10.8,0zM628.5,781.7a5.4,5.4 0 1,0 10.8,0a5.4,5.4 0 1,0 -10.8,0zM691.9,782.9a5.4,5.4 0 1,0 10.8,0a5.4,5.4 0 1,0 -10.8,0zM684.8,775.2a5.4,5.4 0 1,0 10.8,0a5.4,5.4 0 1,0 -10.8,0zM681.5,823.5a5.4,5.4 0 1,0 10.8,0a5.4,5.4 0 1,0 -10.8,0zM631.4,774.9a5.4,5.4 0 1,0 10.8,0a5.4,5.4 0 1,0 -10.8,0zM619.1,775.3a5.4,5.4 0 1,0 10.8,0a5.4,5.4 0 1,0 -10.8,0zM645.7,831.9a5.4,5.4 0 1,0 10.8,0a5.4,5.4 0 1,0 -10.8,0zM617.8,738.8a5.4,5.4 0 1,0 10.8,0a5.4,5.4 0 1,0 -10.8,0zM646.6,779.2a5.4,5.4 0 1,0 10.8,0a5.4,5.4 0 1,0 -10.8,0zM615.9,775.8a5.4,5.4 0 1,0 10.8,0a5.4,5.4 0 1,0 -10.8,0zM647.6,790.6a5.4,5.4 0 1,0 10.8,0a5.4,5.4 0 1,0 -10.8,0zM625.8,755.8a5.4,5.4 0 1,0 10.8,0a5.4,5.4 0 1,0 -10.8,0zM611.2,784.7a5.4,5.4 0 1,0 10.8,0a5.4,5.4 0 1,0 -10.8,0zM643.9,750.6a5.4,5.4 0 1,0 10.8,0a5.4,5.4 0 1,0 -10.8,0zM576.7,744.9a5.4,5.4 0 1,0 10.8,0a5.4,5.4 0 1,0 -10.8,0zM672.6,778.6a5.4,5.4 0 1,0 10.8,0a5.4,5.4 0 1,0 -10.8,0zM640.5,789.4a5.4,5.4 0 1,0 10.8,0a5.4,5.4 0 1,0 -10.8,0zM657.7,808a5.4,5.4 0 1,0 10.8,0a5.4,5.4 0 1,0 -10.8,0zM677.8,761.9a5.4,5.4 0 1,0 10.8,0a5.4,5.4 0 1,0 -10.8,0zM656,752.7a5.4,5.4 0 1,0 10.8,0a5.4,5.4 0 1,0 -10.8,0zM652.2,759.2a5.4,5.4 0 1,0 10.8,0a5.4,5.4 0 1,0 -10.8,0zM628.4,753.7a5.4,5.4 0 1,0 10.8,0a5.4,5.4 0 1,0 -10.8,0zM594.1,747.6a5.4,5.4 0 1,0 10.8,0a5.4,5.4 0 1,0 -10.8,0zM677.2,779.9a5.4,5.4 0 1,0 10.8,0a5.4,5.4 0 1,0 -10.8,0zM664,767.4a5.4,5.4 0 1,0 10.8,0a5.4,5.4 0 1,0 -10.8,0zM676.1,796.9a5.4,5.4 0 1,0 10.8,0a5.4,5.4 0 1,0 -10.8,0zM655.9,772.7a5.4,5.4 0 1,0 10.8,0a5.4,5.4 0 1,0 -10.8,0zM643.7,748.7a5.4,5.4 0 1,0 10.8,0a5.4,5.4 0 1,0 -10.8,0zM639.9,802a5.4,5.4 0 1,0 10.8,0a5.4,5.4 0 1,0 -10.8,0zM582.8,765.8a5.4,5.4 0 1,0 10.8,0a5.4,5.4 0 1,0 -10.8,0zM684.2,819.1a5.4,5.4 0 1,0 10.8,0a5.4,5.4 0 1,0 -10.8,0zM664.5,761.9a5.4,5.4 0 1,0 10.8,0a5.4,5.4 0 1,0 -10.8,0zM645.2,823a5.4,5.4 0 1,0 10.8,0a5.4,5.4 0 1,0 -10.8,0zM641.6,772.2a5.4,5.4 0 1,0 10.8,0a5.4,5.4 0 1,0 -10.8,0zM671.2,763.5a5.4,5.4 0 1,0 10.8,0a5.4,5.4 0 1,0 -10.8,0zM642.2,815.9a5.4,5.4 0 1,0 10.8,0a5.4,5.4 0 1,0 -10.8,0zM634.2,730.4a5.4,5.4 0 1,0 10.8,0a5.4,5.4 0 1,0 -10.8,0zM631.9,726.1a5.4,5.4 0 1,0 10.8,0a5.4,5.4 0 1,0 -10.8,0zM670.5,801.7a5.4,5.4 0 1,0 10.8,0a5.4,5.4 0 1,0 -10.8,0zM628.1,813.2a5.4,5.4 0 1,0 10.8,0a5.4,5.4 0 1,0 -10.8,0zM657.9,750.5a5.4,5.4 0 1,0 10.8,0a5.4,5.4 0 1,0 -10.8,0zM640.2,797.1a5.4,5.4 0 1,0 10.8,0a5.4,5.4 0 1,0 -10.8,0zM665.8,749.5a5.4,5.4 0 1,0 10.8,0a5.4,5.4 0 1,0 -10.8,0zM610.6,766.8a5.4,5.4 0 1,0 10.8,0a5.4,5.4 0 1,0 -10.8,0zM582.2,767.5a5.4,5.4 0 1,0 10.8,0a5.4,5.4 0 1,0 -10.8,0zM665.9,794.7a5.4,5.4 0 1,0 10.8,0a5.4,5.4 0 1,0 -10.8,0zM589.1,737.5a5.4,5.4 0 1,0 10.8,0a5.4,5.4 0 1,0 -10.8,0zM602.8,787.3a5.4,5.4 0 1,0 10.8,0a5.4,5.4 0 1,0 -10.8,0zM668.6,808.8a5.4,5.4 0 1,0 10.8,0a5.4,5.4 0 1,0 -10.8,0zM643.7,756.3a5.4,5.4 0 1,0 10.8,0a5.4,5.4 0 1,0 -10.8,0zM612,749.6a5.4,5.4 0 1,0 10.8,0a5.4,5.4 0 1,0 -10.8,0zM597.6,739.9a5.4,5.4 0 1,0 10.8,0a5.4,5.4 0 1,0 -10.8,0zM618.1,740.2a5.4,5.4 0 1,0 10.8,0a5.4,5.4 0 1,0 -10.8,0zM593.3,755.8a5.4,5.4 0 1,0 10.8,0a5.4,5.4 0 1,0 -10.8,0zM645.9,779.1a5.4,5.4 0 1,0 10.8,0a5.4,5.4 0 1,0 -10.8,0zM609.8,788.6a5.4,5.4 0 1,0 10.8,0a5.4,5.4 0 1,0 -10.8,0zM671.8,812.2a5.4,5.4 0 1,0 10.8,0a5.4,5.4 0 1,0 -10.8,0zM674,792.9a5.4,5.4 0 1,0 10.8,0a5.4,5.4 0 1,0 -10.8,0zM632.4,765.2a5.4,5.4 0 1,0 10.8,0a5.4,5.4 0 1,0 -10.8,0zM649.9,737.7a5.4,5.4 0 1,0 10.8,0a5.4,5.4 0 1,0 -10.8,0zM601,789.7a5.4,5.4 0 1,0 10.8,0a5.4,5.4 0 1,0 -10.8,0zM679.7,767.7a5.4,5.4 0 1,0 10.8,0a5.4,5.4 0 1,0 -10.8,0zM635.4,805.2a5.4,5.4 0 1,0 10.8,0a5.4,5.4 0 1,0 -10.8,0zM585.1,743.7a5.4,5.4 0 1,0 10.8,0a5.4,5.4 0 1,0 -10.8,0zM639.3,746.8a5.4,5.4 0 1,0 10.8,0a5.4,5.4 0 1,0 -10.8,0zM651.8,828.5a5.4,5.4 0 1,0 10.8,0a5.4,5.4 0 1,0 -10.8,0zM586.3,751.9a5.4,5.4 0 1,0 10.8,0a5.4,5.4 0 1,0 -10.8,0zM670.6,782a5.4,5.4 0 1,0 10.8,0a5.4,5.4 0 1,0 -10.8,0zM692.6,766.2a5.4,5.4 0 1,0 10.8,0a5.4,5.4 0 1,0 -10.8,0zM671.8,815.2a5.4,5.4 0 1,0 10.8,0a5.4,5.4 0 1,0 -10.8,0zM648.9,737.9a5.4,5.4 0 1,0 10.8,0a5.4,5.4 0 1,0 -10.8,0zM673,812.1a5.4,5.4 0 1,0 10.8,0a5.4,5.4 0 1,0 -10.8,0zM623.8,815.3a5.4,5.4 0 1,0 10.8,0a5.4,5.4 0 1,0 -10.8,0zM631.8,822.7a5.4,5.4 0 1,0 10.8,0a5.4,5.4 0 1,0 -10.8,0zM609.3,790.9a5.4,5.4 0 1,0 10.8,0a5.4,5.4 0 1,0 -10.8,0zM659,776.6a5.4,5.4 0 1,0 10.8,0a5.4,5.4 0 1,0 -10.8,0zM662.5,812.6a5.4,5.4 0 1,0 10.8,0a5.4,5.4 0 1,0 -10.8,0zM649.6,727.9a5.4,5.4 0 1,0 10.8,0a5.4,5.4 0 1,0 -10.8,0zM691.5,778.2a5.4,5.4 0 1,0 10.8,0a5.4,5.4 0 1,0 -10.8,0zM648.1,823a5.4,5.4 0 1,0 10.8,0a5.4,5.4 0 1,0 -10.8,0zM575,742.3a5.4,5.4 0 1,0 10.8,0a5.4,5.4 0 1,0 -10.8,0zM597.3,743.4a5.4,5.4 0 1,0 10.8,0a5.4,5.4 0 1,0 -10.8,0zM688.1,805.1a5.4,5.4 0 1,0 10.8,0a5.4,5.4 0 1,0 -10.8,0zM646.5,741.6a5.4,5.4 0 1,0 10.8,0a5.4,5.4 0 1,0 -10.8,0zM680.6,813.1a5.4,5.4 0 1,0 10.8,0a5.4,5.4 0 1,0 -10.8,0zM634.7,784.5a5.4,5.4 0 1,0 10.8,0a5.4,5.4 0 1,0 -10.8,0zM685.2,776a5.4,5.4 0 1,0 10.8,0a5.4,5.4 0 1,0 -10.8,0zM604.7,754.5a5.4,5.4 0 1,0 10.8,0a5.4,5.4 0 1,0 -10.8,0zM630.3,803.1a5.4,5.4 0 1,0 10.8,0a5.4,5.4 0 1,0 -10.8,0zM644.8,831.9a5.4,5.4 0 1,0 10.8,0a5.4,5.4 0 1,0 -10.8,0zM637.1,787a5.4,5.4 0 1,0 10.8,0a5.4,5.4 0 1,0 -10.8,0zM610.9,740.8a5.4,5.4 0 1,0 10.8,0a5.4,5.4 0 1,0 -10.8,0zM624.8,730.1a5.4,5.4 0 1,0 10.8,0a5.4,5.4 0 1,0 -10.8,0zM691.1,783.6a5.4,5.4 0 1,0 10.8,0a5.4,5.4 0 1,0 -10.8,0zM685.6,809a5.4,5.4 0 1,0 10.8,0a5.4,5.4 0 1,0 -10.8,0zM665.9,816.3a5.4,5.4 0 1,0 10.8,0a5.4,5.4 0 1,0 -10.8,0zM648.2,818.3a5.4,5.4 0 1,0 10.8,0a5.4,5.4 0 1,0 -10.8,0zM591.7,766.9a5.4,5.4 0 1,0 10.8,0a5.4,5.4 0 1,0 -10.8,0zM678.4,821.7a5.4,5.4 0 1,0 10.8,0a5.4,5.4 0 1,0 -10.8,0zM597.3,738.7a5.4,5.4 0 1,0 10.8,0a5.4,5.4 0 1,0 -10.8,0zM665.1,814.7a5.4,5.4 0 1,0 10.8,0a5.4,5.4 0 1,0 -10.8,0zM655.1,818.8a5.4,5.4 0 1,0 10.8,0a5.4,5.4 0 1,0 -10.8,0zM637.7,792.9a5.4,5.4 0 1,0 10.8,0a5.4,5.4 0 1,0 -10.8,0zM656.2,796.1a5.4,5.4 0 1,0 10.8,0a5.4,5.4 0 1,0 -10.8,0zM634.8,816.1a5.4,5.4 0 1,0 10.8,0a5.4,5.4 0 1,0 -10.8,0zM645.2,741.3a5.4,5.4 0 1,0 10.8,0a5.4,5.4 0 1,0 -10.8,0zM625.8,776.1a5.4,5.4 0 1,0 10.8,0a5.4,5.4 0 1,0 -10.8,0zM626.6,792.8a5.4,5.4 0 1,0 10.8,0a5.4,5.4 0 1,0 -10.8,0zM617.3,772.5a5.4,5.4 0 1,0 10.8,0a5.4,5.4 0 1,0 -10.8,0zM625.9,770.2a5.4,5.4 0 1,0 10.8,0a5.4,5.4 0 1,0 -10.8,0zM621.7,779.4a5.4,5.4 0 1,0 10.8,0a5.4,5.4 0 1,0 -10.8,0zM647.7,769.7a5.4,5.4 0 1,0 10.8,0a5.4,5.4 0 1,0 -10.8,0zM684.9,837.7a5.4,5.4 0 1,0 10.8,0a5.4,5.4 0 1,0 -10.8,0zM607.3,781.4a5.4,5.4 0 1,0 10.8,0a5.4,5.4 0 1,0 -10.8,0zM612.3,732.9a5.4,5.4 0 1,0 10.8,0a5.4,5.4 0 1,0 -10.8,0zM601.4,756.3a5.4,5.4 0 1,0 10.8,0a5.4,5.4 0 1,0 -10.8,0zM661.7,820.8a5.4,5.4 0 1,0 10.8,0a5.4,5.4 0 1,0 -10.8,0zM631.6,772.1a5.4,5.4 0 1,0 10.8,0a5.4,5.4 0 1,0 -10.8,0zM683.6,828.1a5.4,5.4 0 1,0 10.8,0a5.4,5.4 0 1,0 -10.8,0zM630.2,743.3a5.4,5.4 0 1,0 10.8,0a5.4,5.4 0 1,0 -10.8,0zM657.4,782.3a5.4,5.4 0 1,0 10.8,0a5.4,5.4 0 1,0 -10.8,0zM651,737.9a5.4,5.4 0 1,0 10.8,0a5.4,5.4 0 1,0 -10.8,0zM647.3,776.1a5.4,5.4 0 1,0 10.8,0a5.4,5.4 0 1,0 -10.8,0zM599.8,766.8a5.4,5.4 0 1,0 10.8,0a5.4,5.4 0 1,0 -10.8,0zM645.2,764.6a5.4,5.4 0 1,0 10.8,0a5.4,5.4 0 1,0 -10.8,0zM627.6,822.8a5.4,5.4 0 1,0 10.8,0a5.4,5.4 0 1,0 -10.8,0zM695.2,765a5.4,5.4 0 1,0 10.8,0a5.4,5.4 0 1,0 -10.8,0zM649.6,739.2a5.4,5.4 0 1,0 10.8,0a5.4,5.4 0 1,0 -10.8,0zM623.8,800.2a5.4,5.4 0 1,0 10.8,0a5.4,5.4 0 1,0 -10.8,0zM653.8,766.8a5.4,5.4 0 1,0 10.8,0a5.4,5.4 0 1,0 -10.8,0zM574.1,740.8a5.4,5.4 0 1,0 10.8,0a5.4,5.4 0 1,0 -10.8,0zM643.6,746.4a5.4,5.4 0 1,0 10.8,0a5.4,5.4 0 1,0 -10.8,0zM688.5,787.3a5.4,5.4 0 1,0 10.8,0a5.4,5.4 0 1,0 -10.8,0zM590.2,757.2a5.4,5.4 0 1,0 10.8,0a5.4,5.4 0 1,0 -10.8,0zM591.4,748.9a5.4,5.4 0 1,0 10.8,0a5.4,5.4 0 1,0 -10.8,0zM587,751.4a5.4,5.4 0 1,0 10.8,0a5.4,5.4 0 1,0 -10.8,0zM613.4,773a5.4,5.4 0 1,0 10.8,0a5.4,5.4 0 1,0 -10.8,0zM669.9,774.1a5.4,5.4 0 1,0 10.8,0a5.4,5.4 0 1,0 -10.8,0zM632.3,773.2a5.4,5.4 0 1,0 10.8,0a5.4,5.4 0 1,0 -10.8,0zM671.8,833.5a5.4,5.4 0 1,0 10.8,0a5.4,5.4 0 1,0 -10.8,0zM638.9,807.2a5.4,5.4 0 1,0 10.8,0a5.4,5.4 0 1,0 -10.8,0zM619.9,758.3a5.4,5.4 0 1,0 10.8,0a5.4,5.4 0 1,0 -10.8,0zM630.4,788.7a5.4,5.4 0 1,0 10.8,0a5.4,5.4 0 1,0 -10.8,0zM596.9,747.1a5.4,5.4 0 1,0 10.8,0a5.4,5.4 0 1,0 -10.8,0zM641.3,726.3a5.4,5.4 0 1,0 10.8,0a5.4,5.4 0 1,0 -10.8,0zM663.4,777.5a5.4,5.4 0 1,0 10.8,0a5.4,5.4 0 1,0 -10.8,0zM578.7,756.9a5.4,5.4 0 1,0 10.8,0a5.4,5.4 0 1,0 -10.8,0zM642.2,764.9a5.4,5.4 0 1,0 10.8,0a5.4,5.4 0 1,0 -10.8,0zM602.4,760.7a5.4,5.4 0 1,0 10.8,0a5.4,5.4 0 1,0 -10.8,0zM606.6,767.2a5.4,5.4 0 1,0 10.8,0a5.4,5.4 0 1,0 -10.8,0zM674,819.8a5.4,5.4 0 1,0 10.8,0a5.4,5.4 0 1,0 -10.8,0zM661.7,831.3a5.4,5.4 0 1,0 10.8,0a5.4,5.4 0 1,0 -10.8,0zM655.9,739.5a5.4,5.4 0 1,0 10.8,0a5.4,5.4 0 1,0 -10.8,0zM575.5,745.6a5.4,5.4 0 1,0 10.8,0a5.4,5.4 0 1,0 -10.8,0zM603.6,788.9a5.4,5.4 0 1,0 10.8,0a5.4,5.4 0 1,0 -10.8,0zM678.1,795.7a5.4,5.4 0 1,0 10.8,0a5.4,5.4 0 1,0 -10.8,0zM626.3,754.8a5.4,5.4 0 1,0 10.8,0a5.4,5.4 0 1,0 -10.8,0zM614.6,731.5a5.4,5.4 0 1,0 10.8,0a5.4,5.4 0 1,0 -10.8,0zM655.8,768.4a5.4,5.4 0 1,0 10.8,0a5.4,5.4 0 1,0 -10.8,0zM686.9,761.4a5.4,5.4 0 1,0 10.8,0a5.4,5.4 0 1,0 -10.8,0zM582.9,749.7a5.4,5.4 0 1,0 10.8,0a5.4,5.4 0 1,0 -10.8,0zM675.9,842.5a5.4,5.4 0 1,0 10.8,0a5.4,5.4 0 1,0 -10.8,0zM654.5,807.1a5.4,5.4 0 1,0 10.8,0a5.4,5.4 0 1,0 -10.8,0zM606.8,758.4a5.4,5.4 0 1,0 10.8,0a5.4,5.4 0 1,0 -10.8,0zM615.8,748.2a5.4,5.4 0 1,0 10.8,0a5.4,5.4 0 1,0 -10.8,0zM602.3,745.6a5.4,5.4 0 1,0 10.8,0a5.4,5.4 0 1,0 -10.8,0zM652.7,804.2a5.4,5.4 0 1,0 10.8,0a5.4,5.4 0 1,0 -10.8,0zM637,747.4a5.4,5.4 0 1,0 10.8,0a5.4,5.4 0 1,0 -10.8,0zM592.6,754.8a5.4,5.4 0 1,0 10.8,0a5.4,5.4 0 1,0 -10.8,0zM637.4,782.7a5.4,5.4 0 1,0 10.8,0a5.4,5.4 0 1,0 -10.8,0zM642.7,812.5a5.4,5.4 0 1,0 10.8,0a5.4,5.4 0 1,0 -10.8,0zM687.6,781.7a5.4,5.4 0 1,0 10.8,0a5.4,5.4 0 1,0 -10.8,0zM660.5,738.9a5.4,5.4 0 1,0 10.8,0a5.4,5.4 0 1,0 -10.8,0zM660.2,820.5a5.4,5.4 0 1,0 10.8,0a5.4,5.4 0 1,0 -10.8,0zM623.5,744.5a5.4,5.4 0 1,0 10.8,0a5.4,5.4 0 1,0 -10.8,0zM656.6,764a5.4,5.4 0 1,0 10.8,0a5.4,5.4 0 1,0 -10.8,0zM587.2,745.6a5.4,5.4 0 1,0 10.8,0a5.4,5.4 0 1,0 -10.8,0zM622.7,741.1a5.4,5.4 0 1,0 10.8,0a5.4,5.4 0 1,0 -10.8,0zM620.4,791.6a5.4,5.4 0 1,0 10.8,0a5.4,5.4 0 1,0 -10.8,0zM642.5,774a5.4,5.4 0 1,0 10.8,0a5.4,5.4 0 1,0 -10.8,0zM683.7,835.6a5.4,5.4 0 1,0 10.8,0a5.4,5.4 0 1,0 -10.8,0zM670.6,789.8a5.4,5.4 0 1,0 10.8,0a5.4,5.4 0 1,0 -10.8,0zM673.5,794.1a5.4,5.4 0 1,0 10.8,0a5.4,5.4 0 1,0 -10.8,0zM585.1,756.4a5.4,5.4 0 1,0 10.8,0a5.4,5.4 0 1,0 -10.8,0zM612.1,774.5a5.4,5.4 0 1,0 10.8,0a5.4,5.4 0 1,0 -10.8,0zM640.6,738a5.4,5.4 0 1,0 10.8,0a5.4,5.4 0 1,0 -10.8,0zM662.7,820.7a5.4,5.4 0 1,0 10.8,0a5.4,5.4 0 1,0 -10.8,0zM674.7,830.8a5.4,5.4 0 1,0 10.8,0a5.4,5.4 0 1,0 -10.8,0zM611.5,743.3a5.4,5.4 0 1,0 10.8,0a5.4,5.4 0 1,0 -10.8,0zM670.1,808.5a5.4,5.4 0 1,0 10.8,0a5.4,5.4 0 1,0 -10.8,0zM618.6,766.9a5.4,5.4 0 1,0 10.8,0a5.4,5.4 0 1,0 -10.8,0zM630.4,822.6a5.4,5.4 0 1,0 10.8,0a5.4,5.4 0 1,0 -10.8,0zM614.4,764.2a5.4,5.4 0 1,0 10.8,0a5.4,5.4 0 1,0 -10.8,0zM637.3,814.7a5.4,5.4 0 1,0 10.8,0a5.4,5.4 0 1,0 -10.8,0zM686.1,768a5.4,5.4 0 1,0 10.8,0a5.4,5.4 0 1,0 -10.8,0zM661.1,774a5.4,5.4 0 1,0 10.8,0a5.4,5.4 0 1,0 -10.8,0zM683.3,816.5a5.4,5.4 0 1,0 10.8,0a5.4,5.4 0 1,0 -10.8,0zM642.9,769.1a5.4,5.4 0 1,0 10.8,0a5.4,5.4 0 1,0 -10.8,0zM675.3,762.3a5.4,5.4 0 1,0 10.8,0a5.4,5.4 0 1,0 -10.8,0zM580.8,749.2a5.4,5.4 0 1,0 10.8,0a5.4,5.4 0 1,0 -10.8,0zM676.5,788.9a5.4,5.4 0 1,0 10.8,0a5.4,5.4 0 1,0 -10.8,0zM642.7,790.2a5.4,5.4 0 1,0 10.8,0a5.4,5.4 0 1,0 -10.8,0zM623.7,792.3a5.4,5.4 0 1,0 10.8,0a5.4,5.4 0 1,0 -10.8,0zM583.2,742.5a5.4,5.4 0 1,0 10.8,0a5.4,5.4 0 1,0 -10.8,0zM658.4,802.3a5.4,5.4 0 1,0 10.8,0a5.4,5.4 0 1,0 -10.8,0zM676.1,808.4a5.4,5.4 0 1,0 10.8,0a5.4,5.4 0 1,0 -10.8,0zM571,754.2a5.4,5.4 0 1,0 10.8,0a5.4,5.4 0 1,0 -10.8,0zM639.7,817.7a5.4,5.4 0 1,0 10.8,0a5.4,5.4 0 1,0 -10.8,0zM688.5,814.9a5.4,5.4 0 1,0 10.8,0a5.4,5.4 0 1,0 -10.8,0zM622.1,783a5.4,5.4 0 1,0 10.8,0a5.4,5.4 0 1,0 -10.8,0zM672.9,807a5.4,5.4 0 1,0 10.8,0a5.4,5.4 0 1,0 -10.8,0zM633.8,821a5.4,5.4 0 1,0 10.8,0a5.4,5.4 0 1,0 -10.8,0zM660,779.6a5.4,5.4 0 1,0 10.8,0a5.4,5.4 0 1,0 -10.8,0zM643.9,821.8a5.4,5.4 0 1,0 10.8,0a5.4,5.4 0 1,0 -10.8,0zM663.8,784.2a5.4,5.4 0 1,0 10.8,0a5.4,5.4 0 1,0 -10.8,0zM678.3,770.4a5.4,5.4 0 1,0 10.8,0a5.4,5.4 0 1,0 -10.8,0zM575.6,740.7a5.4,5.4 0 1,0 10.8,0a5.4,5.4 0 1,0 -10.8,0zM612.1,757.1a5.4,5.4 0 1,0 10.8,0a5.4,5.4 0 1,0 -10.8,0zM628.7,735.3a5.4,5.4 0 1,0 10.8,0a5.4,5.4 0 1,0 -10.8,0zM643.3,778.9a5.4,5.4 0 1,0 10.8,0a5.4,5.4 0 1,0 -10.8,0zM585.9,767.1a5.4,5.4 0 1,0 10.8,0a5.4,5.4 0 1,0 -10.8,0zM639.3,761.8a5.4,5.4 0 1,0 10.8,0a5.4,5.4 0 1,0 -10.8,0zM658.5,792.8a5.4,5.4 0 1,0 10.8,0a5.4,5.4 0 1,0 -10.8,0zM648.4,761.7a5.4,5.4 0 1,0 10.8,0a5.4,5.4 0 1,0 -10.8,0zM666.6,808a5.4,5.4 0 1,0 10.8,0a5.4,5.4 0 1,0 -10.8,0zM663.9,782.1a5.4,5.4 0 1,0 10.8,0a5.4,5.4 0 1,0 -10.8,0zM630.8,760a5.4,5.4 0 1,0 10.8,0a5.4,5.4 0 1,0 -10.8,0zM650.9,748.1a5.4,5.4 0 1,0 10.8,0a5.4,5.4 0 1,0 -10.8,0zM683.1,830.6a5.4,5.4 0 1,0 10.8,0a5.4,5.4 0 1,0 -10.8,0zM682.3,823.1a5.4,5.4 0 1,0 10.8,0a5.4,5.4 0 1,0 -10.8,0zM634,746.9a5.4,5.4 0 1,0 10.8,0a5.4,5.4 0 1,0 -10.8,0zM615.7,797.1a5.4,5.4 0 1,0 10.8,0a5.4,5.4 0 1,0 -10.8,0zM613,762.3a5.4,5.4 0 1,0 10.8,0a5.4,5.4 0 1,0 -10.8,0zM647.4,824.2a5.4,5.4 0 1,0 10.8,0a5.4,5.4 0 1,0 -10.8,0zM666.3,843.1a5.4,5.4 0 1,0 10.8,0a5.4,5.4 0 1,0 -10.8,0zM643.6,768.9a5.4,5.4 0 1,0 10.8,0a5.4,5.4 0 1,0 -10.8,0zM618.1,795.2a5.4,5.4 0 1,0 10.8,0a5.4,5.4 0 1,0 -10.8,0zM655.7,737.3a5.4,5.4 0 1,0 10.8,0a5.4,5.4 0 1,0 -10.8,0zM661.5,767.5a5.4,5.4 0 1,0 10.8,0a5.4,5.4 0 1,0 -10.8,0zM630.1,820.6a5.4,5.4 0 1,0 10.8,0a5.4,5.4 0 1,0 -10.8,0zM639.9,758.7a5.4,5.4 0 1,0 10.8,0a5.4,5.4 0 1,0 -10.8,0zM666,805.7a5.4,5.4 0 1,0 10.8,0a5.4,5.4 0 1,0 -10.8,0zM680.8,774.7a5.4,5.4 0 1,0 10.8,0a5.4,5.4 0 1,0 -10.8,0zM643.4,827a5.4,5.4 0 1,0 10.8,0a5.4,5.4 0 1,0 -10.8,0zM645.5,743.4a5.4,5.4 0 1,0 10.8,0a5.4,5.4 0 1,0 -10.8,0zM691.3,778.3a5.4,5.4 0 1,0 10.8,0a5.4,5.4 0 1,0 -10.8,0zM647.6,777.1a5.4,5.4 0 1,0 10.8,0a5.4,5.4 0 1,0 -10.8,0zM683.3,830.9a5.4,5.4 0 1,0 10.8,0a5.4,5.4 0 1,0 -10.8,0zM669.1,797.3a5.4,5.4 0 1,0 10.8,0a5.4,5.4 0 1,0 -10.8,0zM626.5,754.2a5.4,5.4 0 1,0 10.8,0a5.4,5.4 0 1,0 -10.8,0zM597.2,734.9a5.4,5.4 0 1,0 10.8,0a5.4,5.4 0 1,0 -10.8,0zM611.3,782.5a5.4,5.4 0 1,0 10.8,0a5.4,5.4 0 1,0 -10.8,0zM662,764.6a5.4,5.4 0 1,0 10.8,0a5.4,5.4 0 1,0 -10.8,0zM658,770.1a5.4,5.4 0 1,0 10.8,0a5.4,5.4 0 1,0 -10.8,0zM669.7,782.2a5.4,5.4 0 1,0 10.8,0a5.4,5.4 0 1,0 -10.8,0zM632,807.6a5.4,5.4 0 1,0 10.8,0a5.4,5.4 0 1,0 -10.8,0zM650,776.4a5.4,5.4 0 1,0 10.8,0a5.4,5.4 0 1,0 -10.8,0zM642.2,832.7a5.4,5.4 0 1,0 10.8,0a5.4,5.4 0 1,0 -10.8,0zM613,752.5a5.4,5.4 0 1,0 10.8,0a5.4,5.4 0 1,0 -10.8,0zM652.8,813.9a5.4,5.4 0 1,0 10.8,0a5.4,5.4 0 1,0 -10.8,0zM693.5,778a5.4,5.4 0 1,0 10.8,0a5.4,5.4 0 1,0 -10.8,0zM655.7,829.1a5.4,5.4 0 1,0 10.8,0a5.4,5.4 0 1,0 -10.8,0zM596.4,767.1a5.4,5.4 0 1,0 10.8,0a5.4,5.4 0 1,0 -10.8,0zM610,782.7a5.4,5.4 0 1,0 10.8,0a5.4,5.4 0 1,0 -10.8,0zM667.9,801a5.4,5.4 0 1,0 10.8,0a5.4,5.4 0 1,0 -10.8,0zM653.1,750.1a5.4,5.4 0 1,0 10.8,0a5.4,5.4 0 1,0 -10.8,0zM682.6,775.2a5.4,5.4 0 1,0 10.8,0a5.4,5.4 0 1,0 -10.8,0zM696.3,768.6a5.4,5.4 0 1,0 10.8,0a5.4,5.4 0 1,0 -10.8,0zM651.4,790.5a5.4,5.4 0 1,0 10.8,0a5.4,5.4 0 1,0 -10.8,0zM570.1,755.7a5.4,5.4 0 1,0 10.8,0a5.4,5.4 0 1,0 -10.8,0zM635.7,730.3a5.4,5.4 0 1,0 10.8,0a5.4,5.4 0 1,0 -10.8,0zM672.4,772.5a5.4,5.4 0 1,0 10.8,0a5.4,5.4 0 1,0 -10.8,0zM638.8,776.1a5.4,5.4 0 1,0 10.8,0a5.4,5.4 0 1,0 -10.8,0zM666.7,809.3a5.4,5.4 0 1,0 10.8,0a5.4,5.4 0 1,0 -10.8,0zM679.3,806.1a5.4,5.4 0 1,0 10.8,0a5.4,5.4 0 1,0 -10.8,0zM652.8,763.2a5.4,5.4 0 1,0 10.8,0a5.4,5.4 0 1,0 -10.8,0zM639.8,728.4a5.4,5.4 0 1,0 10.8,0a5.4,5.4 0 1,0 -10.8,0zM614.5,767.5a5.4,5.4 0 1,0 10.8,0a5.4,5.4 0 1,0 -10.8,0zM688.8,823a5.4,5.4 0 1,0 10.8,0a5.4,5.4 0 1,0 -10.8,0zM676.4,819.9a5.4,5.4 0 1,0 10.8,0a5.4,5.4 0 1,0 -10.8,0zM680.8,824.7a5.4,5.4 0 1,0 10.8,0a5.4,5.4 0 1,0 -10.8,0zM637.7,753.9a5.4,5.4 0 1,0 10.8,0a5.4,5.4 0 1,0 -10.8,0zM671.4,821.4a5.4,5.4 0 1,0 10.8,0a5.4,5.4 0 1,0 -10.8,0zM671.8,836.3a5.4,5.4 0 1,0 10.8,0a5.4,5.4 0 1,0 -10.8,0zM668.7,752.9a5.4,5.4 0 1,0 10.8,0a5.4,5.4 0 1,0 -10.8,0zM612.4,766.6a5.4,5.4 0 1,0 10.8,0a5.4,5.4 0 1,0 -10.8,0zM627,741.2a5.4,5.4 0 1,0 10.8,0a5.4,5.4 0 1,0 -10.8,0zM662.2,787.9a5.4,5.4 0 1,0 10.8,0a5.4,5.4 0 1,0 -10.8,0zM670.9,766.1a5.4,5.4 0 1,0 10.8,0a5.4,5.4 0 1,0 -10.8,0zM624.2,814.6a5.4,5.4 0 1,0 10.8,0a5.4,5.4 0 1,0 -10.8,0zM662.3,831.6a5.4,5.4 0 1,0 10.8,0a5.4,5.4 0 1,0 -10.8,0zM666.9,794.2a5.4,5.4 0 1,0 10.8,0a5.4,5.4 0 1,0 -10.8,0zM623.5,793.5a5.4,5.4 0 1,0 10.8,0a5.4,5.4 0 1,0 -10.8,0zM610.7,740.7a5.4,5.4 0 1,0 10.8,0a5.4,5.4 0 1,0 -10.8,0zM666.1,799.3a5.4,5.4 0 1,0 10.8,0a5.4,5.4 0 1,0 -10.8,0zM678.6,799.7a5.4,5.4 0 1,0 10.8,0a5.4,5.4 0 1,0 -10.8,0zM621.7,758a5.4,5.4 0 1,0 10.8,0a5.4,5.4 0 1,0 -10.8,0zM653,837a5.4,5.4 0 1,0 10.8,0a5.4,5.4 0 1,0 -10.8,0zM592.3,757.4a5.4,5.4 0 1,0 10.8,0a5.4,5.4 0 1,0 -10.8,0zM636.8,733a5.4,5.4 0 1,0 10.8,0a5.4,5.4 0 1,0 -10.8,0zM609.5,790.3a5.4,5.4 0 1,0 10.8,0a5.4,5.4 0 1,0 -10.8,0zM645.8,801.9a5.4,5.4 0 1,0 10.8,0a5.4,5.4 0 1,0 -10.8,0zM646.8,819.5a5.4,5.4 0 1,0 10.8,0a5.4,5.4 0 1,0 -10.8,0zM586.3,739.3a5.4,5.4 0 1,0 10.8,0a5.4,5.4 0 1,0 -10.8,0zM634.8,726.7a5.4,5.4 0 1,0 10.8,0a5.4,5.4 0 1,0 -10.8,0zM603.8,771.5a5.4,5.4 0 1,0 10.8,0a5.4,5.4 0 1,0 -10.8,0zM603.9,755a5.4,5.4 0 1,0 10.8,0a5.4,5.4 0 1,0 -10.8,0zM612.4,775.3a5.4,5.4 0 1,0 10.8,0a5.4,5.4 0 1,0 -10.8,0zM617.1,764.6a5.4,5.4 0 1,0 10.8,0a5.4,5.4 0 1,0 -10.8,0zM667,784.7a5.4,5.4 0 1,0 10.8,0a5.4,5.4 0 1,0 -10.8,0zM570,753.8a5.4,5.4 0 1,0 10.8,0a5.4,5.4 0 1,0 -10.8,0zM688.5,780.4a5.4,5.4 0 1,0 10.8,0a5.4,5.4 0 1,0 -10.8,0zM635.7,792.8a5.4,5.4 0 1,0 10.8,0a5.4,5.4 0 1,0 -10.8,0zM585.1,764a5.4,5.4 0 1,0 10.8,0a5.4,5.4 0 1,0 -10.8,0zM651.2,806.1a5.4,5.4 0 1,0 10.8,0a5.4,5.4 0 1,0 -10.8,0zM652.5,799.8a5.4,5.4 0 1,0 10.8,0a5.4,5.4 0 1,0 -10.8,0zM619.5,734.2a5.4,5.4 0 1,0 10.8,0a5.4,5.4 0 1,0 -10.8,0zM683.7,833.7a5.4,5.4 0 1,0 10.8,0a5.4,5.4 0 1,0 -10.8,0zM592.3,767.2a5.4,5.4 0 1,0 10.8,0a5.4,5.4 0 1,0 -10.8,0zM677.7,825.1a5.4,5.4 0 1,0 10.8,0a5.4,5.4 0 1,0 -10.8,0zM658.5,753.8a5.4,5.4 0 1,0 10.8,0a5.4,5.4 0 1,0 -10.8,0zM620,737.9a5.4,5.4 0 1,0 10.8,0a5.4,5.4 0 1,0 -10.8,0zM587.5,759.1a5.4,5.4 0 1,0 10.8,0a5.4,5.4 0 1,0 -10.8,0zM654.1,801.8a5.4,5.4 0 1,0 10.8,0a5.4,5.4 0 1,0 -10.8,0zM638.8,827.6a5.4,5.4 0 1,0 10.8,0a5.4,5.4 0 1,0 -10.8,0zM668.9,751a5.4,5.4 0 1,0 10.8,0a5.4,5.4 0 1,0 -10.8,0zM640.2,746.2a5.4,5.4 0 1,0 10.8,0a5.4,5.4 0 1,0 -10.8,0zM601.5,743.5a5.4,5.4 0 1,0 10.8,0a5.4,5.4 0 1,0 -10.8,0zM686.6,804.1a5.4,5.4 0 1,0 10.8,0a5.4,5.4 0 1,0 -10.8,0zM581.2,752.1a5.4,5.4 0 1,0 10.8,0a5.4,5.4 0 1,0 -10.8,0zM647.7,789a5.4,5.4 0 1,0 10.8,0a5.4,5.4 0 1,0 -10.8,0zM644.3,797.5a5.4,5.4 0 1,0 10.8,0a5.4,5.4 0 1,0 -10.8,0zM639.5,766.5a5.4,5.4 0 1,0 10.8,0a5.4,5.4 0 1,0 -10.8,0zM694.5,773.1a5.4,5.4 0 1,0 10.8,0a5.4,5.4 0 1,0 -10.8,0zM625.4,790.3a5.4,5.4 0 1,0 10.8,0a5.4,5.4 0 1,0 -10.8,0zM680.4,843.5a5.4,5.4 0 1,0 10.8,0a5.4,5.4 0 1,0 -10.8,0zM671.2,790.1a5.4,5.4 0 1,0 10.8,0a5.4,5.4 0 1,0 -10.8,0zM664.2,801.9a5.4,5.4 0 1,0 10.8,0a5.4,5.4 0 1,0 -10.8,0zM644.6,778.3a5.4,5.4 0 1,0 10.8,0a5.4,5.4 0 1,0 -10.8,0zM634.2,776.8a5.4,5.4 0 1,0 10.8,0a5.4,5.4 0 1,0 -10.8,0zM662.9,812.3a5.4,5.4 0 1,0 10.8,0a5.4,5.4 0 1,0 -10.8,0zM700.2,844.9a5.4,5.4 0 1,0 10.8,0a5.4,5.4 0 1,0 -10.8,0zM675.2,757.4a5.4,5.4 0 1,0 10.8,0a5.4,5.4 0 1,0 -10.8,0zM657.9,785a5.4,5.4 0 1,0 10.8,0a5.4,5.4 0 1,0 -10.8,0zM693.7,779.2a5.4,5.4 0 1,0 10.8,0a5.4,5.4 0 1,0 -10.8,0zM631.6,789.4a5.4,5.4 0 1,0 10.8,0a5.4,5.4 0 1,0 -10.8,0zM610.3,738.5a5.4,5.4 0 1,0 10.8,0a5.4,5.4 0 1,0 -10.8,0zM633.5,734.4a5.4,5.4 0 1,0 10.8,0a5.4,5.4 0 1,0 -10.8,0zM615.5,785.5a5.4,5.4 0 1,0 10.8,0a5.4,5.4 0 1,0 -10.8,0zM639.6,772.2a5.4,5.4 0 1,0 10.8,0a5.4,5.4 0 1,0 -10.8,0zM606.7,767.9a5.4,5.4 0 1,0 10.8,0a5.4,5.4 0 1,0 -10.8,0zM634.7,820.7a5.4,5.4 0 1,0 10.8,0a5.4,5.4 0 1,0 -10.8,0zM570.3,741.8a5.4,5.4 0 1,0 10.8,0a5.4,5.4 0 1,0 -10.8,0zM596.8,769.9a5.4,5.4 0 1,0 10.8,0a5.4,5.4 0 1,0 -10.8,0zM622.3,771.9a5.4,5.4 0 1,0 10.8,0a5.4,5.4 0 1,0 -10.8,0zM697.1,778.3a5.4,5.4 0 1,0 10.8,0a5.4,5.4 0 1,0 -10.8,0zM654.3,796.8a5.4,5.4 0 1,0 10.8,0a5.4,5.4 0 1,0 -10.8,0zM678.9,765.8a5.4,5.4 0 1,0 10.8,0a5.4,5.4 0 1,0 -10.8,0zM640.1,795.3a5.4,5.4 0 1,0 10.8,0a5.4,5.4 0 1,0 -10.8,0zM618.9,802.5a5.4,5.4 0 1,0 10.8,0a5.4,5.4 0 1,0 -10.8,0zM618.3,758.8a5.4,5.4 0 1,0 10.8,0a5.4,5.4 0 1,0 -10.8,0zM605.3,783.9a5.4,5.4 0 1,0 10.8,0a5.4,5.4 0 1,0 -10.8,0zM672.9,810.8a5.4,5.4 0 1,0 10.8,0a5.4,5.4 0 1,0 -10.8,0zM687,768.5a5.4,5.4 0 1,0 10.8,0a5.4,5.4 0 1,0 -10.8,0zM677.1,782.1a5.4,5.4 0 1,0 10.8,0a5.4,5.4 0 1,0 -10.8,0zM687.2,782.9a5.4,5.4 0 1,0 10.8,0a5.4,5.4 0 1,0 -10.8,0zM603.6,743.9a5.4,5.4 0 1,0 10.8,0a5.4,5.4 0 1,0 -10.8,0zM635.1,731.9a5.4,5.4 0 1,0 10.8,0a5.4,5.4 0 1,0 -10.8,0zM645.3,828.7a5.4,5.4 0 1,0 10.8,0a5.4,5.4 0 1,0 -10.8,0zM631.4,738.8a5.4,5.4 0 1,0 10.8,0a5.4,5.4 0 1,0 -10.8,0zM665.1,786.6a5.4,5.4 0 1,0 10.8,0a5.4,5.4 0 1,0 -10.8,0zM650,828.4a5.4,5.4 0 1,0 10.8,0a5.4,5.4 0 1,0 -10.8,0zM591.3,754.6a5.4,5.4 0 1,0 10.8,0a5.4,5.4 0 1,0 -10.8,0zM646.5,780.8a5.4,5.4 0 1,0 10.8,0a5.4,5.4 0 1,0 -10.8,0zM631.6,742.8a5.4,5.4 0 1,0 10.8,0a5.4,5.4 0 1,0 -10.8,0zM664.4,790a5.4,5.4 0 1,0 10.8,0a5.4,5.4 0 1,0 -10.8,0zM620.9,779.5a5.4,5.4 0 1,0 10.8,0a5.4,5.4 0 1,0 -10.8,0zM686.9,779.6a5.4,5.4 0 1,0 10.8,0a5.4,5.4 0 1,0 -10.8,0zM637.9,819.5a5.4,5.4 0 1,0 10.8,0a5.4,5.4 0 1,0 -10.8,0zM594.1,759.3a5.4,5.4 0 1,0 10.8,0a5.4,5.4 0 1,0 -10.8,0zM686.5,856.9a5.4,5.4 0 1,0 10.8,0a5.4,5.4 0 1,0 -10.8,0zM691.9,849.3a5.4,5.4 0 1,0 10.8,0a5.4,5.4 0 1,0 -10.8,0zM681.6,912.4a5.4,5.4 0 1,0 10.8,0a5.4,5.4 0 1,0 -10.8,0zM678,885.9a5.4,5.4 0 1,0 10.8,0a5.4,5.4 0 1,0 -10.8,0zM661.3,858.3a5.4,5.4 0 1,0 10.8,0a5.4,5.4 0 1,0 -10.8,0zM687.8,966a5.4,5.4 0 1,0 10.8,0a5.4,5.4 0 1,0 -10.8,0zM687.1,952.2a5.4,5.4 0 1,0 10.8,0a5.4,5.4 0 1,0 -10.8,0zM655.6,846.2a5.4,5.4 0 1,0 10.8,0a5.4,5.4 0 1,0 -10.8,0zM686.3,845.7a5.4,5.4 0 1,0 10.8,0a5.4,5.4 0 1,0 -10.8,0zM686.2,921.7a5.4,5.4 0 1,0 10.8,0a5.4,5.4 0 1,0 -10.8,0zM688.6,854.9a5.4,5.4 0 1,0 10.8,0a5.4,5.4 0 1,0 -10.8,0zM684.9,874.8a5.4,5.4 0 1,0 10.8,0a5.4,5.4 0 1,0 -10.8,0zM684.1,951.9a5.4,5.4 0 1,0 10.8,0a5.4,5.4 0 1,0 -10.8,0zM674,899.3a5.4,5.4 0 1,0 10.8,0a5.4,5.4 0 1,0 -10.8,0zM687.9,867.6a5.4,5.4 0 1,0 10.8,0a5.4,5.4 0 1,0 -10.8,0zM685,885.1a5.4,5.4 0 1,0 10.8,0a5.4,5.4 0 1,0 -10.8,0zM687.4,881.1a5.4,5.4 0 1,0 10.8,0a5.4,5.4 0 1,0 -10.8,0zM682.4,872.9a5.4,5.4 0 1,0 10.8,0a5.4,5.4 0 1,0 -10.8,0zM673.3,876.7a5.4,5.4 0 1,0 10.8,0a5.4,5.4 0 1,0 -10.8,0zM685.1,857.9a5.4,5.4 0 1,0 10.8,0a5.4,5.4 0 1,0 -10.8,0zM666.2,877.1a5.4,5.4 0 1,0 10.8,0a5.4,5.4 0 1,0 -10.8,0zM679.2,909.7a5.4,5.4 0 1,0 10.8,0a5.4,5.4 0 1,0 -10.8,0zM681.2,904.4a5.4,5.4 0 1,0 10.8,0a5.4,5.4 0 1,0 -10.8,0zM659.6,848.8a5.4,5.4 0 1,0 10.8,0a5.4,5.4 0 1,0 -10.8,0zM691.1,919.6a5.4,5.4 0 1,0 10.8,0a5.4,5.4 0 1,0 -10.8,0zM688.6,907.5a5.4,5.4 0 1,0 10.8,0a5.4,5.4 0 1,0 -10.8,0zM688.2,945.8a5.4,5.4 0 1,0 10.8,0a5.4,5.4 0 1,0 -10.8,0zM691.3,845.9a5.4,5.4 0 1,0 10.8,0a5.4,5.4 0 1,0 -10.8,0zM700.1,858.1a5.4,5.4 0 1,0 10.8,0a5.4,5.4 0 1,0 -10.8,0zM684.7,867.7a5.4,5.4 0 1,0 10.8,0a5.4,5.4 0 1,0 -10.8,0zM672.1,863.6a5.4,5.4 0 1,0 10.8,0a5.4,5.4 0 1,0 -10.8,0zM678.9,850.8a5.4,5.4 0 1,0 10.8,0a5.4,5.4 0 1,0 -10.8,0zM688.8,925.8a5.4,5.4 0 1,0 10.8,0a5.4,5.4 0 1,0 -10.8,0zM680.4,855.2a5.4,5.4 0 1,0 10.8,0a5.4,5.4 0 1,0 -10.8,0zM691.2,866.6a5.4,5.4 0 1,0 10.8,0a5.4,5.4 0 1,0 -10.8,0zM688.9,853.3a5.4,5.4 0 1,0 10.8,0a5.4,5.4 0 1,0 -10.8,0zM670.8,855.7a5.4,5.4 0 1,0 10.8,0a5.4,5.4 0 1,0 -10.8,0zM695,851a5.4,5.4 0 1,0 10.8,0a5.4,5.4 0 1,0 -10.8,0zM691.2,922.6a5.4,5.4 0 1,0 10.8,0a5.4,5.4 0 1,0 -10.8,0zM679.9,928a5.4,5.4 0 1,0 10.8,0a5.4,5.4 0 1,0 -10.8,0zM681.9,867.9a5.4,5.4 0 1,0 10.8,0a5.4,5.4 0 1,0 -10.8,0zM690.8,861.1a5.4,5.4 0 1,0 10.8,0a5.4,5.4 0 1,0 -10.8,0zM684.3,908.9a5.4,5.4 0 1,0 10.8,0a5.4,5.4 0 1,0 -10.8,0zM688.5,920.6a5.4,5.4 0 1,0 10.8,0a5.4,5.4 0 1,0 -10.8,0zM673.7,854.6a5.4,5.4 0 1,0 10.8,0a5.4,5.4 0 1,0 -10.8,0zM680.2,913.1a5.4,5.4 0 1,0 10.8,0a5.4,5.4 0 1,0 -10.8,0zM700.3,853.7a5.4,5.4 0 1,0 10.8,0a5.4,5.4 0 1,0 -10.8,0zM682.5,907.1a5.4,5.4 0 1,0 10.8,0a5.4,5.4 0 1,0 -10.8,0zM668.4,872.9a5.4,5.4 0 1,0 10.8,0a5.4,5.4 0 1,0 -10.8,0zM681.5,858a5.4,5.4 0 1,0 10.8,0a5.4,5.4 0 1,0 -10.8,0zM673.5,854.3a5.4,5.4 0 1,0 10.8,0a5.4,5.4 0 1,0 -10.8,0zM699,853.6a5.4,5.4 0 1,0 10.8,0a5.4,5.4 0 1,0 -10.8,0zM675.1,898.1a5.4,5.4 0 1,0 10.8,0a5.4,5.4 0 1,0 -10.8,0zM686.3,910.8a5.4,5.4 0 1,0 10.8,0a5.4,5.4 0 1,0 -10.8,0zM671.9,846.1a5.4,5.4 0 1,0 10.8,0a5.4,5.4 0 1,0 -10.8,0zM688.7,854.3a5.4,5.4 0 1,0 10.8,0a5.4,5.4 0 1,0 -10.8,0zM673.8,904.1a5.4,5.4 0 1,0 10.8,0a5.4,5.4 0 1,0 -10.8,0zM687.7,852.7a5.4,5.4 0 1,0 10.8,0a5.4,5.4 0 1,0 -10.8,0zM683.9,937.3a5.4,5.4 0 1,0 10.8,0a5.4,5.4 0 1,0 -10.8,0zM691.9,913.4a5.4,5.4 0 1,0 10.8,0a5.4,5.4 0 1,0 -10.8,0zM687.4,928.6a5.4,5.4 0 1,0 10.8,0a5.4,5.4 0 1,0 -10.8,0zM673.5,893.5a5.4,5.4 0 1,0 10.8,0a5.4,5.4 0 1,0 -10.8,0zM687.5,900a5.4,5.4 0 1,0 10.8,0a5.4,5.4 0 1,0 -10.8,0zM679.7,862.6a5.4,5.4 0 1,0 10.8,0a5.4,5.4 0 1,0 -10.8,0zM677.4,897.3a5.4,5.4 0 1,0 10.8,0a5.4,5.4 0 1,0 -10.8,0zM675.7,910.1a5.4,5.4 0 1,0 10.8,0a5.4,5.4 0 1,0 -10.8,0zM664.9,861.6a5.4,5.4 0 1,0 10.8,0a5.4,5.4 0 1,0 -10.8,0zM683.3,888.9a5.4,5.4 0 1,0 10.8,0a5.4,5.4 0 1,0 -10.8,0zM692.1,849.9a5.4,5.4 0 1,0 10.8,0a5.4,5.4 0 1,0 -10.8,0zM677.3,884.7a5.4,5.4 0 1,0 10.8,0a5.4,5.4 0 1,0 -10.8,0zM682.5,880.1a5.4,5.4 0 1,0 10.8,0a5.4,5.4 0 1,0 -10.8,0zM678.5,914.6a5.4,5.4 0 1,0 10.8,0a5.4,5.4 0 1,0 -10.8,0zM677.1,855.7a5.4,5.4 0 1,0 10.8,0a5.4,5.4 0 1,0 -10.8,0zM660.9,863.3a5.4,5.4 0 1,0 10.8,0a5.4,5.4 0 1,0 -10.8,0zM664.5,867.9a5.4,5.4 0 1,0 10.8,0a5.4,5.4 0 1,0 -10.8,0zM667.7,867.9a5.4,5.4 0 1,0 10.8,0a5.4,5.4 0 1,0 -10.8,0zM684.8,876.4a5.4,5.4 0 1,0 10.8,0a5.4,5.4 0 1,0 -10.8,0zM688.8,900.1a5.4,5.4 0 1,0 10.8,0a5.4,5.4 0 1,0 -10.8,0zM687.9,856a5.4,5.4 0 1,0 10.8,0a5.4,5.4 0 1,0 -10.8,0zM674.2,891.5a5.4,5.4 0 1,0 10.8,0a5.4,5.4 0 1,0 -10.8,0zM681.4,876.5a5.4,5.4 0 1,0 10.8,0a5.4,5.4 0 1,0 -10.8,0zM665.9,861.1a5.4,5.4 0 1,0 10.8,0a5.4,5.4 0 1,0 -10.8,0zM690.4,908.6a5.4,5.4 0 1,0 10.8,0a5.4,5.4 0 1,0 -10.8,0zM698.1,848.1a5.4,5.4 0 1,0 10.8,0a5.4,5.4 0 1,0 -10.8,0zM686.9,899.5a5.4,5.4 0 1,0 10.8,0a5.4,5.4 0 1,0 -10.8,0zM676.9,863.2a5.4,5.4 0 1,0 10.8,0a5.4,5.4 0 1,0 -10.8,0zM683.2,879.3a5.4,5.4 0 1,0 10.8,0a5.4,5.4 0 1,0 -10.8,0zM684.6,954.5a5.4,5.4 0 1,0 10.8,0a5.4,5.4 0 1,0 -10.8,0zM683.6,885.7a5.4,5.4 0 1,0 10.8,0a5.4,5.4 0 1,0 -10.8,0zM665.5,868.2a5.4,5.4 0 1,0 10.8,0a5.4,5.4 0 1,0 -10.8,0zM683.7,897.5a5.4,5.4 0 1,0 10.8,0a5.4,5.4 0 1,0 -10.8,0zM681,850.4a5.4,5.4 0 1,0 10.8,0a5.4,5.4 0 1,0 -10.8,0zM672.9,880.5a5.4,5.4 0 1,0 10.8,0a5.4,5.4 0 1,0 -10.8,0zM686.1,914a5.4,5.4 0 1,0 10.8,0a5.4,5.4 0 1,0 -10.8,0zM665.4,849.1a5.4,5.4 0 1,0 10.8,0a5.4,5.4 0 1,0 -10.8,0zM692.8,865.3a5.4,5.4 0 1,0 10.8,0a5.4,5.4 0 1,0 -10.8,0zM684.1,847.1a5.4,5.4 0 1,0 10.8,0a5.4,5.4 0 1,0 -10.8,0zM688.6,921.6a5.4,5.4 0 1,0 10.8,0a5.4,5.4 0 1,0 -10.8,0zM681.9,846.6a5.4,5.4 0 1,0 10.8,0a5.4,5.4 0 1,0 -10.8,0zM699.1,850.2a5.4,5.4 0 1,0 10.8,0a5.4,5.4 0 1,0 -10.8,0zM688.7,912.4a5.4,5.4 0 1,0 10.8,0a5.4,5.4 0 1,0 -10.8,0zM700,849a5.4,5.4 0 1,0 10.8,0a5.4,5.4 0 1,0 -10.8,0zM666.6,861.7a5.4,5.4 0 1,0 10.8,0a5.4,5.4 0 1,0 -10.8,0zM681.1,912.4a5.4,5.4 0 1,0 10.8,0a5.4,5.4 0 1,0 -10.8,0zM678.8,896.4a5.4,5.4 0 1,0 10.8,0a5.4,5.4 0 1,0 -10.8,0zM690.5,858.9a5.4,5.4 0 1,0 10.8,0a5.4,5.4 0 1,0 -10.8,0zM673.2,857.2a5.4,5.4 0 1,0 10.8,0a5.4,5.4 0 1,0 -10.8,0zM675.2,897.4a5.4,5.4 0 1,0 10.8,0a5.4,5.4 0 1,0 -10.8,0zM533.9,747.7a5.4,5.4 0 1,0 10.8,0a5.4,5.4 0 1,0 -10.8,0zM540.2,750.8a5.4,5.4 0 1,0 10.8,0a5.4,5.4 0 1,0 -10.8,0zM546.4,753.9a5.4,5.4 0 1,0 10.8,0a5.4,5.4 0 1,0 -10.8,0zM553.2,755.2a5.4,5.4 0 1,0 10.8,0a5.4,5.4 0 1,0 -10.8,0zM560.2,755.9a5.4,5.4 0 1,0 10.8,0a5.4,5.4 0 1,0 -10.8,0zM567.2,756.6a5.4,5.4 0 1,0 10.8,0a5.4,5.4 0 1,0 -10.8,0zM574.1,757.2a5.4,5.4 0 1,0 10.8,0a5.4,5.4 0 1,0 -10.8,0zM580.1,760.4a5.4,5.4 0 1,0 10.8,0a5.4,5.4 0 1,0 -10.8,0zM580.5,767a5.4,5.4 0 1,0 10.8,0a5.4,5.4 0 1,0 -10.8,0zM580.1,771.6a5.4,5.4 0 1,0 10.8,0a5.4,5.4 0 1,0 -10.8,0zM587.1,771.6a5.4,5.4 0 1,0 10.8,0a5.4,5.4 0 1,0 -10.8,0zM594.1,771.6a5.4,5.4 0 1,0 10.8,0a5.4,5.4 0 1,0 -10.8,0zM601,772.1a5.4,5.4 0 1,0 10.8,0a5.4,5.4 0 1,0 -10.8,0zM605.2,777.3a5.4,5.4 0 1,0 10.8,0a5.4,5.4 0 1,0 -10.8,0zM602.9,783.6a5.4,5.4 0 1,0 10.8,0a5.4,5.4 0 1,0 -10.8,0zM598.7,789.1a5.4,5.4 0 1,0 10.8,0a5.4,5.4 0 1,0 -10.8,0zM602.8,793.6a5.4,5.4 0 1,0 10.8,0a5.4,5.4 0 1,0 -10.8,0zM609.2,796.4a5.4,5.4 0 1,0 10.8,0a5.4,5.4 0 1,0 -10.8,0zM615.2,799.7a5.4,5.4 0 1,0 10.8,0a5.4,5.4 0 1,0 -10.8,0zM618.2,806.1a5.4,5.4 0 1,0 10.8,0a5.4,5.4 0 1,0 -10.8,0zM620.9,812.5a5.4,5.4 0 1,0 10.8,0a5.4,5.4 0 1,0 -10.8,0zM623.8,818.9a5.4,5.4 0 1,0 10.8,0a5.4,5.4 0 1,0 -10.8,0zM627.4,824.9a5.4,5.4 0 1,0 10.8,0a5.4,5.4 0 1,0 -10.8,0zM631.5,830.5a5.4,5.4 0 1,0 10.8,0a5.4,5.4 0 1,0 -10.8,0zM636.1,835.8a5.4,5.4 0 1,0 10.8,0a5.4,5.4 0 1,0 -10.8,0zM641.9,834a5.4,5.4 0 1,0 10.8,0a5.4,5.4 0 1,0 -10.8,0zM648.6,833.6a5.4,5.4 0 1,0 10.8,0a5.4,5.4 0 1,0 -10.8,0zM652.6,839.1a5.4,5.4 0 1,0 10.8,0a5.4,5.4 0 1,0 -10.8,0zM655.3,845.6a5.4,5.4 0 1,0 10.8,0a5.4,5.4 0 1,0 -10.8,0zM657.8,852.1a5.4,5.4 0 1,0 10.8,0a5.4,5.4 0 1,0 -10.8,0zM659.3,859a5.4,5.4 0 1,0 10.8,0a5.4,5.4 0 1,0 -10.8,0zM661.1,865.7a5.4,5.4 0 1,0 10.8,0a5.4,5.4 0 1,0 -10.8,0zM663,872.5a5.4,5.4 0 1,0 10.8,0a5.4,5.4 0 1,0 -10.8,0zM666.6,878.4a5.4,5.4 0 1,0 10.8,0a5.4,5.4 0 1,0 -10.8,0zM670.8,884a5.4,5.4 0 1,0 10.8,0a5.4,5.4 0 1,0 -10.8,0zM672.2,890.6a5.4,5.4 0 1,0 10.8,0a5.4,5.4 0 1,0 -10.8,0zM670.8,897.4a5.4,5.4 0 1,0 10.8,0a5.4,5.4 0 1,0 -10.8,0zM671,904.1a5.4,5.4 0 1,0 10.8,0a5.4,5.4 0 1,0 -10.8,0zM673.9,910.5a5.4,5.4 0 1,0 10.8,0a5.4,5.4 0 1,0 -10.8,0zM676.6,916.9a5.4,5.4 0 1,0 10.8,0a5.4,5.4 0 1,0 -10.8,0zM677.9,923.8a5.4,5.4 0 1,0 10.8,0a5.4,5.4 0 1,0 -10.8,0zM679.2,930.7a5.4,5.4 0 1,0 10.8,0a5.4,5.4 0 1,0 -10.8,0zM680.6,937.6a5.4,5.4 0 1,0 10.8,0a5.4,5.4 0 1,0 -10.8,0zM682.1,944.4a5.4,5.4 0 1,0 10.8,0a5.4,5.4 0 1,0 -10.8,0zM683.6,951.3a5.4,5.4 0 1,0 10.8,0a5.4,5.4 0 1,0 -10.8,0zM685.1,958.1a5.4,5.4 0 1,0 10.8,0a5.4,5.4 0 1,0 -10.8,0zM686.8,964.9a5.4,5.4 0 1,0 10.8,0a5.4,5.4 0 1,0 -10.8,0zM688.2,968.1a5.4,5.4 0 1,0 10.8,0a5.4,5.4 0 1,0 -10.8,0zM689.2,961.2a5.4,5.4 0 1,0 10.8,0a5.4,5.4 0 1,0 -10.8,0zM690.3,954.3a5.4,5.4 0 1,0 10.8,0a5.4,5.4 0 1,0 -10.8,0zM688.9,947.4a5.4,5.4 0 1,0 10.8,0a5.4,5.4 0 1,0 -10.8,0zM687.4,940.6a5.4,5.4 0 1,0 10.8,0a5.4,5.4 0 1,0 -10.8,0zM686.2,933.7a5.4,5.4 0 1,0 10.8,0a5.4,5.4 0 1,0 -10.8,0zM688.8,927.3a5.4,5.4 0 1,0 10.8,0a5.4,5.4 0 1,0 -10.8,0zM692.2,921.1a5.4,5.4 0 1,0 10.8,0a5.4,5.4 0 1,0 -10.8,0zM693.4,914.8a5.4,5.4 0 1,0 10.8,0a5.4,5.4 0 1,0 -10.8,0zM691.4,908a5.4,5.4 0 1,0 10.8,0a5.4,5.4 0 1,0 -10.8,0zM689.4,901.3a5.4,5.4 0 1,0 10.8,0a5.4,5.4 0 1,0 -10.8,0zM687.6,894.6a5.4,5.4 0 1,0 10.8,0a5.4,5.4 0 1,0 -10.8,0zM688.5,887.6a5.4,5.4 0 1,0 10.8,0a5.4,5.4 0 1,0 -10.8,0zM689.7,880.7a5.4,5.4 0 1,0 10.8,0a5.4,5.4 0 1,0 -10.8,0zM691.1,873.9a5.4,5.4 0 1,0 10.8,0a5.4,5.4 0 1,0 -10.8,0zM695.6,868.5a5.4,5.4 0 1,0 10.8,0a5.4,5.4 0 1,0 -10.8,0zM700.2,863.3a5.4,5.4 0 1,0 10.8,0a5.4,5.4 0 1,0 -10.8,0zM704.1,857.5a5.4,5.4 0 1,0 10.8,0a5.4,5.4 0 1,0 -10.8,0zM705.3,851.4a5.4,5.4 0 1,0 10.8,0a5.4,5.4 0 1,0 -10.8,0zM701.8,845.3a5.4,5.4 0 1,0 10.8,0a5.4,5.4 0 1,0 -10.8,0zM696,841.9a5.4,5.4 0 1,0 10.8,0a5.4,5.4 0 1,0 -10.8,0zM689.5,839.3a5.4,5.4 0 1,0 10.8,0a5.4,5.4 0 1,0 -10.8,0zM684.3,834.9a5.4,5.4 0 1,0 10.8,0a5.4,5.4 0 1,0 -10.8,0zM685.3,828.3a5.4,5.4 0 1,0 10.8,0a5.4,5.4 0 1,0 -10.8,0zM689.3,822.5a5.4,5.4 0 1,0 10.8,0a5.4,5.4 0 1,0 -10.8,0zM692.5,816.3a5.4,5.4 0 1,0 10.8,0a5.4,5.4 0 1,0 -10.8,0zM694.4,810.1a5.4,5.4 0 1,0 10.8,0a5.4,5.4 0 1,0 -10.8,0zM691,804a5.4,5.4 0 1,0 10.8,0a5.4,5.4 0 1,0 -10.8,0zM688.8,797.4a5.4,5.4 0 1,0 10.8,0a5.4,5.4 0 1,0 -10.8,0zM691.6,791a5.4,5.4 0 1,0 10.8,0a5.4,5.4 0 1,0 -10.8,0zM694.7,784.8a5.4,5.4 0 1,0 10.8,0a5.4,5.4 0 1,0 -10.8,0zM697.3,778.3a5.4,5.4 0 1,0 10.8,0a5.4,5.4 0 1,0 -10.8,0zM699.3,771.6a5.4,5.4 0 1,0 10.8,0a5.4,5.4 0 1,0 -10.8,0zM698.2,764.9a5.4,5.4 0 1,0 10.8,0a5.4,5.4 0 1,0 -10.8,0zM693.5,760.6a5.4,5.4 0 1,0 10.8,0a5.4,5.4 0 1,0 -10.8,0zM687,758a5.4,5.4 0 1,0 10.8,0a5.4,5.4 0 1,0 -10.8,0zM680.4,755.8a5.4,5.4 0 1,0 10.8,0a5.4,5.4 0 1,0 -10.8,0zM673.7,753.7a5.4,5.4 0 1,0 10.8,0a5.4,5.4 0 1,0 -10.8,0zM668.3,749.6a5.4,5.4 0 1,0 10.8,0a5.4,5.4 0 1,0 -10.8,0zM664.4,743.8a5.4,5.4 0 1,0 10.8,0a5.4,5.4 0 1,0 -10.8,0zM660.6,737.9a5.4,5.4 0 1,0 10.8,0a5.4,5.4 0 1,0 -10.8,0zM661,731.3a5.4,5.4 0 1,0 10.8,0a5.4,5.4 0 1,0 -10.8,0zM665.9,726.2a5.4,5.4 0 1,0 10.8,0a5.4,5.4 0 1,0 -10.8,0zM670.9,721.4a5.4,5.4 0 1,0 10.8,0a5.4,5.4 0 1,0 -10.8,0zM677.6,719.6a5.4,5.4 0 1,0 10.8,0a5.4,5.4 0 1,0 -10.8,0zM684.5,718.2a5.4,5.4 0 1,0 10.8,0a5.4,5.4 0 1,0 -10.8,0zM691.4,716.8a5.4,5.4 0 1,0 10.8,0a5.4,5.4 0 1,0 -10.8,0zM698.2,715.3a5.4,5.4 0 1,0 10.8,0a5.4,5.4 0 1,0 -10.8,0zM705,713.7a5.4,5.4 0 1,0 10.8,0a5.4,5.4 0 1,0 -10.8,0zM702,710.7a5.4,5.4 0 1,0 10.8,0a5.4,5.4 0 1,0 -10.8,0zM695.7,707.6a5.4,5.4 0 1,0 10.8,0a5.4,5.4 0 1,0 -10.8,0zM689.8,704a5.4,5.4 0 1,0 10.8,0a5.4,5.4 0 1,0 -10.8,0zM684.4,699.4a5.4,5.4 0 1,0 10.8,0a5.4,5.4 0 1,0 -10.8,0zM679.1,694.9a5.4,5.4 0 1,0 10.8,0a5.4,5.4 0 1,0 -10.8,0zM672.2,694.7a5.4,5.4 0 1,0 10.8,0a5.4,5.4 0 1,0 -10.8,0zM665.2,694.7a5.4,5.4 0 1,0 10.8,0a5.4,5.4 0 1,0 -10.8,0zM660.8,699.4a5.4,5.4 0 1,0 10.8,0a5.4,5.4 0 1,0 -10.8,0zM657.1,705.4a5.4,5.4 0 1,0 10.8,0a5.4,5.4 0 1,0 -10.8,0zM652.5,710.5a5.4,5.4 0 1,0 10.8,0a5.4,5.4 0 1,0 -10.8,0zM646.6,714.2a5.4,5.4 0 1,0 10.8,0a5.4,5.4 0 1,0 -10.8,0zM640.6,717.8a5.4,5.4 0 1,0 10.8,0a5.4,5.4 0 1,0 -10.8,0zM633.9,719.8a5.4,5.4 0 1,0 10.8,0a5.4,5.4 0 1,0 -10.8,0zM627.2,721.8a5.4,5.4 0 1,0 10.8,0a5.4,5.4 0 1,0 -10.8,0zM621.5,725.8a5.4,5.4 0 1,0 10.8,0a5.4,5.4 0 1,0 -10.8,0zM615.7,729.8a5.4,5.4 0 1,0 10.8,0a5.4,5.4 0 1,0 -10.8,0zM609.4,732.5a5.4,5.4 0 1,0 10.8,0a5.4,5.4 0 1,0 -10.8,0zM602.5,733.8a5.4,5.4 0 1,0 10.8,0a5.4,5.4 0 1,0 -10.8,0zM595.6,735.2a5.4,5.4 0 1,0 10.8,0a5.4,5.4 0 1,0 -10.8,0zM588.8,736.5a5.4,5.4 0 1,0 10.8,0a5.4,5.4 0 1,0 -10.8,0zM581.9,737.8a5.4,5.4 0 1,0 10.8,0a5.4,5.4 0 1,0 -10.8,0zM575,739.1a5.4,5.4 0 1,0 10.8,0a5.4,5.4 0 1,0 -10.8,0zM568.1,740.4a5.4,5.4 0 1,0 10.8,0a5.4,5.4 0 1,0 -10.8,0zM561.3,741.8a5.4,5.4 0 1,0 10.8,0a5.4,5.4 0 1,0 -10.8,0zM554.4,743.1a5.4,5.4 0 1,0 10.8,0a5.4,5.4 0 1,0 -10.8,0zM547.5,744.5a5.4,5.4 0 1,0 10.8,0a5.4,5.4 0 1,0 -10.8,0zM540.7,746.1a5.4,5.4 0 1,0 10.8,0a5.4,5.4 0 1,0 -10.8,0zM564.7,764.2a5.4,5.4 0 1,0 10.8,0a5.4,5.4 0 1,0 -10.8,0zM577.5,774.6a5.4,5.4 0 1,0 10.8,0a5.4,5.4 0 1,0 -10.8,0zM710,718.3a5.4,5.4 0 1,0 10.8,0a5.4,5.4 0 1,0 -10.8,0zM574.2,768.8a5.4,5.4 0 1,0 10.8,0a5.4,5.4 0 1,0 -10.8,0zM555,734.9a5.4,5.4 0 1,0 10.8,0a5.4,5.4 0 1,0 -10.8,0zM699.2,757.8a5.4,5.4 0 1,0 10.8,0a5.4,5.4 0 1,0 -10.8,0zM700.2,784.8a5.4,5.4 0 1,0 10.8,0a5.4,5.4 0 1,0 -10.8,0zM532.9,753.2a5.4,5.4 0 1,0 10.8,0a5.4,5.4 0 1,0 -10.8,0zM576.4,761.6a5.4,5.4 0 1,0 10.8,0a5.4,5.4 0 1,0 -10.8,0zM552.4,736a5.4,5.4 0 1,0 10.8,0a5.4,5.4 0 1,0 -10.8,0zM669.1,685.2a5.4,5.4 0 1,0 10.8,0a5.4,5.4 0 1,0 -10.8,0zM545.1,743.4a5.4,5.4 0 1,0 10.8,0a5.4,5.4 0 1,0 -10.8,0zM554.1,737.3a5.4,5.4 0 1,0 10.8,0a5.4,5.4 0 1,0 -10.8,0zM684,698.5a5.4,5.4 0 1,0 10.8,0a5.4,5.4 0 1,0 -10.8,0zM548.3,733.9a5.4,5.4 0 1,0 10.8,0a5.4,5.4 0 1,0 -10.8,0zM669.1,686.7a5.4,5.4 0 1,0 10.8,0a5.4,5.4 0 1,0 -10.8,0zM661.7,738.6a5.4,5.4 0 1,0 10.8,0a5.4,5.4 0 1,0 -10.8,0zM694.4,806.1a5.4,5.4 0 1,0 10.8,0a5.4,5.4 0 1,0 -10.8,0zM573.7,776a5.4,5.4 0 1,0 10.8,0a5.4,5.4 0 1,0 -10.8,0zM645.2,702.7a5.4,5.4 0 1,0 10.8,0a5.4,5.4 0 1,0 -10.8,0zM700.3,787.4a5.4,5.4 0 1,0 10.8,0a5.4,5.4 0 1,0 -10.8,0zM694.8,695.7a5.4,5.4 0 1,0 10.8,0a5.4,5.4 0 1,0 -10.8,0zM685.9,725.2a5.4,5.4 0 1,0 10.8,0a5.4,5.4 0 1,0 -10.8,0zM620.9,719.8a5.4,5.4 0 1,0 10.8,0a5.4,5.4 0 1,0 -10.8,0zM712.1,718.1a5.4,5.4 0 1,0 10.8,0a5.4,5.4 0 1,0 -10.8,0zM708.3,774.4a5.4,5.4 0 1,0 10.8,0a5.4,5.4 0 1,0 -10.8,0zM655.1,702.3a5.4,5.4 0 1,0 10.8,0a5.4,5.4 0 1,0 -10.8,0zM660.9,736.8a5.4,5.4 0 1,0 10.8,0a5.4,5.4 0 1,0 -10.8,0zM568.1,762.9a5.4,5.4 0 1,0 10.8,0a5.4,5.4 0 1,0 -10.8,0zM696.1,705.4a5.4,5.4 0 1,0 10.8,0a5.4,5.4 0 1,0 -10.8,0zM582.9,774a5.4,5.4 0 1,0 10.8,0a5.4,5.4 0 1,0 -10.8,0zM694.8,798.4a5.4,5.4 0 1,0 10.8,0a5.4,5.4 0 1,0 -10.8,0zM688.4,701.8a5.4,5.4 0 1,0 10.8,0a5.4,5.4 0 1,0 -10.8,0zM702.2,704.9a5.4,5.4 0 1,0 10.8,0a5.4,5.4 0 1,0 -10.8,0zM570.7,762.5a5.4,5.4 0 1,0 10.8,0a5.4,5.4 0 1,0 -10.8,0zM544.9,738.8a5.4,5.4 0 1,0 10.8,0a5.4,5.4 0 1,0 -10.8,0zM682.5,697.5a5.4,5.4 0 1,0 10.8,0a5.4,5.4 0 1,0 -10.8,0zM669.5,691.8a5.4,5.4 0 1,0 10.8,0a5.4,5.4 0 1,0 -10.8,0zM614.7,719.2a5.4,5.4 0 1,0 10.8,0a5.4,5.4 0 1,0 -10.8,0zM575.4,769.7a5.4,5.4 0 1,0 10.8,0a5.4,5.4 0 1,0 -10.8,0zM623.4,828.5a5.4,5.4 0 1,0 10.8,0a5.4,5.4 0 1,0 -10.8,0zM593.9,800.2a5.4,5.4 0 1,0 10.8,0a5.4,5.4 0 1,0 -10.8,0zM703.2,710.5a5.4,5.4 0 1,0 10.8,0a5.4,5.4 0 1,0 -10.8,0zM644.8,843.2a5.4,5.4 0 1,0 10.8,0a5.4,5.4 0 1,0 -10.8,0zM612.2,804.9a5.4,5.4 0 1,0 10.8,0a5.4,5.4 0 1,0 -10.8,0zM697.2,836.1a5.4,5.4 0 1,0 10.8,0a5.4,5.4 0 1,0 -10.8,0zM560.2,740.5a5.4,5.4 0 1,0 10.8,0a5.4,5.4 0 1,0 -10.8,0zM555.6,763a5.4,5.4 0 1,0 10.8,0a5.4,5.4 0 1,0 -10.8,0zM601.8,725a5.4,5.4 0 1,0 10.8,0a5.4,5.4 0 1,0 -10.8,0zM578.6,727.8a5.4,5.4 0 1,0 10.8,0a5.4,5.4 0 1,0 -10.8,0zM714.3,708a5.4,5.4 0 1,0 10.8,0a5.4,5.4 0 1,0 -10.8,0zM712.3,710.5a5.4,5.4 0 1,0 10.8,0a5.4,5.4 0 1,0 -10.8,0zM564.3,735.8a5.4,5.4 0 1,0 10.8,0a5.4,5.4 0 1,0 -10.8,0zM616.7,811.5a5.4,5.4 0 1,0 10.8,0a5.4,5.4 0 1,0 -10.8,0zM647.1,835a5.4,5.4 0 1,0 10.8,0a5.4,5.4 0 1,0 -10.8,0zM603.3,794.9a5.4,5.4 0 1,0 10.8,0a5.4,5.4 0 1,0 -10.8,0zM691.9,696.8a5.4,5.4 0 1,0 10.8,0a5.4,5.4 0 1,0 -10.8,0zM621.2,816a5.4,5.4 0 1,0 10.8,0a5.4,5.4 0 1,0 -10.8,0zM630.9,842.2a5.4,5.4 0 1,0 10.8,0a5.4,5.4 0 1,0 -10.8,0zM629.5,843.4a5.4,5.4 0 1,0 10.8,0a5.4,5.4 0 1,0 -10.8,0zM595.4,777.7a5.4,5.4 0 1,0 10.8,0a5.4,5.4 0 1,0 -10.8,0zM538.4,753.8a5.4,5.4 0 1,0 10.8,0a5.4,5.4 0 1,0 -10.8,0zM595.9,802.2a5.4,5.4 0 1,0 10.8,0a5.4,5.4 0 1,0 -10.8,0zM555.2,742.4a5.4,5.4 0 1,0 10.8,0a5.4,5.4 0 1,0 -10.8,0zM666.4,687.5a5.4,5.4 0 1,0 10.8,0a5.4,5.4 0 1,0 -10.8,0zM693.6,699.2a5.4,5.4 0 1,0 10.8,0a5.4,5.4 0 1,0 -10.8,0zM708.3,841.5a5.4,5.4 0 1,0 10.8,0a5.4,5.4 0 1,0 -10.8,0zM706.4,758.3a5.4,5.4 0 1,0 10.8,0a5.4,5.4 0 1,0 -10.8,0zM697.9,832.8a5.4,5.4 0 1,0 10.8,0a5.4,5.4 0 1,0 -10.8,0zM568.7,777.7a5.4,5.4 0 1,0 10.8,0a5.4,5.4 0 1,0 -10.8,0zM709.7,842.7a5.4,5.4 0 1,0 10.8,0a5.4,5.4 0 1,0 -10.8,0zM616.5,810.5a5.4,5.4 0 1,0 10.8,0a5.4,5.4 0 1,0 -10.8,0zM702.6,787.5a5.4,5.4 0 1,0 10.8,0a5.4,5.4 0 1,0 -10.8,0zM546.5,760.2a5.4,5.4 0 1,0 10.8,0a5.4,5.4 0 1,0 -10.8,0zM547.3,756.2a5.4,5.4 0 1,0 10.8,0a5.4,5.4 0 1,0 -10.8,0zM646.4,837.6a5.4,5.4 0 1,0 10.8,0a5.4,5.4 0 1,0 -10.8,0zM709.3,838.5a5.4,5.4 0 1,0 10.8,0a5.4,5.4 0 1,0 -10.8,0zM623.1,711.9a5.4,5.4 0 1,0 10.8,0a5.4,5.4 0 1,0 -10.8,0zM558.6,763.2a5.4,5.4 0 1,0 10.8,0a5.4,5.4 0 1,0 -10.8,0zM679.8,692.4a5.4,5.4 0 1,0 10.8,0a5.4,5.4 0 1,0 -10.8,0zM738.1,712.7a5.4,5.4 0 1,0 10.8,0a5.4,5.4 0 1,0 -10.8,0zM705.6,716.5a5.4,5.4 0 1,0 10.8,0a5.4,5.4 0 1,0 -10.8,0zM706.3,722.8a5.4,5.4 0 1,0 10.8,0a5.4,5.4 0 1,0 -10.8,0zM713.2,718.1a5.4,5.4 0 1,0 10.8,0a5.4,5.4 0 1,0 -10.8,0zM711.8,774.2a5.4,5.4 0 1,0 10.8,0a5.4,5.4 0 1,0 -10.8,0zM722.9,780.3a5.4,5.4 0 1,0 10.8,0a5.4,5.4 0 1,0 -10.8,0zM780,687.5a5.4,5.4 0 1,0 10.8,0a5.4,5.4 0 1,0 -10.8,0zM738.3,700.9a5.4,5.4 0 1,0 10.8,0a5.4,5.4 0 1,0 -10.8,0zM714.6,691.8a5.4,5.4 0 1,0 10.8,0a5.4,5.4 0 1,0 -10.8,0zM718.4,719.3a5.4,5.4 0 1,0 10.8,0a5.4,5.4 0 1,0 -10.8,0zM733.9,747.7a5.4,5.4 0 1,0 10.8,0a5.4,5.4 0 1,0 -10.8,0zM733.5,733.6a5.4,5.4 0 1,0 10.8,0a5.4,5.4 0 1,0 -10.8,0zM721.4,786.7a5.4,5.4 0 1,0 10.8,0a5.4,5.4 0 1,0 -10.8,0zM759.3,728.2a5.4,5.4 0 1,0 10.8,0a5.4,5.4 0 1,0 -10.8,0zM733.7,721.1a5.4,5.4 0 1,0 10.8,0a5.4,5.4 0 1,0 -10.8,0zM728.6,759.3a5.4,5.4 0 1,0 10.8,0a5.4,5.4 0 1,0 -10.8,0zM742,724.2a5.4,5.4 0 1,0 10.8,0a5.4,5.4 0 1,0 -10.8,0zM696.1,699.4a5.4,5.4 0 1,0 10.8,0a5.4,5.4 0 1,0 -10.8,0zM741.7,714.1a5.4,5.4 0 1,0 10.8,0a5.4,5.4 0 1,0 -10.8,0zM774.3,690.4a5.4,5.4 0 1,0 10.8,0a5.4,5.4 0 1,0 -10.8,0zM723.3,818.1a5.4,5.4 0 1,0 10.8,0a5.4,5.4 0 1,0 -10.8,0zM725.4,770.9a5.4,5.4 0 1,0 10.8,0a5.4,5.4 0 1,0 -10.8,0zM727.8,758.9a5.4,5.4 0 1,0 10.8,0a5.4,5.4 0 1,0 -10.8,0zM718.9,722.9a5.4,5.4 0 1,0 10.8,0a5.4,5.4 0 1,0 -10.8,0zM729.9,777.8a5.4,5.4 0 1,0 10.8,0a5.4,5.4 0 1,0 -10.8,0zM729.3,765.7a5.4,5.4 0 1,0 10.8,0a5.4,5.4 0 1,0 -10.8,0zM687.9,973.1a5.4,5.4 0 1,0 10.8,0a5.4,5.4 0 1,0 -10.8,0zM702,684.5a5.4,5.4 0 1,0 10.8,0a5.4,5.4 0 1,0 -10.8,0zM712.6,696.5a5.4,5.4 0 1,0 10.8,0a5.4,5.4 0 1,0 -10.8,0zM726.1,704a5.4,5.4 0 1,0 10.8,0a5.4,5.4 0 1,0 -10.8,0zM741.1,693.5a5.4,5.4 0 1,0 10.8,0a5.4,5.4 0 1,0 -10.8,0zM753.1,710a5.4,5.4 0 1,0 10.8,0a5.4,5.4 0 1,0 -10.8,0zM756.1,687.5a5.4,5.4 0 1,0 10.8,0a5.4,5.4 0 1,0 -10.8,0zM769.6,683a5.4,5.4 0 1,0 10.8,0a5.4,5.4 0 1,0 -10.8,0zM718.6,722a5.4,5.4 0 1,0 10.8,0a5.4,5.4 0 1,0 -10.8,0zM732.1,723.6a5.4,5.4 0 1,0 10.8,0a5.4,5.4 0 1,0 -10.8,0zM741.1,724.4a5.4,5.4 0 1,0 10.8,0a5.4,5.4 0 1,0 -10.8,0zM694.6,736.4a5.4,5.4 0 1,0 10.8,0a5.4,5.4 0 1,0 -10.8,0zM682.4,740.2a5.4,5.4 0 1,0 10.8,0a5.4,5.4 0 1,0 -10.8,0zM712.6,738a5.4,5.4 0 1,0 10.8,0a5.4,5.4 0 1,0 -10.8,0zM714.8,748.5a5.4,5.4 0 1,0 10.8,0a5.4,5.4 0 1,0 -10.8,0zM729.1,736.4a5.4,5.4 0 1,0 10.8,0a5.4,5.4 0 1,0 -10.8,0zM699,758.3a5.4,5.4 0 1,0 10.8,0a5.4,5.4 0 1,0 -10.8,0zM733.6,765a5.4,5.4 0 1,0 10.8,0a5.4,5.4 0 1,0 -10.8,0zM723.1,783a5.4,5.4 0 1,0 10.8,0a5.4,5.4 0 1,0 -10.8,0zM705.6,787.6a5.4,5.4 0 1,0 10.8,0a5.4,5.4 0 1,0 -10.8,0zM713.3,797.4a5.4,5.4 0 1,0 10.8,0a5.4,5.4 0 1,0 -10.8,0zM699.6,802a5.4,5.4 0 1,0 10.8,0a5.4,5.4 0 1,0 -10.8,0zM702.6,811a5.4,5.4 0 1,0 10.8,0a5.4,5.4 0 1,0 -10.8,0zM686.9,800.4a5.4,5.4 0 1,0 10.8,0a5.4,5.4 0 1,0 -10.8,0zM714.8,834.3a5.4,5.4 0 1,0 10.8,0a5.4,5.4 0 1,0 -10.8,0zM642.6,698a5.4,5.4 0 1,0 10.8,0a5.4,5.4 0 1,0 -10.8,0zM628.2,687.5a5.4,5.4 0 1,0 10.8,0a5.4,5.4 0 1,0 -10.8,0zM612.4,681.5a5.4,5.4 0 1,0 10.8,0a5.4,5.4 0 1,0 -10.8,0zM593.6,717.6a5.4,5.4 0 1,0 10.8,0a5.4,5.4 0 1,0 -10.8,0zM601.2,714.6a5.4,5.4 0 1,0 10.8,0a5.4,5.4 0 1,0 -10.8,0zM609.4,710a5.4,5.4 0 1,0 10.8,0a5.4,5.4 0 1,0 -10.8,0zM624.5,710a5.4,5.4 0 1,0 10.8,0a5.4,5.4 0 1,0 -10.8,0zM587.6,704a5.4,5.4 0 1,0 10.8,0a5.4,5.4 0 1,0 -10.8,0zM643,698.3a5.4,5.4 0 1,0 10.8,0a5.4,5.4 0 1,0 -10.8,0zM702.3,684.2a5.4,5.4 0 1,0 10.8,0a5.4,5.4 0 1,0 -10.8,0zM730,673.1a5.4,5.4 0 1,0 10.8,0a5.4,5.4 0 1,0 -10.8,0zM729.4,680.5a5.4,5.4 0 1,0 10.8,0a5.4,5.4 0 1,0 -10.8,0zM712.2,695.9a5.4,5.4 0 1,0 10.8,0a5.4,5.4 0 1,0 -10.8,0zM725.7,703.9a5.4,5.4 0 1,0 10.8,0a5.4,5.4 0 1,0 -10.8,0zM707.2,711.3a5.4,5.4 0 1,0 10.8,0a5.4,5.4 0 1,0 -10.8,0zM706.1,710a5.4,5.4 0 1,0 10.8,0a5.4,5.4 0 1,0 -10.8,0zM708.1,712.5a5.4,5.4 0 1,0 10.8,0a5.4,5.4 0 1,0 -10.8,0zM776.2,672.5a5.4,5.4 0 1,0 10.8,0a5.4,5.4 0 1,0 -10.8,0zM769.4,680.5a5.4,5.4 0 1,0 10.8,0a5.4,5.4 0 1,0 -10.8,0zM753.4,710a5.4,5.4 0 1,0 10.8,0a5.4,5.4 0 1,0 -10.8,0zM718.9,722.3a5.4,5.4 0 1,0 10.8,0a5.4,5.4 0 1,0 -10.8,0zM731.9,724.2a5.4,5.4 0 1,0 10.8,0a5.4,5.4 0 1,0 -10.8,0zM741.1,724.2a5.4,5.4 0 1,0 10.8,0a5.4,5.4 0 1,0 -10.8,0zM728.8,735.9a5.4,5.4 0 1,0 10.8,0a5.4,5.4 0 1,0 -10.8,0zM694.9,736.5a5.4,5.4 0 1,0 10.8,0a5.4,5.4 0 1,0 -10.8,0zM682,740.8a5.4,5.4 0 1,0 10.8,0a5.4,5.4 0 1,0 -10.8,0zM712.2,737.7a5.4,5.4 0 1,0 10.8,0a5.4,5.4 0 1,0 -10.8,0zM714.6,748.8a5.4,5.4 0 1,0 10.8,0a5.4,5.4 0 1,0 -10.8,0zM697.4,755.6a5.4,5.4 0 1,0 10.8,0a5.4,5.4 0 1,0 -10.8,0zM743.6,679a5.4,5.4 0 1,0 10.8,0a5.4,5.4 0 1,0 -10.8,0zM746.6,683a5.4,5.4 0 1,0 10.8,0a5.4,5.4 0 1,0 -10.8,0zM749.6,688a5.4,5.4 0 1,0 10.8,0a5.4,5.4 0 1,0 -10.8,0zM752.6,681a5.4,5.4 0 1,0 10.8,0a5.4,5.4 0 1,0 -10.8,0zM755.6,686a5.4,5.4 0 1,0 10.8,0a5.4,5.4 0 1,0 -10.8,0zM747.6,692a5.4,5.4 0 1,0 10.8,0a5.4,5.4 0 1,0 -10.8,0zM751.6,696a5.4,5.4 0 1,0 10.8,0a5.4,5.4 0 1,0 -10.8,0zM756.6,693a5.4,5.4 0 1,0 10.8,0a5.4,5.4 0 1,0 -10.8,0zM742.6,690a5.4,5.4 0 1,0 10.8,0a5.4,5.4 0 1,0 -10.8,0zM745.6,697a5.4,5.4 0 1,0 10.8,0a5.4,5.4 0 1,0 -10.8,0zM555.9,697.2a5.4,5.4 0 1,0 10.8,0a5.4,5.4 0 1,0 -10.8,0zM570.2,696.6a5.4,5.4 0 1,0 10.8,0a5.4,5.4 0 1,0 -10.8,0zM586,704.3a5.4,5.4 0 1,0 10.8,0a5.4,5.4 0 1,0 -10.8,0zM542,708.1a5.4,5.4 0 1,0 10.8,0a5.4,5.4 0 1,0 -10.8,0zM559.8,720.1a5.4,5.4 0 1,0 10.8,0a5.4,5.4 0 1,0 -10.8,0zM542.8,725a5.4,5.4 0 1,0 10.8,0a5.4,5.4 0 1,0 -10.8,0zM594.2,718a5.4,5.4 0 1,0 10.8,0a5.4,5.4 0 1,0 -10.8,0zM601.4,714.1a5.4,5.4 0 1,0 10.8,0a5.4,5.4 0 1,0 -10.8,0zM610.1,709.2a5.4,5.4 0 1,0 10.8,0a5.4,5.4 0 1,0 -10.8,0zM624.9,710.3a5.4,5.4 0 1,0 10.8,0a5.4,5.4 0 1,0 -10.8,0zM655,708.6a5.4,5.4 0 1,0 10.8,0a5.4,5.4 0 1,0 -10.8,0zM665.9,691a5.4,5.4 0 1,0 10.8,0a5.4,5.4 0 1,0 -10.8,0zM674.6,692a5.4,5.4 0 1,0 10.8,0a5.4,5.4 0 1,0 -10.8,0z" fill="none" stroke="#1f77b4" stroke-width="2.55" stroke-linejoin="miter"/>
</g>
<rect x="333" y="60" width="1069" height="956" fill="none" stroke="#000" stroke-width="4" stroke-linejoin="miter"/>
<path d="M381,1016v-20M381,60v20M585.5,1016v-20M585.5,60v20M790,1016v-20M790,60v20M994.5,1016v-20M994.5,60v20M1199,1016v-20M1199,60v20M333,105h20M1402,105h-20M333,331.5h20M1402,331.5h-20M333,558h20M1402,558h-20M333,784.5h20M1402,784.5h-20M333,1011h20M1402,1011h-20" stroke="#000" stroke-width="4" fill="none"/>
<text transform="translate(211.7,128.4) scale(1.0161,1.0000)" font-size="63" fill="#000">1.5</text>
<text transform="translate(211.3,354.9) scale(1.0336,1.0000)" font-size="63" fill="#000">1.0</text>
<text transform="translate(211.7,581.4) scale(1.0190,1.0000)" font-size="63" fill="#000">0.5</text>
<text transform="translate(211.7,807.9) scale(1.0287,1.0000)" font-size="63" fill="#000">0.0</text>
<g><text transform="translate(164.1,1039) scale(1.2018,1.1000)" font-size="63" fill="#000">−</text><text transform="translate(210.8,1034.4) scale(1.0299,1.0000)" font-size="63" fill="#000">0.5</text></g>
<text transform="translate(362.4,1091.3) scale(1.0648,1.0000)" font-size="63" fill="#000">0</text>
<text transform="translate(529.5,1091.3) scale(1.0508,1.0000)" font-size="63" fill="#000">200</text>
<text transform="translate(735.8,1091.3) scale(1.0382,1.0000)" font-size="63" fill="#000">400</text>
<text transform="translate(938.9,1091.3) scale(1.0508,1.0000)" font-size="63" fill="#000">600</text>
<text transform="translate(1144.1,1091.3) scale(1.0442,1.0000)" font-size="63" fill="#000">800</text>
<g><text transform="translate(609,1188.9) scale(1.0116,1.0000)" font-size="63" fill="#000">Frequency</text><text transform="translate(932.5,1188.9) scale(1.0832,1.0000)" font-size="63" fill="#000">(cm</text><text transform="translate(1047,1166.7) scale(1.1875,1.0000)" font-size="43.4" fill="#000">−1</text><text transform="translate(1112.3,1188.9) scale(0.8181,1.0000)" font-size="63" fill="#000">)</text></g>
<text transform="translate(111.9,852.1) rotate(-90) scale(1.0526,1.0000)" font-size="63" fill="#000">Grüneisen parameter</text>
<rect x="1090" y="714" width="287" height="277" fill="#fff" fill-opacity="0.8" stroke="#888" stroke-width="2"/>
<text transform="translate(1179.8,773.2) scale(1.0437,1.0000)" font-size="52" fill="#000">TA(1)</text>
<text transform="translate(1179.8,835.7) scale(1.0437,1.0000)" font-size="52" fill="#000">TA(2)</text>
<text transform="translate(1181.7,898.2) scale(0.9582,1.0000)" font-size="52" fill="#000">LA</text>
<text transform="translate(1180.6,960.7) scale(1.0846,1.0000)" font-size="52" fill="#000">Optical</text>
<path d="M1130.1,755.5a5.4,5.4 0 1,0 10.8,0a5.4,5.4 0 1,0 -10.8,0z" fill="none" stroke="#1f77b4" stroke-width="2.55"/>
<path d="M1130.5,813.2h9.9l-5,9.9z" fill="none" stroke="#ff7f0e" stroke-width="2.5"/>
<path d="M1130.4,876.4h10.2v10.2h-10.2z" fill="none" stroke="#2ca02c" stroke-width="2.6"/>
<path d="M1127.6,944.5l7.9,-7.9l7.9,7.9l-7.9,7.9z" fill="none" stroke="#d62728" stroke-width="2.6"/>
</svg>
</body></html>
